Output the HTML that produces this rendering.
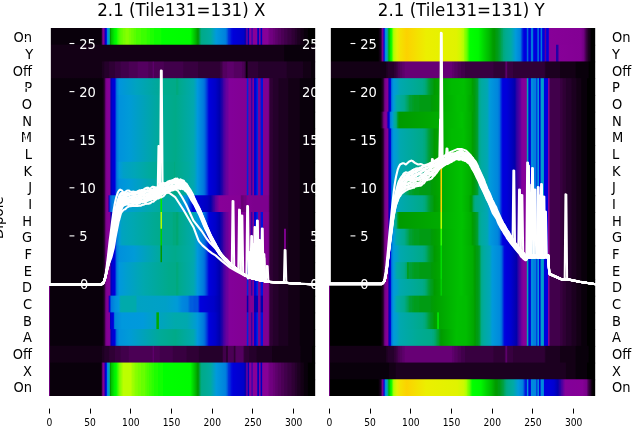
<!DOCTYPE html>
<html><head><meta charset="utf-8"><title>2.1 (Tile131=131)</title>
<style>
html,body{margin:0;padding:0;background:#fff}
body{width:640px;height:440px;overflow:hidden;font-family:"DejaVu Sans","Liberation Sans",sans-serif}
svg{display:block}
text{font-family:"DejaVu Sans","Liberation Sans",sans-serif}
.t{font-size:16.67px;fill:#000;text-anchor:middle}
.yl{font-size:13.89px;fill:#000}
.wl{font-size:13.89px;fill:#fff}
.xl{font-size:9.72px;fill:#000;text-anchor:middle}
.ln{fill:none;stroke:#fff;stroke-width:2.08;stroke-linejoin:round;stroke-linecap:square}
</style></head><body>
<svg width="640" height="440" viewBox="0 0 640 440">
<rect width="640" height="440" fill="#fff"/>
<defs><linearGradient id="g0_0" gradientUnits="userSpaceOnUse" x1="49.00" y1="0" x2="315.10" y2="0"><stop offset="0.001529" stop-color="#7a008b"/><stop offset="0.004587" stop-color="#09000b"/><stop offset="0.1942" stop-color="#09000b"/><stop offset="0.1972" stop-color="#1c0020"/><stop offset="0.2003" stop-color="#5d006b"/><stop offset="0.2034" stop-color="#820093"/><stop offset="0.2064" stop-color="#870098"/><stop offset="0.2095" stop-color="#3800a3"/><stop offset="0.2125" stop-color="#0000d1"/><stop offset="0.2156" stop-color="#0009dd"/><stop offset="0.2187" stop-color="#0085dd"/><stop offset="0.2217" stop-color="#009adb"/><stop offset="0.2278" stop-color="#00aa93"/><stop offset="0.2309" stop-color="#009c00"/><stop offset="0.2339" stop-color="#00bf00"/><stop offset="0.2462" stop-color="#00ef00"/><stop offset="0.2523" stop-color="#00fc00"/><stop offset="0.2554" stop-color="#0fff00"/><stop offset="0.2584" stop-color="#2cff00"/><stop offset="0.2676" stop-color="#58ff00"/><stop offset="0.2706" stop-color="#58ff00"/><stop offset="0.2737" stop-color="#67ff00"/><stop offset="0.2768" stop-color="#67ff00"/><stop offset="0.2798" stop-color="#75ff00"/><stop offset="0.2859" stop-color="#75ff00"/><stop offset="0.289" stop-color="#84ff00"/><stop offset="0.2982" stop-color="#84ff00"/><stop offset="0.3012" stop-color="#75ff00"/><stop offset="0.3073" stop-color="#75ff00"/><stop offset="0.3104" stop-color="#67ff00"/><stop offset="0.3165" stop-color="#67ff00"/><stop offset="0.3196" stop-color="#58ff00"/><stop offset="0.3257" stop-color="#58ff00"/><stop offset="0.3287" stop-color="#49ff00"/><stop offset="0.344" stop-color="#49ff00"/><stop offset="0.3471" stop-color="#3bff00"/><stop offset="0.3654" stop-color="#3bff00"/><stop offset="0.3685" stop-color="#2cff00"/><stop offset="0.3777" stop-color="#2cff00"/><stop offset="0.3807" stop-color="#1dff00"/><stop offset="0.393" stop-color="#1dff00"/><stop offset="0.396" stop-color="#0fff00"/><stop offset="0.4205" stop-color="#0fff00"/><stop offset="0.4235" stop-color="#00ff00"/><stop offset="0.5306" stop-color="#00fc00"/><stop offset="0.552" stop-color="#00b400"/><stop offset="0.5581" stop-color="#009c00"/><stop offset="0.5612" stop-color="#009a08"/><stop offset="0.5642" stop-color="#009e28"/><stop offset="0.5673" stop-color="#00a353"/><stop offset="0.5703" stop-color="#00a773"/><stop offset="0.5734" stop-color="#00aa88"/><stop offset="0.607" stop-color="#00aaa0"/><stop offset="0.6284" stop-color="#009adb"/><stop offset="0.6621" stop-color="#0082dd"/><stop offset="0.6651" stop-color="#007add"/><stop offset="0.6713" stop-color="#0054dd"/><stop offset="0.6743" stop-color="#0038dd"/><stop offset="0.6804" stop-color="#0025dd"/><stop offset="0.6865" stop-color="#0009dd"/><stop offset="0.6927" stop-color="#0000d9"/><stop offset="0.7263" stop-color="#0000cd"/><stop offset="0.7324" stop-color="#0000c9"/><stop offset="0.7355" stop-color="#0000b9"/><stop offset="0.7385" stop-color="#0d00a8"/><stop offset="0.7446" stop-color="#870098"/><stop offset="0.7477" stop-color="#0000bd"/><stop offset="0.7508" stop-color="#0000bd"/><stop offset="0.7538" stop-color="#870098"/><stop offset="0.7599" stop-color="#870098"/><stop offset="0.763" stop-color="#0000bd"/><stop offset="0.7661" stop-color="#870098"/><stop offset="0.7813" stop-color="#870098"/><stop offset="0.7844" stop-color="#0000bd"/><stop offset="0.7875" stop-color="#0000bd"/><stop offset="0.7905" stop-color="#870098"/><stop offset="0.7936" stop-color="#870098"/><stop offset="0.7966" stop-color="#0000bd"/><stop offset="0.7997" stop-color="#0000bd"/><stop offset="0.8028" stop-color="#870098"/><stop offset="0.8211" stop-color="#870098"/><stop offset="0.8303" stop-color="#700080"/><stop offset="0.8394" stop-color="#700080"/><stop offset="0.8425" stop-color="#670075"/><stop offset="0.8486" stop-color="#670075"/><stop offset="0.8517" stop-color="#5d006b"/><stop offset="0.8578" stop-color="#5d006b"/><stop offset="0.8609" stop-color="#540060"/><stop offset="0.87" stop-color="#540060"/><stop offset="0.8731" stop-color="#4b0055"/><stop offset="0.8823" stop-color="#4b0055"/><stop offset="0.8853" stop-color="#41004b"/><stop offset="0.8945" stop-color="#41004b"/><stop offset="0.8976" stop-color="#380040"/><stop offset="0.9098" stop-color="#380040"/><stop offset="0.9128" stop-color="#2f0035"/><stop offset="0.922" stop-color="#2f0035"/><stop offset="0.9251" stop-color="#25002b"/><stop offset="0.9312" stop-color="#25002b"/><stop offset="0.9343" stop-color="#1c0020"/><stop offset="0.9434" stop-color="#1c0020"/><stop offset="0.9465" stop-color="#130015"/><stop offset="0.9557" stop-color="#130015"/><stop offset="0.9587" stop-color="#09000b"/><stop offset="0.9709" stop-color="#09000b"/><stop offset="0.974" stop-color="#000000"/><stop offset="0.9985" stop-color="#000000"/></linearGradient>
<linearGradient id="g0_1" gradientUnits="userSpaceOnUse" x1="49.00" y1="0" x2="315.10" y2="0"><stop offset="0.001529" stop-color="#7a008b"/><stop offset="0.004587" stop-color="#130015"/><stop offset="0.8823" stop-color="#130015"/><stop offset="0.8853" stop-color="#09000b"/><stop offset="0.9985" stop-color="#09000b"/></linearGradient>
<linearGradient id="g0_2" gradientUnits="userSpaceOnUse" x1="49.00" y1="0" x2="315.10" y2="0"><stop offset="0.001529" stop-color="#7a008b"/><stop offset="0.004587" stop-color="#130015"/><stop offset="0.1972" stop-color="#130015"/><stop offset="0.2003" stop-color="#1c0020"/><stop offset="0.2064" stop-color="#1c0020"/><stop offset="0.2095" stop-color="#25002b"/><stop offset="0.2248" stop-color="#25002b"/><stop offset="0.2278" stop-color="#2f0035"/><stop offset="0.2462" stop-color="#2f0035"/><stop offset="0.2492" stop-color="#380040"/><stop offset="0.2676" stop-color="#380040"/><stop offset="0.2706" stop-color="#41004b"/><stop offset="0.2982" stop-color="#41004b"/><stop offset="0.3012" stop-color="#4b0055"/><stop offset="0.3318" stop-color="#4b0055"/><stop offset="0.3349" stop-color="#540060"/><stop offset="0.3716" stop-color="#540060"/><stop offset="0.3746" stop-color="#4b0055"/><stop offset="0.3869" stop-color="#4b0055"/><stop offset="0.393" stop-color="#5d006b"/><stop offset="0.396" stop-color="#4b0055"/><stop offset="0.4297" stop-color="#4b0055"/><stop offset="0.4327" stop-color="#41004b"/><stop offset="0.5031" stop-color="#41004b"/><stop offset="0.5061" stop-color="#380040"/><stop offset="0.5581" stop-color="#380040"/><stop offset="0.5612" stop-color="#2f0035"/><stop offset="0.6407" stop-color="#2f0035"/><stop offset="0.6437" stop-color="#380040"/><stop offset="0.6468" stop-color="#380040"/><stop offset="0.656" stop-color="#540060"/><stop offset="0.6682" stop-color="#540060"/><stop offset="0.6713" stop-color="#5d006b"/><stop offset="0.6927" stop-color="#5d006b"/><stop offset="0.6957" stop-color="#540060"/><stop offset="0.7232" stop-color="#540060"/><stop offset="0.7263" stop-color="#4b0055"/><stop offset="0.7324" stop-color="#4b0055"/><stop offset="0.7355" stop-color="#41004b"/><stop offset="0.7385" stop-color="#2f0035"/><stop offset="0.7416" stop-color="#09000b"/><stop offset="0.7446" stop-color="#09000b"/><stop offset="0.7477" stop-color="#2f0035"/><stop offset="0.7844" stop-color="#2f0035"/><stop offset="0.7875" stop-color="#25002b"/><stop offset="0.8914" stop-color="#25002b"/><stop offset="0.8945" stop-color="#1c0020"/><stop offset="0.9526" stop-color="#1c0020"/><stop offset="0.9557" stop-color="#130015"/><stop offset="0.9832" stop-color="#130015"/><stop offset="0.9862" stop-color="#09000b"/><stop offset="0.9985" stop-color="#09000b"/></linearGradient>
<linearGradient id="g0_3" gradientUnits="userSpaceOnUse" x1="49.00" y1="0" x2="315.10" y2="0"><stop offset="0.001529" stop-color="#7a008b"/><stop offset="0.004587" stop-color="#09000b"/><stop offset="0.2003" stop-color="#09000b"/><stop offset="0.2064" stop-color="#1c0020"/><stop offset="0.2095" stop-color="#380040"/><stop offset="0.2125" stop-color="#670075"/><stop offset="0.2156" stop-color="#7d008e"/><stop offset="0.2217" stop-color="#870098"/><stop offset="0.2278" stop-color="#83009a"/><stop offset="0.2309" stop-color="#4300a2"/><stop offset="0.2339" stop-color="#0000b5"/><stop offset="0.237" stop-color="#0000d1"/><stop offset="0.2462" stop-color="#0000d9"/><stop offset="0.2492" stop-color="#001cdd"/><stop offset="0.2523" stop-color="#005ddd"/><stop offset="0.2554" stop-color="#007ddd"/><stop offset="0.2645" stop-color="#0095dd"/><stop offset="0.3287" stop-color="#00a3bf"/><stop offset="0.4358" stop-color="#00aa8d"/><stop offset="0.4755" stop-color="#00aa88"/><stop offset="0.4786" stop-color="#00a97d"/><stop offset="0.4847" stop-color="#00a97d"/><stop offset="0.4878" stop-color="#00aa8b"/><stop offset="0.5428" stop-color="#00a8af"/><stop offset="0.5489" stop-color="#00a3bf"/><stop offset="0.5581" stop-color="#0098dd"/><stop offset="0.5795" stop-color="#007add"/><stop offset="0.5856" stop-color="#0067dd"/><stop offset="0.5948" stop-color="#002fdd"/><stop offset="0.6009" stop-color="#0000dd"/><stop offset="0.6254" stop-color="#0000c9"/><stop offset="0.6407" stop-color="#0000ad"/><stop offset="0.6529" stop-color="#2d00a4"/><stop offset="0.656" stop-color="#4300a2"/><stop offset="0.6682" stop-color="#6d009c"/><stop offset="0.6713" stop-color="#6d009c"/><stop offset="0.6774" stop-color="#83009a"/><stop offset="0.7416" stop-color="#820093"/><stop offset="0.7446" stop-color="#0025dd"/><stop offset="0.7477" stop-color="#0025dd"/><stop offset="0.7508" stop-color="#820093"/><stop offset="0.7569" stop-color="#820093"/><stop offset="0.7599" stop-color="#3800a3"/><stop offset="0.763" stop-color="#3800a3"/><stop offset="0.7661" stop-color="#820093"/><stop offset="0.7691" stop-color="#820093"/><stop offset="0.7722" stop-color="#0000d5"/><stop offset="0.7783" stop-color="#0000d5"/><stop offset="0.7813" stop-color="#0025dd"/><stop offset="0.7844" stop-color="#0025dd"/><stop offset="0.7875" stop-color="#820093"/><stop offset="0.7936" stop-color="#810092"/><stop offset="0.7966" stop-color="#0013dd"/><stop offset="0.8028" stop-color="#0013dd"/><stop offset="0.8058" stop-color="#810092"/><stop offset="0.8242" stop-color="#810092"/><stop offset="0.8272" stop-color="#5d006b"/><stop offset="0.8303" stop-color="#2f0035"/><stop offset="0.8394" stop-color="#2f0035"/><stop offset="0.8425" stop-color="#25002b"/><stop offset="0.8609" stop-color="#25002b"/><stop offset="0.8639" stop-color="#1c0020"/><stop offset="0.8976" stop-color="#1c0020"/><stop offset="0.9006" stop-color="#130015"/><stop offset="0.9404" stop-color="#130015"/><stop offset="0.9434" stop-color="#09000b"/><stop offset="0.9924" stop-color="#09000b"/><stop offset="0.9954" stop-color="#000000"/><stop offset="0.9985" stop-color="#000000"/></linearGradient>
<linearGradient id="g0_4" gradientUnits="userSpaceOnUse" x1="49.00" y1="0" x2="315.10" y2="0"><stop offset="0.001529" stop-color="#7a008b"/><stop offset="0.004587" stop-color="#09000b"/><stop offset="0.2003" stop-color="#09000b"/><stop offset="0.2064" stop-color="#1c0020"/><stop offset="0.2095" stop-color="#380040"/><stop offset="0.2125" stop-color="#670075"/><stop offset="0.2156" stop-color="#7d008e"/><stop offset="0.2217" stop-color="#870098"/><stop offset="0.2278" stop-color="#83009a"/><stop offset="0.2309" stop-color="#4300a2"/><stop offset="0.2339" stop-color="#0000b5"/><stop offset="0.237" stop-color="#0000d1"/><stop offset="0.2462" stop-color="#0000d9"/><stop offset="0.2492" stop-color="#001cdd"/><stop offset="0.2523" stop-color="#005ddd"/><stop offset="0.2554" stop-color="#007add"/><stop offset="0.2645" stop-color="#0092dd"/><stop offset="0.3012" stop-color="#009bd7"/><stop offset="0.4174" stop-color="#00aa98"/><stop offset="0.4755" stop-color="#00aa88"/><stop offset="0.5428" stop-color="#00a8af"/><stop offset="0.5489" stop-color="#00a3bf"/><stop offset="0.5581" stop-color="#0098dd"/><stop offset="0.5795" stop-color="#007add"/><stop offset="0.5856" stop-color="#0067dd"/><stop offset="0.5948" stop-color="#002fdd"/><stop offset="0.6009" stop-color="#0000dd"/><stop offset="0.6254" stop-color="#0000c9"/><stop offset="0.6407" stop-color="#0000ad"/><stop offset="0.6529" stop-color="#2d00a4"/><stop offset="0.656" stop-color="#4300a2"/><stop offset="0.6682" stop-color="#6d009c"/><stop offset="0.6713" stop-color="#6d009c"/><stop offset="0.6774" stop-color="#83009a"/><stop offset="0.7416" stop-color="#820093"/><stop offset="0.7446" stop-color="#0025dd"/><stop offset="0.7477" stop-color="#0025dd"/><stop offset="0.7508" stop-color="#820093"/><stop offset="0.7569" stop-color="#820093"/><stop offset="0.7599" stop-color="#3800a3"/><stop offset="0.763" stop-color="#3800a3"/><stop offset="0.7661" stop-color="#820093"/><stop offset="0.7691" stop-color="#820093"/><stop offset="0.7722" stop-color="#0000d5"/><stop offset="0.7783" stop-color="#0000d5"/><stop offset="0.7813" stop-color="#0025dd"/><stop offset="0.7844" stop-color="#0025dd"/><stop offset="0.7875" stop-color="#820093"/><stop offset="0.7936" stop-color="#810092"/><stop offset="0.7966" stop-color="#0013dd"/><stop offset="0.8028" stop-color="#0013dd"/><stop offset="0.8058" stop-color="#810092"/><stop offset="0.8242" stop-color="#810092"/><stop offset="0.8272" stop-color="#5d006b"/><stop offset="0.8303" stop-color="#2f0035"/><stop offset="0.8394" stop-color="#2f0035"/><stop offset="0.8425" stop-color="#25002b"/><stop offset="0.8609" stop-color="#25002b"/><stop offset="0.8639" stop-color="#1c0020"/><stop offset="0.8976" stop-color="#1c0020"/><stop offset="0.9006" stop-color="#130015"/><stop offset="0.9404" stop-color="#130015"/><stop offset="0.9434" stop-color="#09000b"/><stop offset="0.9924" stop-color="#09000b"/><stop offset="0.9954" stop-color="#000000"/><stop offset="0.9985" stop-color="#000000"/></linearGradient>
<linearGradient id="g0_5" gradientUnits="userSpaceOnUse" x1="49.00" y1="0" x2="315.10" y2="0"><stop offset="0.001529" stop-color="#7a008b"/><stop offset="0.004587" stop-color="#09000b"/><stop offset="0.2003" stop-color="#09000b"/><stop offset="0.2064" stop-color="#1c0020"/><stop offset="0.2095" stop-color="#380040"/><stop offset="0.2125" stop-color="#670075"/><stop offset="0.2156" stop-color="#7d008e"/><stop offset="0.2217" stop-color="#870098"/><stop offset="0.2278" stop-color="#83009a"/><stop offset="0.2309" stop-color="#4300a2"/><stop offset="0.2339" stop-color="#0000b5"/><stop offset="0.237" stop-color="#0000d1"/><stop offset="0.2462" stop-color="#0000d9"/><stop offset="0.2492" stop-color="#001cdd"/><stop offset="0.2523" stop-color="#005ddd"/><stop offset="0.2554" stop-color="#007add"/><stop offset="0.2645" stop-color="#0092dd"/><stop offset="0.3012" stop-color="#009bd7"/><stop offset="0.4174" stop-color="#00aa98"/><stop offset="0.4755" stop-color="#00aa88"/><stop offset="0.5428" stop-color="#00a8af"/><stop offset="0.5489" stop-color="#00a3bf"/><stop offset="0.5581" stop-color="#0098dd"/><stop offset="0.5795" stop-color="#007add"/><stop offset="0.5856" stop-color="#0067dd"/><stop offset="0.5948" stop-color="#002fdd"/><stop offset="0.6009" stop-color="#0000dd"/><stop offset="0.6254" stop-color="#0000c9"/><stop offset="0.6407" stop-color="#0000ad"/><stop offset="0.6529" stop-color="#2d00a4"/><stop offset="0.656" stop-color="#4300a2"/><stop offset="0.6682" stop-color="#6d009c"/><stop offset="0.6713" stop-color="#6d009c"/><stop offset="0.6774" stop-color="#83009a"/><stop offset="0.7416" stop-color="#820093"/><stop offset="0.7446" stop-color="#0025dd"/><stop offset="0.7477" stop-color="#0025dd"/><stop offset="0.7508" stop-color="#820093"/><stop offset="0.7569" stop-color="#820093"/><stop offset="0.7599" stop-color="#3800a3"/><stop offset="0.763" stop-color="#3800a3"/><stop offset="0.7661" stop-color="#820093"/><stop offset="0.7691" stop-color="#820093"/><stop offset="0.7722" stop-color="#0000d5"/><stop offset="0.7783" stop-color="#0000d5"/><stop offset="0.7813" stop-color="#0025dd"/><stop offset="0.7844" stop-color="#0025dd"/><stop offset="0.7875" stop-color="#820093"/><stop offset="0.7936" stop-color="#810092"/><stop offset="0.7966" stop-color="#0013dd"/><stop offset="0.8028" stop-color="#0013dd"/><stop offset="0.8058" stop-color="#810092"/><stop offset="0.8242" stop-color="#810092"/><stop offset="0.8272" stop-color="#5d006b"/><stop offset="0.8303" stop-color="#2f0035"/><stop offset="0.8394" stop-color="#2f0035"/><stop offset="0.8425" stop-color="#25002b"/><stop offset="0.8609" stop-color="#25002b"/><stop offset="0.8639" stop-color="#1c0020"/><stop offset="0.8976" stop-color="#1c0020"/><stop offset="0.9006" stop-color="#130015"/><stop offset="0.9404" stop-color="#130015"/><stop offset="0.9434" stop-color="#09000b"/><stop offset="0.9924" stop-color="#09000b"/><stop offset="0.9954" stop-color="#000000"/><stop offset="0.9985" stop-color="#000000"/></linearGradient>
<linearGradient id="g0_6" gradientUnits="userSpaceOnUse" x1="49.00" y1="0" x2="315.10" y2="0"><stop offset="0.001529" stop-color="#7a008b"/><stop offset="0.004587" stop-color="#09000b"/><stop offset="0.2003" stop-color="#09000b"/><stop offset="0.2064" stop-color="#1c0020"/><stop offset="0.2095" stop-color="#380040"/><stop offset="0.2125" stop-color="#670075"/><stop offset="0.2156" stop-color="#7d008e"/><stop offset="0.2217" stop-color="#870098"/><stop offset="0.2278" stop-color="#83009a"/><stop offset="0.2309" stop-color="#4300a2"/><stop offset="0.2339" stop-color="#0000b5"/><stop offset="0.237" stop-color="#0000d1"/><stop offset="0.2462" stop-color="#0000d9"/><stop offset="0.2492" stop-color="#001cdd"/><stop offset="0.2523" stop-color="#005ddd"/><stop offset="0.2554" stop-color="#007add"/><stop offset="0.2645" stop-color="#0092dd"/><stop offset="0.3012" stop-color="#009bd7"/><stop offset="0.4174" stop-color="#00aa98"/><stop offset="0.4755" stop-color="#00aa88"/><stop offset="0.5428" stop-color="#00a8af"/><stop offset="0.5489" stop-color="#00a3bf"/><stop offset="0.5581" stop-color="#0098dd"/><stop offset="0.5795" stop-color="#007add"/><stop offset="0.5856" stop-color="#0067dd"/><stop offset="0.5948" stop-color="#002fdd"/><stop offset="0.6009" stop-color="#0000dd"/><stop offset="0.6254" stop-color="#0000c9"/><stop offset="0.6407" stop-color="#0000ad"/><stop offset="0.6529" stop-color="#2d00a4"/><stop offset="0.656" stop-color="#4300a2"/><stop offset="0.6682" stop-color="#6d009c"/><stop offset="0.6713" stop-color="#6d009c"/><stop offset="0.6774" stop-color="#83009a"/><stop offset="0.7416" stop-color="#820093"/><stop offset="0.7446" stop-color="#0025dd"/><stop offset="0.7477" stop-color="#0025dd"/><stop offset="0.7508" stop-color="#820093"/><stop offset="0.7569" stop-color="#820093"/><stop offset="0.7599" stop-color="#3800a3"/><stop offset="0.763" stop-color="#3800a3"/><stop offset="0.7661" stop-color="#820093"/><stop offset="0.7691" stop-color="#820093"/><stop offset="0.7722" stop-color="#0000d5"/><stop offset="0.7783" stop-color="#0000d5"/><stop offset="0.7813" stop-color="#0025dd"/><stop offset="0.7844" stop-color="#0025dd"/><stop offset="0.7875" stop-color="#820093"/><stop offset="0.7936" stop-color="#810092"/><stop offset="0.7966" stop-color="#0013dd"/><stop offset="0.8028" stop-color="#0013dd"/><stop offset="0.8058" stop-color="#810092"/><stop offset="0.8242" stop-color="#810092"/><stop offset="0.8272" stop-color="#5d006b"/><stop offset="0.8303" stop-color="#2f0035"/><stop offset="0.8394" stop-color="#2f0035"/><stop offset="0.8425" stop-color="#25002b"/><stop offset="0.8609" stop-color="#25002b"/><stop offset="0.8639" stop-color="#1c0020"/><stop offset="0.8976" stop-color="#1c0020"/><stop offset="0.9006" stop-color="#130015"/><stop offset="0.9404" stop-color="#130015"/><stop offset="0.9434" stop-color="#09000b"/><stop offset="0.9924" stop-color="#09000b"/><stop offset="0.9954" stop-color="#000000"/><stop offset="0.9985" stop-color="#000000"/></linearGradient>
<linearGradient id="g0_7" gradientUnits="userSpaceOnUse" x1="49.00" y1="0" x2="315.10" y2="0"><stop offset="0.001529" stop-color="#7a008b"/><stop offset="0.004587" stop-color="#09000b"/><stop offset="0.2003" stop-color="#09000b"/><stop offset="0.2064" stop-color="#1c0020"/><stop offset="0.2095" stop-color="#380040"/><stop offset="0.2125" stop-color="#670075"/><stop offset="0.2156" stop-color="#7d008e"/><stop offset="0.2217" stop-color="#870098"/><stop offset="0.2278" stop-color="#83009a"/><stop offset="0.2309" stop-color="#4300a2"/><stop offset="0.2339" stop-color="#0000b5"/><stop offset="0.237" stop-color="#0000d1"/><stop offset="0.2462" stop-color="#0000d9"/><stop offset="0.2492" stop-color="#001cdd"/><stop offset="0.2523" stop-color="#005ddd"/><stop offset="0.2554" stop-color="#007add"/><stop offset="0.2645" stop-color="#0092dd"/><stop offset="0.3012" stop-color="#009bd7"/><stop offset="0.4174" stop-color="#00aa98"/><stop offset="0.4755" stop-color="#00aa88"/><stop offset="0.5428" stop-color="#00a8af"/><stop offset="0.5489" stop-color="#00a3bf"/><stop offset="0.5581" stop-color="#0098dd"/><stop offset="0.5795" stop-color="#007add"/><stop offset="0.5856" stop-color="#0067dd"/><stop offset="0.5948" stop-color="#002fdd"/><stop offset="0.6009" stop-color="#0000dd"/><stop offset="0.6254" stop-color="#0000c9"/><stop offset="0.6407" stop-color="#0000ad"/><stop offset="0.6529" stop-color="#2d00a4"/><stop offset="0.656" stop-color="#4300a2"/><stop offset="0.6682" stop-color="#6d009c"/><stop offset="0.6713" stop-color="#6d009c"/><stop offset="0.6774" stop-color="#83009a"/><stop offset="0.7416" stop-color="#820093"/><stop offset="0.7446" stop-color="#0025dd"/><stop offset="0.7477" stop-color="#0025dd"/><stop offset="0.7508" stop-color="#820093"/><stop offset="0.7569" stop-color="#820093"/><stop offset="0.7599" stop-color="#3800a3"/><stop offset="0.763" stop-color="#3800a3"/><stop offset="0.7661" stop-color="#820093"/><stop offset="0.7691" stop-color="#820093"/><stop offset="0.7722" stop-color="#0000d5"/><stop offset="0.7783" stop-color="#0000d5"/><stop offset="0.7813" stop-color="#0025dd"/><stop offset="0.7844" stop-color="#0025dd"/><stop offset="0.7875" stop-color="#820093"/><stop offset="0.7936" stop-color="#810092"/><stop offset="0.7966" stop-color="#0013dd"/><stop offset="0.8028" stop-color="#0013dd"/><stop offset="0.8058" stop-color="#810092"/><stop offset="0.8242" stop-color="#810092"/><stop offset="0.8272" stop-color="#5d006b"/><stop offset="0.8303" stop-color="#2f0035"/><stop offset="0.8394" stop-color="#2f0035"/><stop offset="0.8425" stop-color="#25002b"/><stop offset="0.8609" stop-color="#25002b"/><stop offset="0.8639" stop-color="#1c0020"/><stop offset="0.8976" stop-color="#1c0020"/><stop offset="0.9006" stop-color="#130015"/><stop offset="0.9404" stop-color="#130015"/><stop offset="0.9434" stop-color="#09000b"/><stop offset="0.9924" stop-color="#09000b"/><stop offset="0.9954" stop-color="#000000"/><stop offset="0.9985" stop-color="#000000"/></linearGradient>
<linearGradient id="g0_8" gradientUnits="userSpaceOnUse" x1="49.00" y1="0" x2="315.10" y2="0"><stop offset="0.001529" stop-color="#7a008b"/><stop offset="0.004587" stop-color="#09000b"/><stop offset="0.2003" stop-color="#09000b"/><stop offset="0.2064" stop-color="#1c0020"/><stop offset="0.2095" stop-color="#380040"/><stop offset="0.2125" stop-color="#670075"/><stop offset="0.2156" stop-color="#7d008e"/><stop offset="0.2217" stop-color="#870098"/><stop offset="0.2278" stop-color="#83009a"/><stop offset="0.2309" stop-color="#4300a2"/><stop offset="0.2339" stop-color="#0000b5"/><stop offset="0.237" stop-color="#0000d1"/><stop offset="0.2462" stop-color="#0000d9"/><stop offset="0.2492" stop-color="#001cdd"/><stop offset="0.2523" stop-color="#005ddd"/><stop offset="0.2554" stop-color="#007ddd"/><stop offset="0.2645" stop-color="#009adb"/><stop offset="0.2798" stop-color="#00a0c7"/><stop offset="0.3226" stop-color="#00a6b7"/><stop offset="0.3777" stop-color="#00aa9d"/><stop offset="0.4511" stop-color="#00aa8b"/><stop offset="0.4694" stop-color="#00aa88"/><stop offset="0.4725" stop-color="#00a97d"/><stop offset="0.4755" stop-color="#00aa88"/><stop offset="0.5245" stop-color="#00aaa0"/><stop offset="0.5459" stop-color="#00a7b3"/><stop offset="0.5581" stop-color="#0098dd"/><stop offset="0.5795" stop-color="#007add"/><stop offset="0.5856" stop-color="#0067dd"/><stop offset="0.5948" stop-color="#002fdd"/><stop offset="0.6009" stop-color="#0000dd"/><stop offset="0.6254" stop-color="#0000c9"/><stop offset="0.6407" stop-color="#0000ad"/><stop offset="0.6529" stop-color="#2d00a4"/><stop offset="0.656" stop-color="#4300a2"/><stop offset="0.6682" stop-color="#6d009c"/><stop offset="0.6713" stop-color="#6d009c"/><stop offset="0.6774" stop-color="#83009a"/><stop offset="0.7416" stop-color="#820093"/><stop offset="0.7446" stop-color="#0025dd"/><stop offset="0.7477" stop-color="#0025dd"/><stop offset="0.7508" stop-color="#820093"/><stop offset="0.7569" stop-color="#820093"/><stop offset="0.7599" stop-color="#3800a3"/><stop offset="0.763" stop-color="#3800a3"/><stop offset="0.7661" stop-color="#820093"/><stop offset="0.7691" stop-color="#820093"/><stop offset="0.7722" stop-color="#0000d5"/><stop offset="0.7783" stop-color="#0000d5"/><stop offset="0.7813" stop-color="#0025dd"/><stop offset="0.7844" stop-color="#0025dd"/><stop offset="0.7875" stop-color="#820093"/><stop offset="0.7936" stop-color="#810092"/><stop offset="0.7966" stop-color="#0013dd"/><stop offset="0.8028" stop-color="#0013dd"/><stop offset="0.8058" stop-color="#810092"/><stop offset="0.8242" stop-color="#810092"/><stop offset="0.8272" stop-color="#5d006b"/><stop offset="0.8303" stop-color="#2f0035"/><stop offset="0.8394" stop-color="#2f0035"/><stop offset="0.8425" stop-color="#25002b"/><stop offset="0.8609" stop-color="#25002b"/><stop offset="0.8639" stop-color="#1c0020"/><stop offset="0.8976" stop-color="#1c0020"/><stop offset="0.9006" stop-color="#130015"/><stop offset="0.9404" stop-color="#130015"/><stop offset="0.9434" stop-color="#09000b"/><stop offset="0.9924" stop-color="#09000b"/><stop offset="0.9954" stop-color="#000000"/><stop offset="0.9985" stop-color="#000000"/></linearGradient>
<linearGradient id="g0_9" gradientUnits="userSpaceOnUse" x1="49.00" y1="0" x2="315.10" y2="0"><stop offset="0.001529" stop-color="#7a008b"/><stop offset="0.004587" stop-color="#09000b"/><stop offset="0.2003" stop-color="#09000b"/><stop offset="0.2064" stop-color="#1c0020"/><stop offset="0.2095" stop-color="#380040"/><stop offset="0.2125" stop-color="#670075"/><stop offset="0.2156" stop-color="#7d008e"/><stop offset="0.2217" stop-color="#870098"/><stop offset="0.2278" stop-color="#83009a"/><stop offset="0.2309" stop-color="#4300a2"/><stop offset="0.2339" stop-color="#0000b5"/><stop offset="0.237" stop-color="#0000d1"/><stop offset="0.2462" stop-color="#0000d9"/><stop offset="0.2492" stop-color="#001cdd"/><stop offset="0.2523" stop-color="#005ddd"/><stop offset="0.2554" stop-color="#007add"/><stop offset="0.2645" stop-color="#0092dd"/><stop offset="0.3012" stop-color="#009bd7"/><stop offset="0.4174" stop-color="#00aa98"/><stop offset="0.4755" stop-color="#00aa88"/><stop offset="0.5428" stop-color="#00a8af"/><stop offset="0.5489" stop-color="#00a3bf"/><stop offset="0.5581" stop-color="#0098dd"/><stop offset="0.5795" stop-color="#007add"/><stop offset="0.5856" stop-color="#0067dd"/><stop offset="0.5948" stop-color="#002fdd"/><stop offset="0.6009" stop-color="#0000dd"/><stop offset="0.6254" stop-color="#0000c9"/><stop offset="0.6407" stop-color="#0000ad"/><stop offset="0.6529" stop-color="#2d00a4"/><stop offset="0.656" stop-color="#4300a2"/><stop offset="0.6682" stop-color="#6d009c"/><stop offset="0.6713" stop-color="#6d009c"/><stop offset="0.6774" stop-color="#83009a"/><stop offset="0.7416" stop-color="#820093"/><stop offset="0.7446" stop-color="#0025dd"/><stop offset="0.7477" stop-color="#0025dd"/><stop offset="0.7508" stop-color="#820093"/><stop offset="0.7569" stop-color="#820093"/><stop offset="0.7599" stop-color="#3800a3"/><stop offset="0.763" stop-color="#3800a3"/><stop offset="0.7661" stop-color="#820093"/><stop offset="0.7691" stop-color="#820093"/><stop offset="0.7722" stop-color="#0000d5"/><stop offset="0.7783" stop-color="#0000d5"/><stop offset="0.7813" stop-color="#0025dd"/><stop offset="0.7844" stop-color="#0025dd"/><stop offset="0.7875" stop-color="#820093"/><stop offset="0.7936" stop-color="#810092"/><stop offset="0.7966" stop-color="#0013dd"/><stop offset="0.8028" stop-color="#0013dd"/><stop offset="0.8058" stop-color="#810092"/><stop offset="0.8242" stop-color="#810092"/><stop offset="0.8272" stop-color="#5d006b"/><stop offset="0.8303" stop-color="#2f0035"/><stop offset="0.8394" stop-color="#2f0035"/><stop offset="0.8425" stop-color="#25002b"/><stop offset="0.8609" stop-color="#25002b"/><stop offset="0.8639" stop-color="#1c0020"/><stop offset="0.8976" stop-color="#1c0020"/><stop offset="0.9006" stop-color="#130015"/><stop offset="0.9404" stop-color="#130015"/><stop offset="0.9434" stop-color="#09000b"/><stop offset="0.9924" stop-color="#09000b"/><stop offset="0.9954" stop-color="#000000"/><stop offset="0.9985" stop-color="#000000"/></linearGradient>
<linearGradient id="g0_10" gradientUnits="userSpaceOnUse" x1="49.00" y1="0" x2="315.10" y2="0"><stop offset="0.001529" stop-color="#7a008b"/><stop offset="0.004587" stop-color="#09000b"/><stop offset="0.2003" stop-color="#09000b"/><stop offset="0.2064" stop-color="#1c0020"/><stop offset="0.2095" stop-color="#380040"/><stop offset="0.2125" stop-color="#670075"/><stop offset="0.2156" stop-color="#7d008e"/><stop offset="0.2217" stop-color="#870098"/><stop offset="0.2248" stop-color="#2300a6"/><stop offset="0.2278" stop-color="#0025dd"/><stop offset="0.2309" stop-color="#005ddd"/><stop offset="0.237" stop-color="#007ddd"/><stop offset="0.2676" stop-color="#009adb"/><stop offset="0.3349" stop-color="#00a2c3"/><stop offset="0.3991" stop-color="#00aaa5"/><stop offset="0.4174" stop-color="#00aaa0"/><stop offset="0.4205" stop-color="#00ea00"/><stop offset="0.4235" stop-color="#00ea00"/><stop offset="0.4266" stop-color="#00aaa0"/><stop offset="0.4694" stop-color="#00aaa3"/><stop offset="0.4847" stop-color="#00aaab"/><stop offset="0.5092" stop-color="#0095dd"/><stop offset="0.5214" stop-color="#007ddd"/><stop offset="0.5306" stop-color="#0038dd"/><stop offset="0.5398" stop-color="#0000dd"/><stop offset="0.5948" stop-color="#0000c1"/><stop offset="0.607" stop-color="#0000ad"/><stop offset="0.6131" stop-color="#1800a7"/><stop offset="0.6162" stop-color="#2d00a4"/><stop offset="0.6223" stop-color="#4300a2"/><stop offset="0.6254" stop-color="#58009f"/><stop offset="0.6407" stop-color="#870098"/><stop offset="0.7171" stop-color="#850096"/><stop offset="0.7202" stop-color="#7d008e"/><stop offset="0.7232" stop-color="#670075"/><stop offset="0.7294" stop-color="#670075"/><stop offset="0.7324" stop-color="#700080"/><stop offset="0.7385" stop-color="#700080"/><stop offset="0.7477" stop-color="#810092"/><stop offset="0.7691" stop-color="#7d008e"/><stop offset="0.8242" stop-color="#7d008e"/><stop offset="0.8303" stop-color="#2f0035"/><stop offset="0.8394" stop-color="#2f0035"/><stop offset="0.8425" stop-color="#25002b"/><stop offset="0.8609" stop-color="#25002b"/><stop offset="0.8639" stop-color="#1c0020"/><stop offset="0.8976" stop-color="#1c0020"/><stop offset="0.9006" stop-color="#130015"/><stop offset="0.9404" stop-color="#130015"/><stop offset="0.9434" stop-color="#09000b"/><stop offset="0.9924" stop-color="#09000b"/><stop offset="0.9954" stop-color="#000000"/><stop offset="0.9985" stop-color="#000000"/></linearGradient>
<linearGradient id="g0_11" gradientUnits="userSpaceOnUse" x1="49.00" y1="0" x2="315.10" y2="0"><stop offset="0.001529" stop-color="#7a008b"/><stop offset="0.004587" stop-color="#09000b"/><stop offset="0.2003" stop-color="#09000b"/><stop offset="0.2064" stop-color="#1c0020"/><stop offset="0.2095" stop-color="#380040"/><stop offset="0.2125" stop-color="#670075"/><stop offset="0.2156" stop-color="#7d008e"/><stop offset="0.2217" stop-color="#870098"/><stop offset="0.2278" stop-color="#83009a"/><stop offset="0.2309" stop-color="#4300a2"/><stop offset="0.2339" stop-color="#0000b5"/><stop offset="0.237" stop-color="#0000d1"/><stop offset="0.2462" stop-color="#0000d9"/><stop offset="0.2492" stop-color="#001cdd"/><stop offset="0.2523" stop-color="#005ddd"/><stop offset="0.2554" stop-color="#0080dd"/><stop offset="0.2645" stop-color="#009bd7"/><stop offset="0.2737" stop-color="#00a3bf"/><stop offset="0.3104" stop-color="#00a7b3"/><stop offset="0.396" stop-color="#00aa93"/><stop offset="0.4174" stop-color="#00aa8d"/><stop offset="0.4205" stop-color="#b0ff00"/><stop offset="0.4235" stop-color="#b0ff00"/><stop offset="0.4266" stop-color="#00aa8b"/><stop offset="0.4633" stop-color="#00aa88"/><stop offset="0.4664" stop-color="#00a97d"/><stop offset="0.4755" stop-color="#00a97d"/><stop offset="0.4786" stop-color="#00a773"/><stop offset="0.4847" stop-color="#00a773"/><stop offset="0.4878" stop-color="#00aa88"/><stop offset="0.5428" stop-color="#00a8af"/><stop offset="0.5489" stop-color="#00a3bf"/><stop offset="0.5581" stop-color="#0098dd"/><stop offset="0.5795" stop-color="#007add"/><stop offset="0.5856" stop-color="#0067dd"/><stop offset="0.5948" stop-color="#002fdd"/><stop offset="0.6009" stop-color="#0000dd"/><stop offset="0.6254" stop-color="#0000c9"/><stop offset="0.6407" stop-color="#0000ad"/><stop offset="0.6529" stop-color="#2d00a4"/><stop offset="0.656" stop-color="#4300a2"/><stop offset="0.6682" stop-color="#6d009c"/><stop offset="0.6713" stop-color="#6d009c"/><stop offset="0.6774" stop-color="#83009a"/><stop offset="0.7416" stop-color="#820093"/><stop offset="0.7446" stop-color="#0025dd"/><stop offset="0.7477" stop-color="#0025dd"/><stop offset="0.7508" stop-color="#820093"/><stop offset="0.7569" stop-color="#820093"/><stop offset="0.7599" stop-color="#3800a3"/><stop offset="0.763" stop-color="#3800a3"/><stop offset="0.7661" stop-color="#820093"/><stop offset="0.7691" stop-color="#820093"/><stop offset="0.7722" stop-color="#0000d5"/><stop offset="0.7783" stop-color="#0000d5"/><stop offset="0.7813" stop-color="#0025dd"/><stop offset="0.7844" stop-color="#0025dd"/><stop offset="0.7875" stop-color="#820093"/><stop offset="0.7936" stop-color="#810092"/><stop offset="0.7966" stop-color="#0013dd"/><stop offset="0.8028" stop-color="#0013dd"/><stop offset="0.8058" stop-color="#810092"/><stop offset="0.8242" stop-color="#810092"/><stop offset="0.8272" stop-color="#5d006b"/><stop offset="0.8303" stop-color="#2f0035"/><stop offset="0.8394" stop-color="#2f0035"/><stop offset="0.8425" stop-color="#25002b"/><stop offset="0.8609" stop-color="#25002b"/><stop offset="0.8639" stop-color="#1c0020"/><stop offset="0.8976" stop-color="#1c0020"/><stop offset="0.9006" stop-color="#130015"/><stop offset="0.9404" stop-color="#130015"/><stop offset="0.9434" stop-color="#09000b"/><stop offset="0.9924" stop-color="#09000b"/><stop offset="0.9954" stop-color="#000000"/><stop offset="0.9985" stop-color="#000000"/></linearGradient>
<linearGradient id="g0_12" gradientUnits="userSpaceOnUse" x1="49.00" y1="0" x2="315.10" y2="0"><stop offset="0.001529" stop-color="#7a008b"/><stop offset="0.004587" stop-color="#09000b"/><stop offset="0.2003" stop-color="#09000b"/><stop offset="0.2064" stop-color="#1c0020"/><stop offset="0.2095" stop-color="#380040"/><stop offset="0.2125" stop-color="#670075"/><stop offset="0.2156" stop-color="#7d008e"/><stop offset="0.2217" stop-color="#870098"/><stop offset="0.2278" stop-color="#83009a"/><stop offset="0.2309" stop-color="#4300a2"/><stop offset="0.2339" stop-color="#0000b5"/><stop offset="0.237" stop-color="#0000d1"/><stop offset="0.2462" stop-color="#0000d9"/><stop offset="0.2492" stop-color="#001cdd"/><stop offset="0.2523" stop-color="#005ddd"/><stop offset="0.2554" stop-color="#0080dd"/><stop offset="0.2645" stop-color="#009bd7"/><stop offset="0.2737" stop-color="#00a3bf"/><stop offset="0.3104" stop-color="#00a7b3"/><stop offset="0.396" stop-color="#00aa93"/><stop offset="0.4174" stop-color="#00aa8d"/><stop offset="0.4205" stop-color="#00cf00"/><stop offset="0.4235" stop-color="#00cf00"/><stop offset="0.4266" stop-color="#00aa8b"/><stop offset="0.4633" stop-color="#00aa88"/><stop offset="0.4664" stop-color="#00a97d"/><stop offset="0.4755" stop-color="#00a97d"/><stop offset="0.4786" stop-color="#00a773"/><stop offset="0.4847" stop-color="#00a773"/><stop offset="0.4878" stop-color="#00aa88"/><stop offset="0.5428" stop-color="#00a8af"/><stop offset="0.5489" stop-color="#00a3bf"/><stop offset="0.5581" stop-color="#0098dd"/><stop offset="0.5795" stop-color="#007add"/><stop offset="0.5856" stop-color="#0067dd"/><stop offset="0.5948" stop-color="#002fdd"/><stop offset="0.6009" stop-color="#0000dd"/><stop offset="0.6254" stop-color="#0000c9"/><stop offset="0.6407" stop-color="#0000ad"/><stop offset="0.6529" stop-color="#2d00a4"/><stop offset="0.656" stop-color="#4300a2"/><stop offset="0.6682" stop-color="#6d009c"/><stop offset="0.6713" stop-color="#6d009c"/><stop offset="0.6774" stop-color="#83009a"/><stop offset="0.7416" stop-color="#820093"/><stop offset="0.7446" stop-color="#0025dd"/><stop offset="0.7477" stop-color="#0025dd"/><stop offset="0.7508" stop-color="#820093"/><stop offset="0.7569" stop-color="#820093"/><stop offset="0.7599" stop-color="#3800a3"/><stop offset="0.763" stop-color="#3800a3"/><stop offset="0.7661" stop-color="#820093"/><stop offset="0.7691" stop-color="#820093"/><stop offset="0.7722" stop-color="#0000d5"/><stop offset="0.7783" stop-color="#0000d5"/><stop offset="0.7813" stop-color="#0025dd"/><stop offset="0.7844" stop-color="#0025dd"/><stop offset="0.7875" stop-color="#820093"/><stop offset="0.7936" stop-color="#810092"/><stop offset="0.7966" stop-color="#0013dd"/><stop offset="0.8028" stop-color="#0013dd"/><stop offset="0.8058" stop-color="#810092"/><stop offset="0.8242" stop-color="#810092"/><stop offset="0.8272" stop-color="#5d006b"/><stop offset="0.8303" stop-color="#2f0035"/><stop offset="0.8394" stop-color="#2f0035"/><stop offset="0.8425" stop-color="#25002b"/><stop offset="0.8609" stop-color="#25002b"/><stop offset="0.8639" stop-color="#1c0020"/><stop offset="0.8823" stop-color="#1c0020"/><stop offset="0.8853" stop-color="#850096"/><stop offset="0.8884" stop-color="#850096"/><stop offset="0.8914" stop-color="#1c0020"/><stop offset="0.8976" stop-color="#1c0020"/><stop offset="0.9006" stop-color="#130015"/><stop offset="0.9404" stop-color="#130015"/><stop offset="0.9434" stop-color="#09000b"/><stop offset="0.9924" stop-color="#09000b"/><stop offset="0.9954" stop-color="#000000"/><stop offset="0.9985" stop-color="#000000"/></linearGradient>
<linearGradient id="g0_13" gradientUnits="userSpaceOnUse" x1="49.00" y1="0" x2="315.10" y2="0"><stop offset="0.001529" stop-color="#7a008b"/><stop offset="0.004587" stop-color="#09000b"/><stop offset="0.2003" stop-color="#09000b"/><stop offset="0.2064" stop-color="#1c0020"/><stop offset="0.2095" stop-color="#380040"/><stop offset="0.2125" stop-color="#670075"/><stop offset="0.2156" stop-color="#7d008e"/><stop offset="0.2217" stop-color="#870098"/><stop offset="0.2278" stop-color="#83009a"/><stop offset="0.2309" stop-color="#4300a2"/><stop offset="0.2339" stop-color="#0000b5"/><stop offset="0.237" stop-color="#0000d1"/><stop offset="0.2462" stop-color="#0000d9"/><stop offset="0.2492" stop-color="#001cdd"/><stop offset="0.2523" stop-color="#005ddd"/><stop offset="0.2554" stop-color="#007add"/><stop offset="0.2645" stop-color="#0090dd"/><stop offset="0.3196" stop-color="#009bd7"/><stop offset="0.4174" stop-color="#00aa9d"/><stop offset="0.4205" stop-color="#009a00"/><stop offset="0.4235" stop-color="#009a00"/><stop offset="0.4266" stop-color="#00aa98"/><stop offset="0.4755" stop-color="#00aa8b"/><stop offset="0.5367" stop-color="#00aaa8"/><stop offset="0.5459" stop-color="#00a7b3"/><stop offset="0.5581" stop-color="#0098dd"/><stop offset="0.5795" stop-color="#007add"/><stop offset="0.5856" stop-color="#0067dd"/><stop offset="0.5948" stop-color="#002fdd"/><stop offset="0.6009" stop-color="#0000dd"/><stop offset="0.6254" stop-color="#0000c9"/><stop offset="0.6407" stop-color="#0000ad"/><stop offset="0.6529" stop-color="#2d00a4"/><stop offset="0.656" stop-color="#4300a2"/><stop offset="0.6682" stop-color="#6d009c"/><stop offset="0.6713" stop-color="#6d009c"/><stop offset="0.6774" stop-color="#83009a"/><stop offset="0.7416" stop-color="#820093"/><stop offset="0.7446" stop-color="#0025dd"/><stop offset="0.7477" stop-color="#0025dd"/><stop offset="0.7508" stop-color="#820093"/><stop offset="0.7569" stop-color="#820093"/><stop offset="0.7599" stop-color="#3800a3"/><stop offset="0.763" stop-color="#3800a3"/><stop offset="0.7661" stop-color="#820093"/><stop offset="0.7691" stop-color="#820093"/><stop offset="0.7722" stop-color="#0000d5"/><stop offset="0.7783" stop-color="#0000d5"/><stop offset="0.7813" stop-color="#0025dd"/><stop offset="0.7844" stop-color="#0025dd"/><stop offset="0.7875" stop-color="#820093"/><stop offset="0.7936" stop-color="#810092"/><stop offset="0.7966" stop-color="#0013dd"/><stop offset="0.8028" stop-color="#0013dd"/><stop offset="0.8058" stop-color="#810092"/><stop offset="0.8242" stop-color="#810092"/><stop offset="0.8272" stop-color="#5d006b"/><stop offset="0.8303" stop-color="#2f0035"/><stop offset="0.8394" stop-color="#2f0035"/><stop offset="0.8425" stop-color="#25002b"/><stop offset="0.8609" stop-color="#25002b"/><stop offset="0.8639" stop-color="#1c0020"/><stop offset="0.8823" stop-color="#1c0020"/><stop offset="0.8853" stop-color="#850096"/><stop offset="0.8884" stop-color="#850096"/><stop offset="0.8914" stop-color="#1c0020"/><stop offset="0.8976" stop-color="#1c0020"/><stop offset="0.9006" stop-color="#130015"/><stop offset="0.9404" stop-color="#130015"/><stop offset="0.9434" stop-color="#09000b"/><stop offset="0.9924" stop-color="#09000b"/><stop offset="0.9954" stop-color="#000000"/><stop offset="0.9985" stop-color="#000000"/></linearGradient>
<linearGradient id="g0_14" gradientUnits="userSpaceOnUse" x1="49.00" y1="0" x2="315.10" y2="0"><stop offset="0.001529" stop-color="#7a008b"/><stop offset="0.004587" stop-color="#09000b"/><stop offset="0.2003" stop-color="#09000b"/><stop offset="0.2064" stop-color="#1c0020"/><stop offset="0.2095" stop-color="#380040"/><stop offset="0.2125" stop-color="#670075"/><stop offset="0.2156" stop-color="#7d008e"/><stop offset="0.2217" stop-color="#870098"/><stop offset="0.2278" stop-color="#83009a"/><stop offset="0.2309" stop-color="#4300a2"/><stop offset="0.2339" stop-color="#0000b5"/><stop offset="0.237" stop-color="#0000d1"/><stop offset="0.2462" stop-color="#0000d9"/><stop offset="0.2492" stop-color="#001cdd"/><stop offset="0.2523" stop-color="#005ddd"/><stop offset="0.2554" stop-color="#007ddd"/><stop offset="0.2645" stop-color="#0098dd"/><stop offset="0.289" stop-color="#009ecf"/><stop offset="0.3532" stop-color="#00a8af"/><stop offset="0.4511" stop-color="#00aa8b"/><stop offset="0.4755" stop-color="#00aa88"/><stop offset="0.4786" stop-color="#00a97d"/><stop offset="0.4847" stop-color="#00a97d"/><stop offset="0.4878" stop-color="#00aa8b"/><stop offset="0.5428" stop-color="#00a8af"/><stop offset="0.5489" stop-color="#00a3bf"/><stop offset="0.5581" stop-color="#0098dd"/><stop offset="0.5795" stop-color="#007add"/><stop offset="0.5856" stop-color="#0067dd"/><stop offset="0.5948" stop-color="#002fdd"/><stop offset="0.6009" stop-color="#0000dd"/><stop offset="0.6254" stop-color="#0000c9"/><stop offset="0.6407" stop-color="#0000ad"/><stop offset="0.6529" stop-color="#2d00a4"/><stop offset="0.656" stop-color="#4300a2"/><stop offset="0.6682" stop-color="#6d009c"/><stop offset="0.6713" stop-color="#6d009c"/><stop offset="0.6774" stop-color="#83009a"/><stop offset="0.7416" stop-color="#820093"/><stop offset="0.7446" stop-color="#0025dd"/><stop offset="0.7477" stop-color="#0025dd"/><stop offset="0.7508" stop-color="#820093"/><stop offset="0.7569" stop-color="#820093"/><stop offset="0.7599" stop-color="#3800a3"/><stop offset="0.763" stop-color="#3800a3"/><stop offset="0.7661" stop-color="#820093"/><stop offset="0.7691" stop-color="#820093"/><stop offset="0.7722" stop-color="#0000d5"/><stop offset="0.7783" stop-color="#0000d5"/><stop offset="0.7813" stop-color="#0025dd"/><stop offset="0.7844" stop-color="#0025dd"/><stop offset="0.7875" stop-color="#820093"/><stop offset="0.7936" stop-color="#810092"/><stop offset="0.7966" stop-color="#0013dd"/><stop offset="0.8028" stop-color="#0013dd"/><stop offset="0.8058" stop-color="#810092"/><stop offset="0.8242" stop-color="#810092"/><stop offset="0.8272" stop-color="#5d006b"/><stop offset="0.8303" stop-color="#2f0035"/><stop offset="0.8394" stop-color="#2f0035"/><stop offset="0.8425" stop-color="#25002b"/><stop offset="0.8609" stop-color="#25002b"/><stop offset="0.8639" stop-color="#1c0020"/><stop offset="0.8976" stop-color="#1c0020"/><stop offset="0.9006" stop-color="#130015"/><stop offset="0.9404" stop-color="#130015"/><stop offset="0.9434" stop-color="#09000b"/><stop offset="0.9924" stop-color="#09000b"/><stop offset="0.9954" stop-color="#000000"/><stop offset="0.9985" stop-color="#000000"/></linearGradient>
<linearGradient id="g0_15" gradientUnits="userSpaceOnUse" x1="49.00" y1="0" x2="315.10" y2="0"><stop offset="0.001529" stop-color="#7a008b"/><stop offset="0.004587" stop-color="#09000b"/><stop offset="0.2003" stop-color="#09000b"/><stop offset="0.2064" stop-color="#1c0020"/><stop offset="0.2095" stop-color="#380040"/><stop offset="0.2125" stop-color="#670075"/><stop offset="0.2156" stop-color="#7d008e"/><stop offset="0.2217" stop-color="#870098"/><stop offset="0.2278" stop-color="#83009a"/><stop offset="0.2309" stop-color="#4300a2"/><stop offset="0.2339" stop-color="#0000b5"/><stop offset="0.237" stop-color="#0000d1"/><stop offset="0.2462" stop-color="#0000d9"/><stop offset="0.2492" stop-color="#001cdd"/><stop offset="0.2523" stop-color="#005ddd"/><stop offset="0.2554" stop-color="#007ddd"/><stop offset="0.2645" stop-color="#0098dd"/><stop offset="0.289" stop-color="#009ecf"/><stop offset="0.3532" stop-color="#00a8af"/><stop offset="0.4511" stop-color="#00aa8b"/><stop offset="0.4755" stop-color="#00aa88"/><stop offset="0.4786" stop-color="#00a97d"/><stop offset="0.4847" stop-color="#00a97d"/><stop offset="0.4878" stop-color="#00aa8b"/><stop offset="0.5428" stop-color="#00a8af"/><stop offset="0.5489" stop-color="#00a3bf"/><stop offset="0.5581" stop-color="#0098dd"/><stop offset="0.5795" stop-color="#007add"/><stop offset="0.5856" stop-color="#0067dd"/><stop offset="0.5948" stop-color="#002fdd"/><stop offset="0.6009" stop-color="#0000dd"/><stop offset="0.6254" stop-color="#0000c9"/><stop offset="0.6407" stop-color="#0000ad"/><stop offset="0.6529" stop-color="#2d00a4"/><stop offset="0.656" stop-color="#4300a2"/><stop offset="0.6682" stop-color="#6d009c"/><stop offset="0.6713" stop-color="#6d009c"/><stop offset="0.6774" stop-color="#83009a"/><stop offset="0.7416" stop-color="#820093"/><stop offset="0.7446" stop-color="#0025dd"/><stop offset="0.7477" stop-color="#0025dd"/><stop offset="0.7508" stop-color="#820093"/><stop offset="0.7569" stop-color="#820093"/><stop offset="0.7599" stop-color="#3800a3"/><stop offset="0.763" stop-color="#3800a3"/><stop offset="0.7661" stop-color="#820093"/><stop offset="0.7691" stop-color="#820093"/><stop offset="0.7722" stop-color="#0000d5"/><stop offset="0.7783" stop-color="#0000d5"/><stop offset="0.7813" stop-color="#0025dd"/><stop offset="0.7844" stop-color="#0025dd"/><stop offset="0.7875" stop-color="#820093"/><stop offset="0.7936" stop-color="#810092"/><stop offset="0.7966" stop-color="#0013dd"/><stop offset="0.8028" stop-color="#0013dd"/><stop offset="0.8058" stop-color="#810092"/><stop offset="0.8242" stop-color="#810092"/><stop offset="0.8272" stop-color="#5d006b"/><stop offset="0.8303" stop-color="#2f0035"/><stop offset="0.8394" stop-color="#2f0035"/><stop offset="0.8425" stop-color="#25002b"/><stop offset="0.8609" stop-color="#25002b"/><stop offset="0.8639" stop-color="#1c0020"/><stop offset="0.8976" stop-color="#1c0020"/><stop offset="0.9006" stop-color="#130015"/><stop offset="0.9404" stop-color="#130015"/><stop offset="0.9434" stop-color="#09000b"/><stop offset="0.9924" stop-color="#09000b"/><stop offset="0.9954" stop-color="#000000"/><stop offset="0.9985" stop-color="#000000"/></linearGradient>
<linearGradient id="g0_16" gradientUnits="userSpaceOnUse" x1="49.00" y1="0" x2="315.10" y2="0"><stop offset="0.001529" stop-color="#7a008b"/><stop offset="0.004587" stop-color="#09000b"/><stop offset="0.2003" stop-color="#09000b"/><stop offset="0.2064" stop-color="#1c0020"/><stop offset="0.2095" stop-color="#380040"/><stop offset="0.2125" stop-color="#670075"/><stop offset="0.2156" stop-color="#7d008e"/><stop offset="0.2217" stop-color="#870098"/><stop offset="0.2248" stop-color="#4300a2"/><stop offset="0.2278" stop-color="#0000d9"/><stop offset="0.2309" stop-color="#0041dd"/><stop offset="0.2339" stop-color="#0078dd"/><stop offset="0.2492" stop-color="#0090dd"/><stop offset="0.2615" stop-color="#0098dd"/><stop offset="0.2645" stop-color="#009ecf"/><stop offset="0.2676" stop-color="#00a7b3"/><stop offset="0.2737" stop-color="#00aaab"/><stop offset="0.3257" stop-color="#00aaab"/><stop offset="0.3318" stop-color="#00a2c3"/><stop offset="0.4388" stop-color="#00a0c7"/><stop offset="0.4817" stop-color="#009bd7"/><stop offset="0.5" stop-color="#0088dd"/><stop offset="0.5214" stop-color="#0080dd"/><stop offset="0.5306" stop-color="#005ddd"/><stop offset="0.5398" stop-color="#005ddd"/><stop offset="0.5459" stop-color="#0054dd"/><stop offset="0.5581" stop-color="#0054dd"/><stop offset="0.5612" stop-color="#0041dd"/><stop offset="0.5673" stop-color="#0000dd"/><stop offset="0.6193" stop-color="#0000c9"/><stop offset="0.6407" stop-color="#0000ad"/><stop offset="0.6529" stop-color="#2d00a4"/><stop offset="0.656" stop-color="#4300a2"/><stop offset="0.6682" stop-color="#6d009c"/><stop offset="0.6713" stop-color="#6d009c"/><stop offset="0.6774" stop-color="#83009a"/><stop offset="0.7416" stop-color="#820093"/><stop offset="0.7446" stop-color="#0000b1"/><stop offset="0.7477" stop-color="#0000b1"/><stop offset="0.7508" stop-color="#820093"/><stop offset="0.7691" stop-color="#820093"/><stop offset="0.7722" stop-color="#0300aa"/><stop offset="0.7783" stop-color="#0300aa"/><stop offset="0.7813" stop-color="#0000bd"/><stop offset="0.7844" stop-color="#0000bd"/><stop offset="0.7875" stop-color="#820093"/><stop offset="0.7936" stop-color="#810092"/><stop offset="0.7966" stop-color="#0000b1"/><stop offset="0.8028" stop-color="#0000b1"/><stop offset="0.8058" stop-color="#810092"/><stop offset="0.8242" stop-color="#810092"/><stop offset="0.8272" stop-color="#5d006b"/><stop offset="0.8303" stop-color="#2f0035"/><stop offset="0.8394" stop-color="#2f0035"/><stop offset="0.8425" stop-color="#25002b"/><stop offset="0.8609" stop-color="#25002b"/><stop offset="0.8639" stop-color="#1c0020"/><stop offset="0.8976" stop-color="#1c0020"/><stop offset="0.9006" stop-color="#130015"/><stop offset="0.9404" stop-color="#130015"/><stop offset="0.9434" stop-color="#09000b"/><stop offset="0.9924" stop-color="#09000b"/><stop offset="0.9954" stop-color="#000000"/><stop offset="0.9985" stop-color="#000000"/></linearGradient>
<linearGradient id="g0_17" gradientUnits="userSpaceOnUse" x1="49.00" y1="0" x2="315.10" y2="0"><stop offset="0.001529" stop-color="#7a008b"/><stop offset="0.004587" stop-color="#09000b"/><stop offset="0.2003" stop-color="#09000b"/><stop offset="0.2064" stop-color="#1c0020"/><stop offset="0.2095" stop-color="#380040"/><stop offset="0.2125" stop-color="#670075"/><stop offset="0.2156" stop-color="#7d008e"/><stop offset="0.2217" stop-color="#870098"/><stop offset="0.2278" stop-color="#83009a"/><stop offset="0.2309" stop-color="#0000c1"/><stop offset="0.2339" stop-color="#0000d5"/><stop offset="0.2401" stop-color="#0000d9"/><stop offset="0.2431" stop-color="#0013dd"/><stop offset="0.2462" stop-color="#0070dd"/><stop offset="0.2492" stop-color="#0085dd"/><stop offset="0.2737" stop-color="#0098dd"/><stop offset="0.3532" stop-color="#009adb"/><stop offset="0.4021" stop-color="#00a2c3"/><stop offset="0.4052" stop-color="#00aa00"/><stop offset="0.4113" stop-color="#00aa00"/><stop offset="0.4144" stop-color="#00a3bf"/><stop offset="0.4755" stop-color="#00aaab"/><stop offset="0.5183" stop-color="#00a8af"/><stop offset="0.5489" stop-color="#009ecf"/><stop offset="0.5581" stop-color="#0098dd"/><stop offset="0.5795" stop-color="#007add"/><stop offset="0.5856" stop-color="#0067dd"/><stop offset="0.5948" stop-color="#002fdd"/><stop offset="0.6009" stop-color="#0000dd"/><stop offset="0.6254" stop-color="#0000c9"/><stop offset="0.6407" stop-color="#0000ad"/><stop offset="0.6529" stop-color="#2d00a4"/><stop offset="0.656" stop-color="#4300a2"/><stop offset="0.6682" stop-color="#6d009c"/><stop offset="0.6713" stop-color="#6d009c"/><stop offset="0.6774" stop-color="#83009a"/><stop offset="0.7416" stop-color="#820093"/><stop offset="0.7446" stop-color="#0025dd"/><stop offset="0.7477" stop-color="#0025dd"/><stop offset="0.7508" stop-color="#820093"/><stop offset="0.7569" stop-color="#820093"/><stop offset="0.7599" stop-color="#3800a3"/><stop offset="0.763" stop-color="#3800a3"/><stop offset="0.7661" stop-color="#820093"/><stop offset="0.7691" stop-color="#820093"/><stop offset="0.7722" stop-color="#0000d5"/><stop offset="0.7783" stop-color="#0000d5"/><stop offset="0.7813" stop-color="#0025dd"/><stop offset="0.7844" stop-color="#0025dd"/><stop offset="0.7875" stop-color="#820093"/><stop offset="0.7936" stop-color="#810092"/><stop offset="0.7966" stop-color="#0013dd"/><stop offset="0.8028" stop-color="#0013dd"/><stop offset="0.8058" stop-color="#810092"/><stop offset="0.8242" stop-color="#810092"/><stop offset="0.8272" stop-color="#5d006b"/><stop offset="0.8303" stop-color="#2f0035"/><stop offset="0.8394" stop-color="#2f0035"/><stop offset="0.8425" stop-color="#25002b"/><stop offset="0.8609" stop-color="#25002b"/><stop offset="0.8639" stop-color="#1c0020"/><stop offset="0.8976" stop-color="#1c0020"/><stop offset="0.9006" stop-color="#130015"/><stop offset="0.9404" stop-color="#130015"/><stop offset="0.9434" stop-color="#09000b"/><stop offset="0.9924" stop-color="#09000b"/><stop offset="0.9954" stop-color="#000000"/><stop offset="0.9985" stop-color="#000000"/></linearGradient>
<linearGradient id="g0_18" gradientUnits="userSpaceOnUse" x1="49.00" y1="0" x2="315.10" y2="0"><stop offset="0.001529" stop-color="#7a008b"/><stop offset="0.004587" stop-color="#09000b"/><stop offset="0.2003" stop-color="#09000b"/><stop offset="0.2064" stop-color="#1c0020"/><stop offset="0.2095" stop-color="#380040"/><stop offset="0.2125" stop-color="#670075"/><stop offset="0.2156" stop-color="#7d008e"/><stop offset="0.2217" stop-color="#870098"/><stop offset="0.2278" stop-color="#83009a"/><stop offset="0.2309" stop-color="#4300a2"/><stop offset="0.2339" stop-color="#0000b5"/><stop offset="0.237" stop-color="#0000d1"/><stop offset="0.2462" stop-color="#0000d9"/><stop offset="0.2492" stop-color="#001cdd"/><stop offset="0.2523" stop-color="#005ddd"/><stop offset="0.2554" stop-color="#007add"/><stop offset="0.2645" stop-color="#0092dd"/><stop offset="0.3012" stop-color="#009bd7"/><stop offset="0.4174" stop-color="#00aa98"/><stop offset="0.4755" stop-color="#00aa88"/><stop offset="0.5428" stop-color="#00a8af"/><stop offset="0.5489" stop-color="#00a3bf"/><stop offset="0.5581" stop-color="#0098dd"/><stop offset="0.5795" stop-color="#007add"/><stop offset="0.5856" stop-color="#0067dd"/><stop offset="0.5948" stop-color="#002fdd"/><stop offset="0.6009" stop-color="#0000dd"/><stop offset="0.6254" stop-color="#0000c9"/><stop offset="0.6407" stop-color="#0000ad"/><stop offset="0.6529" stop-color="#2d00a4"/><stop offset="0.656" stop-color="#4300a2"/><stop offset="0.6682" stop-color="#6d009c"/><stop offset="0.6713" stop-color="#6d009c"/><stop offset="0.6774" stop-color="#83009a"/><stop offset="0.7416" stop-color="#820093"/><stop offset="0.7446" stop-color="#0025dd"/><stop offset="0.7477" stop-color="#0025dd"/><stop offset="0.7508" stop-color="#820093"/><stop offset="0.7569" stop-color="#820093"/><stop offset="0.7599" stop-color="#3800a3"/><stop offset="0.763" stop-color="#3800a3"/><stop offset="0.7661" stop-color="#820093"/><stop offset="0.7691" stop-color="#820093"/><stop offset="0.7722" stop-color="#0000d5"/><stop offset="0.7783" stop-color="#0000d5"/><stop offset="0.7813" stop-color="#0025dd"/><stop offset="0.7844" stop-color="#0025dd"/><stop offset="0.7875" stop-color="#820093"/><stop offset="0.7936" stop-color="#810092"/><stop offset="0.7966" stop-color="#0013dd"/><stop offset="0.8028" stop-color="#0013dd"/><stop offset="0.8058" stop-color="#810092"/><stop offset="0.8242" stop-color="#810092"/><stop offset="0.8272" stop-color="#5d006b"/><stop offset="0.8303" stop-color="#2f0035"/><stop offset="0.8394" stop-color="#2f0035"/><stop offset="0.8425" stop-color="#25002b"/><stop offset="0.8609" stop-color="#25002b"/><stop offset="0.8639" stop-color="#1c0020"/><stop offset="0.8976" stop-color="#1c0020"/><stop offset="0.9006" stop-color="#130015"/><stop offset="0.9404" stop-color="#130015"/><stop offset="0.9434" stop-color="#09000b"/><stop offset="0.9924" stop-color="#09000b"/><stop offset="0.9954" stop-color="#000000"/><stop offset="0.9985" stop-color="#000000"/></linearGradient>
<linearGradient id="g0_19" gradientUnits="userSpaceOnUse" x1="49.00" y1="0" x2="315.10" y2="0"><stop offset="0.001529" stop-color="#7a008b"/><stop offset="0.004587" stop-color="#130015"/><stop offset="0.1972" stop-color="#130015"/><stop offset="0.2003" stop-color="#1c0020"/><stop offset="0.2064" stop-color="#1c0020"/><stop offset="0.2095" stop-color="#25002b"/><stop offset="0.2248" stop-color="#25002b"/><stop offset="0.2278" stop-color="#2f0035"/><stop offset="0.2462" stop-color="#2f0035"/><stop offset="0.2492" stop-color="#380040"/><stop offset="0.2676" stop-color="#380040"/><stop offset="0.2706" stop-color="#41004b"/><stop offset="0.2982" stop-color="#41004b"/><stop offset="0.3012" stop-color="#4b0055"/><stop offset="0.3869" stop-color="#4b0055"/><stop offset="0.393" stop-color="#5d006b"/><stop offset="0.396" stop-color="#4b0055"/><stop offset="0.4144" stop-color="#4b0055"/><stop offset="0.4174" stop-color="#41004b"/><stop offset="0.4633" stop-color="#41004b"/><stop offset="0.4664" stop-color="#380040"/><stop offset="0.5153" stop-color="#380040"/><stop offset="0.5183" stop-color="#2f0035"/><stop offset="0.5612" stop-color="#2f0035"/><stop offset="0.5642" stop-color="#25002b"/><stop offset="0.6498" stop-color="#25002b"/><stop offset="0.6529" stop-color="#2f0035"/><stop offset="0.656" stop-color="#41004b"/><stop offset="0.6651" stop-color="#41004b"/><stop offset="0.6682" stop-color="#1c0020"/><stop offset="0.6713" stop-color="#2f0035"/><stop offset="0.6743" stop-color="#4b0055"/><stop offset="0.6927" stop-color="#4b0055"/><stop offset="0.6957" stop-color="#2f0035"/><stop offset="0.6988" stop-color="#2f0035"/><stop offset="0.7018" stop-color="#4b0055"/><stop offset="0.7049" stop-color="#540060"/><stop offset="0.7294" stop-color="#540060"/><stop offset="0.7324" stop-color="#380040"/><stop offset="0.7355" stop-color="#2f0035"/><stop offset="0.7508" stop-color="#2f0035"/><stop offset="0.7538" stop-color="#25002b"/><stop offset="0.7783" stop-color="#25002b"/><stop offset="0.7813" stop-color="#1c0020"/><stop offset="0.8364" stop-color="#1c0020"/><stop offset="0.8394" stop-color="#130015"/><stop offset="0.9434" stop-color="#130015"/><stop offset="0.9465" stop-color="#09000b"/><stop offset="0.9862" stop-color="#09000b"/><stop offset="0.9893" stop-color="#000000"/><stop offset="0.9985" stop-color="#000000"/></linearGradient>
<linearGradient id="g0_20" gradientUnits="userSpaceOnUse" x1="49.00" y1="0" x2="315.10" y2="0"><stop offset="0.001529" stop-color="#7a008b"/><stop offset="0.004587" stop-color="#09000b"/><stop offset="0.1942" stop-color="#09000b"/><stop offset="0.1972" stop-color="#1c0020"/><stop offset="0.2003" stop-color="#5d006b"/><stop offset="0.2034" stop-color="#820093"/><stop offset="0.2064" stop-color="#870098"/><stop offset="0.2095" stop-color="#3800a3"/><stop offset="0.2125" stop-color="#0000d1"/><stop offset="0.2156" stop-color="#0009dd"/><stop offset="0.2187" stop-color="#0085dd"/><stop offset="0.2217" stop-color="#009adb"/><stop offset="0.2278" stop-color="#00aa93"/><stop offset="0.2309" stop-color="#009c00"/><stop offset="0.2339" stop-color="#00bf00"/><stop offset="0.2462" stop-color="#00ef00"/><stop offset="0.2523" stop-color="#00fc00"/><stop offset="0.2645" stop-color="#75ff00"/><stop offset="0.2798" stop-color="#bcff00"/><stop offset="0.3073" stop-color="#bcff00"/><stop offset="0.3135" stop-color="#a1ff00"/><stop offset="0.3165" stop-color="#a1ff00"/><stop offset="0.3196" stop-color="#93ff00"/><stop offset="0.3226" stop-color="#93ff00"/><stop offset="0.3257" stop-color="#84ff00"/><stop offset="0.3318" stop-color="#84ff00"/><stop offset="0.3349" stop-color="#75ff00"/><stop offset="0.344" stop-color="#75ff00"/><stop offset="0.3471" stop-color="#67ff00"/><stop offset="0.3593" stop-color="#67ff00"/><stop offset="0.3624" stop-color="#58ff00"/><stop offset="0.3654" stop-color="#58ff00"/><stop offset="0.3685" stop-color="#49ff00"/><stop offset="0.3746" stop-color="#49ff00"/><stop offset="0.3777" stop-color="#3bff00"/><stop offset="0.3838" stop-color="#3bff00"/><stop offset="0.3869" stop-color="#2cff00"/><stop offset="0.393" stop-color="#2cff00"/><stop offset="0.396" stop-color="#1dff00"/><stop offset="0.4083" stop-color="#1dff00"/><stop offset="0.4113" stop-color="#0fff00"/><stop offset="0.4266" stop-color="#0fff00"/><stop offset="0.4297" stop-color="#00ff00"/><stop offset="0.5306" stop-color="#00fc00"/><stop offset="0.552" stop-color="#00b400"/><stop offset="0.5581" stop-color="#009c00"/><stop offset="0.5612" stop-color="#009a08"/><stop offset="0.5642" stop-color="#009e28"/><stop offset="0.5673" stop-color="#00a353"/><stop offset="0.5703" stop-color="#00a773"/><stop offset="0.5734" stop-color="#00aa88"/><stop offset="0.607" stop-color="#00aaa0"/><stop offset="0.6284" stop-color="#009adb"/><stop offset="0.6621" stop-color="#0082dd"/><stop offset="0.6651" stop-color="#007add"/><stop offset="0.6713" stop-color="#0054dd"/><stop offset="0.6743" stop-color="#0038dd"/><stop offset="0.6804" stop-color="#0025dd"/><stop offset="0.6865" stop-color="#0009dd"/><stop offset="0.6927" stop-color="#0000d9"/><stop offset="0.7263" stop-color="#0000cd"/><stop offset="0.7324" stop-color="#0000c9"/><stop offset="0.7355" stop-color="#0000b9"/><stop offset="0.7385" stop-color="#0d00a8"/><stop offset="0.7446" stop-color="#870098"/><stop offset="0.7477" stop-color="#0000bd"/><stop offset="0.7508" stop-color="#0000bd"/><stop offset="0.7538" stop-color="#870098"/><stop offset="0.7599" stop-color="#870098"/><stop offset="0.763" stop-color="#0000bd"/><stop offset="0.7661" stop-color="#870098"/><stop offset="0.7813" stop-color="#870098"/><stop offset="0.7844" stop-color="#0000bd"/><stop offset="0.7875" stop-color="#0000bd"/><stop offset="0.7905" stop-color="#870098"/><stop offset="0.7936" stop-color="#870098"/><stop offset="0.7966" stop-color="#0000bd"/><stop offset="0.7997" stop-color="#0000bd"/><stop offset="0.8028" stop-color="#870098"/><stop offset="0.8211" stop-color="#870098"/><stop offset="0.8303" stop-color="#700080"/><stop offset="0.8394" stop-color="#700080"/><stop offset="0.8425" stop-color="#670075"/><stop offset="0.8486" stop-color="#670075"/><stop offset="0.8517" stop-color="#5d006b"/><stop offset="0.8578" stop-color="#5d006b"/><stop offset="0.8609" stop-color="#540060"/><stop offset="0.87" stop-color="#540060"/><stop offset="0.8731" stop-color="#4b0055"/><stop offset="0.8823" stop-color="#4b0055"/><stop offset="0.8853" stop-color="#41004b"/><stop offset="0.8945" stop-color="#41004b"/><stop offset="0.8976" stop-color="#380040"/><stop offset="0.9098" stop-color="#380040"/><stop offset="0.9128" stop-color="#2f0035"/><stop offset="0.922" stop-color="#2f0035"/><stop offset="0.9251" stop-color="#25002b"/><stop offset="0.9312" stop-color="#25002b"/><stop offset="0.9343" stop-color="#1c0020"/><stop offset="0.9434" stop-color="#1c0020"/><stop offset="0.9465" stop-color="#130015"/><stop offset="0.9557" stop-color="#130015"/><stop offset="0.9587" stop-color="#09000b"/><stop offset="0.9709" stop-color="#09000b"/><stop offset="0.974" stop-color="#000000"/><stop offset="0.9985" stop-color="#000000"/></linearGradient>
<linearGradient id="g0_21" gradientUnits="userSpaceOnUse" x1="49.00" y1="0" x2="315.10" y2="0"><stop offset="0.001529" stop-color="#7a008b"/><stop offset="0.004587" stop-color="#09000b"/><stop offset="0.1942" stop-color="#09000b"/><stop offset="0.1972" stop-color="#1c0020"/><stop offset="0.2003" stop-color="#5d006b"/><stop offset="0.2034" stop-color="#820093"/><stop offset="0.2064" stop-color="#870098"/><stop offset="0.2095" stop-color="#3800a3"/><stop offset="0.2125" stop-color="#0000d1"/><stop offset="0.2156" stop-color="#0009dd"/><stop offset="0.2187" stop-color="#0085dd"/><stop offset="0.2217" stop-color="#009adb"/><stop offset="0.2278" stop-color="#00aa93"/><stop offset="0.2309" stop-color="#009c00"/><stop offset="0.2339" stop-color="#00bf00"/><stop offset="0.2462" stop-color="#00ef00"/><stop offset="0.2523" stop-color="#00fc00"/><stop offset="0.2645" stop-color="#75ff00"/><stop offset="0.2798" stop-color="#bcff00"/><stop offset="0.3073" stop-color="#bcff00"/><stop offset="0.3135" stop-color="#a1ff00"/><stop offset="0.3165" stop-color="#a1ff00"/><stop offset="0.3196" stop-color="#93ff00"/><stop offset="0.3226" stop-color="#93ff00"/><stop offset="0.3257" stop-color="#84ff00"/><stop offset="0.3318" stop-color="#84ff00"/><stop offset="0.3349" stop-color="#75ff00"/><stop offset="0.344" stop-color="#75ff00"/><stop offset="0.3471" stop-color="#67ff00"/><stop offset="0.3593" stop-color="#67ff00"/><stop offset="0.3624" stop-color="#58ff00"/><stop offset="0.3654" stop-color="#58ff00"/><stop offset="0.3685" stop-color="#49ff00"/><stop offset="0.3746" stop-color="#49ff00"/><stop offset="0.3777" stop-color="#3bff00"/><stop offset="0.3838" stop-color="#3bff00"/><stop offset="0.3869" stop-color="#2cff00"/><stop offset="0.393" stop-color="#2cff00"/><stop offset="0.396" stop-color="#1dff00"/><stop offset="0.4083" stop-color="#1dff00"/><stop offset="0.4113" stop-color="#0fff00"/><stop offset="0.4266" stop-color="#0fff00"/><stop offset="0.4297" stop-color="#00ff00"/><stop offset="0.5306" stop-color="#00fc00"/><stop offset="0.552" stop-color="#00b400"/><stop offset="0.5581" stop-color="#009c00"/><stop offset="0.5612" stop-color="#009a08"/><stop offset="0.5642" stop-color="#009e28"/><stop offset="0.5673" stop-color="#00a353"/><stop offset="0.5703" stop-color="#00a773"/><stop offset="0.5734" stop-color="#00aa88"/><stop offset="0.607" stop-color="#00aaa0"/><stop offset="0.6284" stop-color="#009adb"/><stop offset="0.6621" stop-color="#0082dd"/><stop offset="0.6651" stop-color="#007add"/><stop offset="0.6713" stop-color="#0054dd"/><stop offset="0.6743" stop-color="#0038dd"/><stop offset="0.6804" stop-color="#0025dd"/><stop offset="0.6865" stop-color="#0009dd"/><stop offset="0.6927" stop-color="#0000d9"/><stop offset="0.7263" stop-color="#0000cd"/><stop offset="0.7324" stop-color="#0000c9"/><stop offset="0.7355" stop-color="#0000b9"/><stop offset="0.7385" stop-color="#0d00a8"/><stop offset="0.7446" stop-color="#870098"/><stop offset="0.7477" stop-color="#0000bd"/><stop offset="0.7508" stop-color="#0000bd"/><stop offset="0.7538" stop-color="#870098"/><stop offset="0.7599" stop-color="#870098"/><stop offset="0.763" stop-color="#0000bd"/><stop offset="0.7661" stop-color="#870098"/><stop offset="0.7813" stop-color="#870098"/><stop offset="0.7844" stop-color="#0000bd"/><stop offset="0.7875" stop-color="#0000bd"/><stop offset="0.7905" stop-color="#870098"/><stop offset="0.7936" stop-color="#870098"/><stop offset="0.7966" stop-color="#0000bd"/><stop offset="0.7997" stop-color="#0000bd"/><stop offset="0.8028" stop-color="#870098"/><stop offset="0.8211" stop-color="#870098"/><stop offset="0.8303" stop-color="#700080"/><stop offset="0.8394" stop-color="#700080"/><stop offset="0.8425" stop-color="#670075"/><stop offset="0.8486" stop-color="#670075"/><stop offset="0.8517" stop-color="#5d006b"/><stop offset="0.8578" stop-color="#5d006b"/><stop offset="0.8609" stop-color="#540060"/><stop offset="0.87" stop-color="#540060"/><stop offset="0.8731" stop-color="#4b0055"/><stop offset="0.8823" stop-color="#4b0055"/><stop offset="0.8853" stop-color="#41004b"/><stop offset="0.8945" stop-color="#41004b"/><stop offset="0.8976" stop-color="#380040"/><stop offset="0.9098" stop-color="#380040"/><stop offset="0.9128" stop-color="#2f0035"/><stop offset="0.922" stop-color="#2f0035"/><stop offset="0.9251" stop-color="#25002b"/><stop offset="0.9312" stop-color="#25002b"/><stop offset="0.9343" stop-color="#1c0020"/><stop offset="0.9434" stop-color="#1c0020"/><stop offset="0.9465" stop-color="#130015"/><stop offset="0.9557" stop-color="#130015"/><stop offset="0.9587" stop-color="#09000b"/><stop offset="0.9709" stop-color="#09000b"/><stop offset="0.974" stop-color="#000000"/><stop offset="0.9985" stop-color="#000000"/></linearGradient>
<linearGradient id="g1_0" gradientUnits="userSpaceOnUse" x1="329.00" y1="0" x2="595.10" y2="0"><stop offset="0.001529" stop-color="#7a008b"/><stop offset="0.004587" stop-color="#000000"/><stop offset="0.185" stop-color="#000000"/><stop offset="0.1942" stop-color="#1c0020"/><stop offset="0.1972" stop-color="#41004b"/><stop offset="0.2003" stop-color="#7b008c"/><stop offset="0.2034" stop-color="#6d009c"/><stop offset="0.2064" stop-color="#0000d5"/><stop offset="0.2095" stop-color="#0041dd"/><stop offset="0.2125" stop-color="#0092dd"/><stop offset="0.2156" stop-color="#009fcb"/><stop offset="0.2187" stop-color="#00aaa8"/><stop offset="0.2217" stop-color="#00aa88"/><stop offset="0.2248" stop-color="#00b200"/><stop offset="0.2309" stop-color="#00ef00"/><stop offset="0.2339" stop-color="#00fc00"/><stop offset="0.2431" stop-color="#b0ff00"/><stop offset="0.2554" stop-color="#e0f300"/><stop offset="0.2676" stop-color="#f4e200"/><stop offset="0.292" stop-color="#fcd200"/><stop offset="0.3654" stop-color="#ecef00"/><stop offset="0.4786" stop-color="#e0f300"/><stop offset="0.4939" stop-color="#d0f800"/><stop offset="0.5061" stop-color="#b0ff00"/><stop offset="0.5092" stop-color="#93ff00"/><stop offset="0.5183" stop-color="#67ff00"/><stop offset="0.5275" stop-color="#0fff00"/><stop offset="0.5306" stop-color="#00ff00"/><stop offset="0.5612" stop-color="#00f700"/><stop offset="0.5826" stop-color="#00d400"/><stop offset="0.6009" stop-color="#00ba00"/><stop offset="0.6162" stop-color="#009c00"/><stop offset="0.6223" stop-color="#009a00"/><stop offset="0.6284" stop-color="#009b13"/><stop offset="0.6315" stop-color="#009b13"/><stop offset="0.6437" stop-color="#00a13d"/><stop offset="0.6468" stop-color="#00a353"/><stop offset="0.6529" stop-color="#00a668"/><stop offset="0.656" stop-color="#00a97d"/><stop offset="0.6651" stop-color="#00aa90"/><stop offset="0.6835" stop-color="#00aaa5"/><stop offset="0.7018" stop-color="#009adb"/><stop offset="0.7171" stop-color="#0085dd"/><stop offset="0.7202" stop-color="#007add"/><stop offset="0.7263" stop-color="#002fdd"/><stop offset="0.7324" stop-color="#0000dd"/><stop offset="0.7416" stop-color="#0000dd"/><stop offset="0.7446" stop-color="#0067dd"/><stop offset="0.7477" stop-color="#0067dd"/><stop offset="0.7508" stop-color="#0000dd"/><stop offset="0.7569" stop-color="#0000dd"/><stop offset="0.7599" stop-color="#007add"/><stop offset="0.7661" stop-color="#007add"/><stop offset="0.7691" stop-color="#0000dd"/><stop offset="0.7813" stop-color="#0000dd"/><stop offset="0.7844" stop-color="#0067dd"/><stop offset="0.7875" stop-color="#0067dd"/><stop offset="0.7905" stop-color="#0000dd"/><stop offset="0.7936" stop-color="#0000dd"/><stop offset="0.7966" stop-color="#0078dd"/><stop offset="0.7997" stop-color="#0078dd"/><stop offset="0.8028" stop-color="#0000dd"/><stop offset="0.8089" stop-color="#0000dd"/><stop offset="0.8119" stop-color="#58009f"/><stop offset="0.815" stop-color="#58009f"/><stop offset="0.818" stop-color="#0000dd"/><stop offset="0.8242" stop-color="#0000dd"/><stop offset="0.8272" stop-color="#870098"/><stop offset="0.9465" stop-color="#830094"/><stop offset="0.9587" stop-color="#700080"/><stop offset="0.9618" stop-color="#540060"/><stop offset="0.9648" stop-color="#4b0055"/><stop offset="0.9679" stop-color="#380040"/><stop offset="0.9709" stop-color="#2f0035"/><stop offset="0.974" stop-color="#1c0020"/><stop offset="0.9771" stop-color="#1c0020"/><stop offset="0.9862" stop-color="#000000"/><stop offset="0.9985" stop-color="#000000"/></linearGradient>
<linearGradient id="g1_1" gradientUnits="userSpaceOnUse" x1="329.00" y1="0" x2="595.10" y2="0"><stop offset="0.001529" stop-color="#7a008b"/><stop offset="0.004587" stop-color="#000000"/><stop offset="0.185" stop-color="#000000"/><stop offset="0.1942" stop-color="#1c0020"/><stop offset="0.1972" stop-color="#41004b"/><stop offset="0.2003" stop-color="#7b008c"/><stop offset="0.2034" stop-color="#6d009c"/><stop offset="0.2064" stop-color="#0000d5"/><stop offset="0.2095" stop-color="#0041dd"/><stop offset="0.2125" stop-color="#0092dd"/><stop offset="0.2156" stop-color="#009fcb"/><stop offset="0.2187" stop-color="#00aaa8"/><stop offset="0.2217" stop-color="#00aa88"/><stop offset="0.2248" stop-color="#00b200"/><stop offset="0.2309" stop-color="#00ef00"/><stop offset="0.2339" stop-color="#00fc00"/><stop offset="0.2431" stop-color="#b0ff00"/><stop offset="0.2554" stop-color="#e0f300"/><stop offset="0.2676" stop-color="#f4e200"/><stop offset="0.292" stop-color="#fcd200"/><stop offset="0.3654" stop-color="#ecef00"/><stop offset="0.4786" stop-color="#e0f300"/><stop offset="0.4939" stop-color="#d0f800"/><stop offset="0.5061" stop-color="#b0ff00"/><stop offset="0.5092" stop-color="#93ff00"/><stop offset="0.5183" stop-color="#67ff00"/><stop offset="0.5275" stop-color="#0fff00"/><stop offset="0.5306" stop-color="#00ff00"/><stop offset="0.5612" stop-color="#00f700"/><stop offset="0.5826" stop-color="#00d400"/><stop offset="0.6009" stop-color="#00ba00"/><stop offset="0.6162" stop-color="#009c00"/><stop offset="0.6223" stop-color="#009a00"/><stop offset="0.6284" stop-color="#009b13"/><stop offset="0.6315" stop-color="#009b13"/><stop offset="0.6437" stop-color="#00a13d"/><stop offset="0.6468" stop-color="#00a353"/><stop offset="0.6529" stop-color="#00a668"/><stop offset="0.656" stop-color="#00a97d"/><stop offset="0.6651" stop-color="#00aa90"/><stop offset="0.6835" stop-color="#00aaa5"/><stop offset="0.7018" stop-color="#009adb"/><stop offset="0.7171" stop-color="#0085dd"/><stop offset="0.7202" stop-color="#007add"/><stop offset="0.7263" stop-color="#002fdd"/><stop offset="0.7324" stop-color="#0000dd"/><stop offset="0.7416" stop-color="#0000dd"/><stop offset="0.7446" stop-color="#0067dd"/><stop offset="0.7477" stop-color="#0067dd"/><stop offset="0.7508" stop-color="#0000dd"/><stop offset="0.7569" stop-color="#0000dd"/><stop offset="0.7599" stop-color="#007add"/><stop offset="0.7661" stop-color="#007add"/><stop offset="0.7691" stop-color="#0000dd"/><stop offset="0.7813" stop-color="#0000dd"/><stop offset="0.7844" stop-color="#0067dd"/><stop offset="0.7875" stop-color="#0067dd"/><stop offset="0.7905" stop-color="#0000dd"/><stop offset="0.7936" stop-color="#0000dd"/><stop offset="0.7966" stop-color="#0078dd"/><stop offset="0.7997" stop-color="#0078dd"/><stop offset="0.8028" stop-color="#0000dd"/><stop offset="0.8089" stop-color="#0000dd"/><stop offset="0.8119" stop-color="#58009f"/><stop offset="0.815" stop-color="#58009f"/><stop offset="0.818" stop-color="#0000dd"/><stop offset="0.8242" stop-color="#0000dd"/><stop offset="0.8272" stop-color="#870098"/><stop offset="0.8517" stop-color="#870098"/><stop offset="0.8547" stop-color="#2300a6"/><stop offset="0.8609" stop-color="#2300a6"/><stop offset="0.8639" stop-color="#870098"/><stop offset="0.9465" stop-color="#830094"/><stop offset="0.9587" stop-color="#700080"/><stop offset="0.9618" stop-color="#540060"/><stop offset="0.9648" stop-color="#4b0055"/><stop offset="0.9679" stop-color="#380040"/><stop offset="0.9709" stop-color="#2f0035"/><stop offset="0.974" stop-color="#1c0020"/><stop offset="0.9771" stop-color="#1c0020"/><stop offset="0.9862" stop-color="#000000"/><stop offset="0.9985" stop-color="#000000"/></linearGradient>
<linearGradient id="g1_2" gradientUnits="userSpaceOnUse" x1="329.00" y1="0" x2="595.10" y2="0"><stop offset="0.001529" stop-color="#7a008b"/><stop offset="0.004587" stop-color="#130015"/><stop offset="0.2125" stop-color="#130015"/><stop offset="0.2156" stop-color="#1c0020"/><stop offset="0.2187" stop-color="#1c0020"/><stop offset="0.2217" stop-color="#25002b"/><stop offset="0.2431" stop-color="#25002b"/><stop offset="0.2462" stop-color="#2f0035"/><stop offset="0.2492" stop-color="#2f0035"/><stop offset="0.2523" stop-color="#380040"/><stop offset="0.2554" stop-color="#380040"/><stop offset="0.2615" stop-color="#4b0055"/><stop offset="0.2645" stop-color="#4b0055"/><stop offset="0.2676" stop-color="#540060"/><stop offset="0.2737" stop-color="#540060"/><stop offset="0.2768" stop-color="#5d006b"/><stop offset="0.2829" stop-color="#5d006b"/><stop offset="0.2859" stop-color="#670075"/><stop offset="0.4602" stop-color="#670075"/><stop offset="0.4633" stop-color="#5d006b"/><stop offset="0.4694" stop-color="#5d006b"/><stop offset="0.4725" stop-color="#540060"/><stop offset="0.4817" stop-color="#540060"/><stop offset="0.4847" stop-color="#4b0055"/><stop offset="0.4939" stop-color="#4b0055"/><stop offset="0.4969" stop-color="#41004b"/><stop offset="0.5092" stop-color="#41004b"/><stop offset="0.5122" stop-color="#380040"/><stop offset="0.6162" stop-color="#380040"/><stop offset="0.6193" stop-color="#2f0035"/><stop offset="0.659" stop-color="#2f0035"/><stop offset="0.6621" stop-color="#41004b"/><stop offset="0.6651" stop-color="#5d006b"/><stop offset="0.6682" stop-color="#5d006b"/><stop offset="0.6713" stop-color="#380040"/><stop offset="0.6896" stop-color="#380040"/><stop offset="0.6927" stop-color="#2f0035"/><stop offset="0.8089" stop-color="#2f0035"/><stop offset="0.815" stop-color="#1c0020"/><stop offset="0.867" stop-color="#1c0020"/><stop offset="0.87" stop-color="#130015"/><stop offset="0.9251" stop-color="#130015"/><stop offset="0.9281" stop-color="#09000b"/><stop offset="0.974" stop-color="#09000b"/><stop offset="0.9771" stop-color="#000000"/><stop offset="0.9985" stop-color="#000000"/></linearGradient>
<linearGradient id="g1_3" gradientUnits="userSpaceOnUse" x1="329.00" y1="0" x2="595.10" y2="0"><stop offset="0.001529" stop-color="#7a008b"/><stop offset="0.004587" stop-color="#000000"/><stop offset="0.1942" stop-color="#000000"/><stop offset="0.2003" stop-color="#130015"/><stop offset="0.2034" stop-color="#25002b"/><stop offset="0.2064" stop-color="#41004b"/><stop offset="0.2095" stop-color="#770088"/><stop offset="0.2187" stop-color="#870098"/><stop offset="0.2217" stop-color="#83009a"/><stop offset="0.2248" stop-color="#0d00a8"/><stop offset="0.2278" stop-color="#0000c9"/><stop offset="0.2309" stop-color="#0000d9"/><stop offset="0.2339" stop-color="#005ddd"/><stop offset="0.237" stop-color="#0080dd"/><stop offset="0.2431" stop-color="#009adb"/><stop offset="0.2554" stop-color="#009fcb"/><stop offset="0.2676" stop-color="#00a8af"/><stop offset="0.3532" stop-color="#00aa88"/><stop offset="0.3563" stop-color="#00a97d"/><stop offset="0.3593" stop-color="#00a97d"/><stop offset="0.3685" stop-color="#00a55d"/><stop offset="0.3716" stop-color="#00a248"/><stop offset="0.3838" stop-color="#009d1d"/><stop offset="0.3869" stop-color="#009d1d"/><stop offset="0.396" stop-color="#009a00"/><stop offset="0.4602" stop-color="#00ba00"/><stop offset="0.5061" stop-color="#00bf00"/><stop offset="0.5336" stop-color="#00ac00"/><stop offset="0.5398" stop-color="#009c00"/><stop offset="0.5489" stop-color="#009b13"/><stop offset="0.5581" stop-color="#009f33"/><stop offset="0.5642" stop-color="#00aa8b"/><stop offset="0.5734" stop-color="#00aaa0"/><stop offset="0.5948" stop-color="#00a7b3"/><stop offset="0.604" stop-color="#009adb"/><stop offset="0.6346" stop-color="#0085dd"/><stop offset="0.6407" stop-color="#0070dd"/><stop offset="0.6468" stop-color="#002fdd"/><stop offset="0.6529" stop-color="#0000dd"/><stop offset="0.6682" stop-color="#0000d9"/><stop offset="0.6865" stop-color="#0000c1"/><stop offset="0.6988" stop-color="#0300aa"/><stop offset="0.7049" stop-color="#2d00a4"/><stop offset="0.7202" stop-color="#63009e"/><stop offset="0.7232" stop-color="#78009b"/><stop offset="0.7263" stop-color="#83009a"/><stop offset="0.7416" stop-color="#870098"/><stop offset="0.7446" stop-color="#00a7b3"/><stop offset="0.7477" stop-color="#00a7b3"/><stop offset="0.7508" stop-color="#0000dd"/><stop offset="0.7569" stop-color="#0000dd"/><stop offset="0.7599" stop-color="#008add"/><stop offset="0.7661" stop-color="#008add"/><stop offset="0.7691" stop-color="#007ddd"/><stop offset="0.7783" stop-color="#007ddd"/><stop offset="0.7813" stop-color="#0000dd"/><stop offset="0.7844" stop-color="#0098dd"/><stop offset="0.7875" stop-color="#0098dd"/><stop offset="0.7905" stop-color="#0000dd"/><stop offset="0.7936" stop-color="#0000dd"/><stop offset="0.7966" stop-color="#009fcb"/><stop offset="0.8058" stop-color="#009fcb"/><stop offset="0.8089" stop-color="#0000dd"/><stop offset="0.8211" stop-color="#0000dd"/><stop offset="0.8242" stop-color="#870098"/><stop offset="0.8272" stop-color="#870098"/><stop offset="0.8303" stop-color="#41004b"/><stop offset="0.867" stop-color="#41004b"/><stop offset="0.87" stop-color="#380040"/><stop offset="0.8761" stop-color="#380040"/><stop offset="0.8792" stop-color="#2f0035"/><stop offset="0.8884" stop-color="#2f0035"/><stop offset="0.8914" stop-color="#25002b"/><stop offset="0.9098" stop-color="#25002b"/><stop offset="0.9128" stop-color="#1c0020"/><stop offset="0.9281" stop-color="#1c0020"/><stop offset="0.9312" stop-color="#130015"/><stop offset="0.9465" stop-color="#130015"/><stop offset="0.9495" stop-color="#09000b"/><stop offset="0.9679" stop-color="#09000b"/><stop offset="0.9709" stop-color="#000000"/><stop offset="0.9985" stop-color="#000000"/></linearGradient>
<linearGradient id="g1_4" gradientUnits="userSpaceOnUse" x1="329.00" y1="0" x2="595.10" y2="0"><stop offset="0.001529" stop-color="#7a008b"/><stop offset="0.004587" stop-color="#000000"/><stop offset="0.1942" stop-color="#000000"/><stop offset="0.2003" stop-color="#130015"/><stop offset="0.2034" stop-color="#25002b"/><stop offset="0.2064" stop-color="#41004b"/><stop offset="0.2095" stop-color="#770088"/><stop offset="0.2187" stop-color="#870098"/><stop offset="0.2217" stop-color="#83009a"/><stop offset="0.2248" stop-color="#0d00a8"/><stop offset="0.2278" stop-color="#0000c9"/><stop offset="0.2309" stop-color="#0000d9"/><stop offset="0.2339" stop-color="#005ddd"/><stop offset="0.237" stop-color="#0080dd"/><stop offset="0.2431" stop-color="#009adb"/><stop offset="0.2554" stop-color="#00aaa8"/><stop offset="0.2829" stop-color="#00aa8b"/><stop offset="0.2982" stop-color="#00a353"/><stop offset="0.3012" stop-color="#00a13d"/><stop offset="0.3043" stop-color="#009f33"/><stop offset="0.3104" stop-color="#009f33"/><stop offset="0.3135" stop-color="#009e28"/><stop offset="0.3165" stop-color="#009e28"/><stop offset="0.3196" stop-color="#009d1d"/><stop offset="0.3379" stop-color="#009d1d"/><stop offset="0.341" stop-color="#009b13"/><stop offset="0.3807" stop-color="#009b13"/><stop offset="0.3838" stop-color="#009a08"/><stop offset="0.3991" stop-color="#009f00"/><stop offset="0.4847" stop-color="#00bf00"/><stop offset="0.5122" stop-color="#00bc00"/><stop offset="0.5367" stop-color="#00a400"/><stop offset="0.5459" stop-color="#009a08"/><stop offset="0.5581" stop-color="#009f33"/><stop offset="0.5642" stop-color="#00aa8b"/><stop offset="0.5734" stop-color="#00aaa0"/><stop offset="0.5948" stop-color="#00a7b3"/><stop offset="0.604" stop-color="#009adb"/><stop offset="0.6346" stop-color="#0085dd"/><stop offset="0.6407" stop-color="#0070dd"/><stop offset="0.6468" stop-color="#002fdd"/><stop offset="0.6529" stop-color="#0000dd"/><stop offset="0.6682" stop-color="#0000d9"/><stop offset="0.6865" stop-color="#0000c1"/><stop offset="0.6988" stop-color="#0300aa"/><stop offset="0.7049" stop-color="#2d00a4"/><stop offset="0.7202" stop-color="#63009e"/><stop offset="0.7232" stop-color="#78009b"/><stop offset="0.7263" stop-color="#83009a"/><stop offset="0.7416" stop-color="#870098"/><stop offset="0.7446" stop-color="#00a7b3"/><stop offset="0.7477" stop-color="#00a7b3"/><stop offset="0.7508" stop-color="#0000dd"/><stop offset="0.7569" stop-color="#0000dd"/><stop offset="0.7599" stop-color="#008add"/><stop offset="0.7661" stop-color="#008add"/><stop offset="0.7691" stop-color="#007ddd"/><stop offset="0.7783" stop-color="#007ddd"/><stop offset="0.7813" stop-color="#0000dd"/><stop offset="0.7844" stop-color="#0098dd"/><stop offset="0.7875" stop-color="#0098dd"/><stop offset="0.7905" stop-color="#0000dd"/><stop offset="0.7936" stop-color="#0000dd"/><stop offset="0.7966" stop-color="#009fcb"/><stop offset="0.8058" stop-color="#009fcb"/><stop offset="0.8089" stop-color="#0000dd"/><stop offset="0.8211" stop-color="#0000dd"/><stop offset="0.8242" stop-color="#870098"/><stop offset="0.8272" stop-color="#870098"/><stop offset="0.8303" stop-color="#41004b"/><stop offset="0.867" stop-color="#41004b"/><stop offset="0.87" stop-color="#380040"/><stop offset="0.8761" stop-color="#380040"/><stop offset="0.8792" stop-color="#2f0035"/><stop offset="0.8884" stop-color="#2f0035"/><stop offset="0.8914" stop-color="#25002b"/><stop offset="0.9098" stop-color="#25002b"/><stop offset="0.9128" stop-color="#1c0020"/><stop offset="0.9281" stop-color="#1c0020"/><stop offset="0.9312" stop-color="#130015"/><stop offset="0.9465" stop-color="#130015"/><stop offset="0.9495" stop-color="#09000b"/><stop offset="0.9679" stop-color="#09000b"/><stop offset="0.9709" stop-color="#000000"/><stop offset="0.9985" stop-color="#000000"/></linearGradient>
<linearGradient id="g1_5" gradientUnits="userSpaceOnUse" x1="329.00" y1="0" x2="595.10" y2="0"><stop offset="0.001529" stop-color="#7a008b"/><stop offset="0.004587" stop-color="#000000"/><stop offset="0.1911" stop-color="#000000"/><stop offset="0.1942" stop-color="#09000b"/><stop offset="0.1972" stop-color="#1c0020"/><stop offset="0.2003" stop-color="#380040"/><stop offset="0.2064" stop-color="#7b008c"/><stop offset="0.2125" stop-color="#860097"/><stop offset="0.2156" stop-color="#83009a"/><stop offset="0.2187" stop-color="#58009f"/><stop offset="0.2217" stop-color="#0000bd"/><stop offset="0.2248" stop-color="#0000d1"/><stop offset="0.2278" stop-color="#0025dd"/><stop offset="0.2309" stop-color="#007add"/><stop offset="0.237" stop-color="#0095dd"/><stop offset="0.2462" stop-color="#00aaa3"/><stop offset="0.2523" stop-color="#00aa8d"/><stop offset="0.2554" stop-color="#00a668"/><stop offset="0.2584" stop-color="#009e28"/><stop offset="0.2645" stop-color="#009a00"/><stop offset="0.3746" stop-color="#00a700"/><stop offset="0.4327" stop-color="#00af00"/><stop offset="0.5" stop-color="#00c200"/><stop offset="0.5336" stop-color="#00ac00"/><stop offset="0.5398" stop-color="#009c00"/><stop offset="0.5489" stop-color="#009b13"/><stop offset="0.5581" stop-color="#009f33"/><stop offset="0.5642" stop-color="#00aa8b"/><stop offset="0.5734" stop-color="#00aaa0"/><stop offset="0.5948" stop-color="#00a7b3"/><stop offset="0.604" stop-color="#009adb"/><stop offset="0.6346" stop-color="#0085dd"/><stop offset="0.6407" stop-color="#0070dd"/><stop offset="0.6468" stop-color="#002fdd"/><stop offset="0.6529" stop-color="#0000dd"/><stop offset="0.6682" stop-color="#0000d9"/><stop offset="0.6865" stop-color="#0000c1"/><stop offset="0.6988" stop-color="#0300aa"/><stop offset="0.7049" stop-color="#2d00a4"/><stop offset="0.7202" stop-color="#63009e"/><stop offset="0.7232" stop-color="#78009b"/><stop offset="0.7263" stop-color="#83009a"/><stop offset="0.7416" stop-color="#870098"/><stop offset="0.7446" stop-color="#00a7b3"/><stop offset="0.7477" stop-color="#00a7b3"/><stop offset="0.7508" stop-color="#0000dd"/><stop offset="0.7569" stop-color="#0000dd"/><stop offset="0.7599" stop-color="#008add"/><stop offset="0.7661" stop-color="#008add"/><stop offset="0.7691" stop-color="#007ddd"/><stop offset="0.7783" stop-color="#007ddd"/><stop offset="0.7813" stop-color="#0000dd"/><stop offset="0.7844" stop-color="#0098dd"/><stop offset="0.7875" stop-color="#0098dd"/><stop offset="0.7905" stop-color="#0000dd"/><stop offset="0.7936" stop-color="#0000dd"/><stop offset="0.7966" stop-color="#009fcb"/><stop offset="0.8058" stop-color="#009fcb"/><stop offset="0.8089" stop-color="#0000dd"/><stop offset="0.8211" stop-color="#0000dd"/><stop offset="0.8242" stop-color="#870098"/><stop offset="0.8272" stop-color="#870098"/><stop offset="0.8303" stop-color="#41004b"/><stop offset="0.867" stop-color="#41004b"/><stop offset="0.87" stop-color="#380040"/><stop offset="0.8761" stop-color="#380040"/><stop offset="0.8792" stop-color="#2f0035"/><stop offset="0.8884" stop-color="#2f0035"/><stop offset="0.8914" stop-color="#25002b"/><stop offset="0.9098" stop-color="#25002b"/><stop offset="0.9128" stop-color="#1c0020"/><stop offset="0.9281" stop-color="#1c0020"/><stop offset="0.9312" stop-color="#130015"/><stop offset="0.9465" stop-color="#130015"/><stop offset="0.9495" stop-color="#09000b"/><stop offset="0.9679" stop-color="#09000b"/><stop offset="0.9709" stop-color="#000000"/><stop offset="0.9985" stop-color="#000000"/></linearGradient>
<linearGradient id="g1_6" gradientUnits="userSpaceOnUse" x1="329.00" y1="0" x2="595.10" y2="0"><stop offset="0.001529" stop-color="#7a008b"/><stop offset="0.004587" stop-color="#000000"/><stop offset="0.1942" stop-color="#000000"/><stop offset="0.2003" stop-color="#130015"/><stop offset="0.2034" stop-color="#25002b"/><stop offset="0.2064" stop-color="#41004b"/><stop offset="0.2095" stop-color="#770088"/><stop offset="0.2187" stop-color="#870098"/><stop offset="0.2217" stop-color="#83009a"/><stop offset="0.2248" stop-color="#0d00a8"/><stop offset="0.2278" stop-color="#0000c9"/><stop offset="0.2309" stop-color="#0000d9"/><stop offset="0.2339" stop-color="#005ddd"/><stop offset="0.237" stop-color="#0080dd"/><stop offset="0.2431" stop-color="#009adb"/><stop offset="0.2554" stop-color="#009fcb"/><stop offset="0.2676" stop-color="#00a8af"/><stop offset="0.3532" stop-color="#00aa88"/><stop offset="0.3563" stop-color="#00a97d"/><stop offset="0.3593" stop-color="#00a97d"/><stop offset="0.3685" stop-color="#00a55d"/><stop offset="0.3716" stop-color="#00a248"/><stop offset="0.3838" stop-color="#009d1d"/><stop offset="0.3869" stop-color="#009d1d"/><stop offset="0.396" stop-color="#009a00"/><stop offset="0.4602" stop-color="#00ba00"/><stop offset="0.5061" stop-color="#00bf00"/><stop offset="0.5336" stop-color="#00ac00"/><stop offset="0.5398" stop-color="#009c00"/><stop offset="0.5489" stop-color="#009b13"/><stop offset="0.5581" stop-color="#009f33"/><stop offset="0.5642" stop-color="#00aa8b"/><stop offset="0.5734" stop-color="#00aaa0"/><stop offset="0.5948" stop-color="#00a7b3"/><stop offset="0.604" stop-color="#009adb"/><stop offset="0.6346" stop-color="#0085dd"/><stop offset="0.6407" stop-color="#0070dd"/><stop offset="0.6468" stop-color="#002fdd"/><stop offset="0.6529" stop-color="#0000dd"/><stop offset="0.6682" stop-color="#0000d9"/><stop offset="0.6865" stop-color="#0000c1"/><stop offset="0.6988" stop-color="#0300aa"/><stop offset="0.7049" stop-color="#2d00a4"/><stop offset="0.7202" stop-color="#63009e"/><stop offset="0.7232" stop-color="#78009b"/><stop offset="0.7263" stop-color="#83009a"/><stop offset="0.7416" stop-color="#870098"/><stop offset="0.7446" stop-color="#00a7b3"/><stop offset="0.7477" stop-color="#00a7b3"/><stop offset="0.7508" stop-color="#0000dd"/><stop offset="0.7569" stop-color="#0000dd"/><stop offset="0.7599" stop-color="#008add"/><stop offset="0.7661" stop-color="#008add"/><stop offset="0.7691" stop-color="#007ddd"/><stop offset="0.7783" stop-color="#007ddd"/><stop offset="0.7813" stop-color="#0000dd"/><stop offset="0.7844" stop-color="#0098dd"/><stop offset="0.7875" stop-color="#0098dd"/><stop offset="0.7905" stop-color="#0000dd"/><stop offset="0.7936" stop-color="#0000dd"/><stop offset="0.7966" stop-color="#009fcb"/><stop offset="0.8058" stop-color="#009fcb"/><stop offset="0.8089" stop-color="#0000dd"/><stop offset="0.8211" stop-color="#0000dd"/><stop offset="0.8242" stop-color="#870098"/><stop offset="0.8272" stop-color="#870098"/><stop offset="0.8303" stop-color="#41004b"/><stop offset="0.867" stop-color="#41004b"/><stop offset="0.87" stop-color="#380040"/><stop offset="0.8761" stop-color="#380040"/><stop offset="0.8792" stop-color="#2f0035"/><stop offset="0.8884" stop-color="#2f0035"/><stop offset="0.8914" stop-color="#25002b"/><stop offset="0.9098" stop-color="#25002b"/><stop offset="0.9128" stop-color="#1c0020"/><stop offset="0.9281" stop-color="#1c0020"/><stop offset="0.9312" stop-color="#130015"/><stop offset="0.9465" stop-color="#130015"/><stop offset="0.9495" stop-color="#09000b"/><stop offset="0.9679" stop-color="#09000b"/><stop offset="0.9709" stop-color="#000000"/><stop offset="0.9985" stop-color="#000000"/></linearGradient>
<linearGradient id="g1_7" gradientUnits="userSpaceOnUse" x1="329.00" y1="0" x2="595.10" y2="0"><stop offset="0.001529" stop-color="#7a008b"/><stop offset="0.004587" stop-color="#000000"/><stop offset="0.1942" stop-color="#000000"/><stop offset="0.2003" stop-color="#130015"/><stop offset="0.2034" stop-color="#25002b"/><stop offset="0.2064" stop-color="#41004b"/><stop offset="0.2095" stop-color="#770088"/><stop offset="0.2187" stop-color="#870098"/><stop offset="0.2217" stop-color="#83009a"/><stop offset="0.2248" stop-color="#0d00a8"/><stop offset="0.2278" stop-color="#0000c9"/><stop offset="0.2309" stop-color="#0000d9"/><stop offset="0.2339" stop-color="#005ddd"/><stop offset="0.237" stop-color="#0080dd"/><stop offset="0.2431" stop-color="#009adb"/><stop offset="0.2554" stop-color="#009fcb"/><stop offset="0.2676" stop-color="#00a8af"/><stop offset="0.3532" stop-color="#00aa88"/><stop offset="0.3563" stop-color="#00a97d"/><stop offset="0.3593" stop-color="#00a97d"/><stop offset="0.3685" stop-color="#00a55d"/><stop offset="0.3716" stop-color="#00a248"/><stop offset="0.3838" stop-color="#009d1d"/><stop offset="0.3869" stop-color="#009d1d"/><stop offset="0.396" stop-color="#009a00"/><stop offset="0.4602" stop-color="#00ba00"/><stop offset="0.5061" stop-color="#00bf00"/><stop offset="0.5336" stop-color="#00ac00"/><stop offset="0.5398" stop-color="#009c00"/><stop offset="0.5489" stop-color="#009b13"/><stop offset="0.5581" stop-color="#009f33"/><stop offset="0.5642" stop-color="#00aa8b"/><stop offset="0.5734" stop-color="#00aaa0"/><stop offset="0.5948" stop-color="#00a7b3"/><stop offset="0.604" stop-color="#009adb"/><stop offset="0.6346" stop-color="#0085dd"/><stop offset="0.6407" stop-color="#0070dd"/><stop offset="0.6468" stop-color="#002fdd"/><stop offset="0.6529" stop-color="#0000dd"/><stop offset="0.6682" stop-color="#0000d9"/><stop offset="0.6865" stop-color="#0000c1"/><stop offset="0.6988" stop-color="#0300aa"/><stop offset="0.7049" stop-color="#2d00a4"/><stop offset="0.7202" stop-color="#63009e"/><stop offset="0.7232" stop-color="#78009b"/><stop offset="0.7263" stop-color="#83009a"/><stop offset="0.7416" stop-color="#870098"/><stop offset="0.7446" stop-color="#00a7b3"/><stop offset="0.7477" stop-color="#00a7b3"/><stop offset="0.7508" stop-color="#0000dd"/><stop offset="0.7569" stop-color="#0000dd"/><stop offset="0.7599" stop-color="#008add"/><stop offset="0.7661" stop-color="#008add"/><stop offset="0.7691" stop-color="#007ddd"/><stop offset="0.7783" stop-color="#007ddd"/><stop offset="0.7813" stop-color="#0000dd"/><stop offset="0.7844" stop-color="#0098dd"/><stop offset="0.7875" stop-color="#0098dd"/><stop offset="0.7905" stop-color="#0000dd"/><stop offset="0.7936" stop-color="#0000dd"/><stop offset="0.7966" stop-color="#009fcb"/><stop offset="0.8058" stop-color="#009fcb"/><stop offset="0.8089" stop-color="#0000dd"/><stop offset="0.8211" stop-color="#0000dd"/><stop offset="0.8242" stop-color="#870098"/><stop offset="0.8272" stop-color="#870098"/><stop offset="0.8303" stop-color="#41004b"/><stop offset="0.867" stop-color="#41004b"/><stop offset="0.87" stop-color="#380040"/><stop offset="0.8761" stop-color="#380040"/><stop offset="0.8792" stop-color="#2f0035"/><stop offset="0.8884" stop-color="#2f0035"/><stop offset="0.8914" stop-color="#25002b"/><stop offset="0.9098" stop-color="#25002b"/><stop offset="0.9128" stop-color="#1c0020"/><stop offset="0.9281" stop-color="#1c0020"/><stop offset="0.9312" stop-color="#130015"/><stop offset="0.9465" stop-color="#130015"/><stop offset="0.9495" stop-color="#09000b"/><stop offset="0.9679" stop-color="#09000b"/><stop offset="0.9709" stop-color="#000000"/><stop offset="0.9985" stop-color="#000000"/></linearGradient>
<linearGradient id="g1_8" gradientUnits="userSpaceOnUse" x1="329.00" y1="0" x2="595.10" y2="0"><stop offset="0.001529" stop-color="#7a008b"/><stop offset="0.004587" stop-color="#000000"/><stop offset="0.1942" stop-color="#000000"/><stop offset="0.2003" stop-color="#130015"/><stop offset="0.2034" stop-color="#25002b"/><stop offset="0.2064" stop-color="#41004b"/><stop offset="0.2095" stop-color="#770088"/><stop offset="0.2187" stop-color="#870098"/><stop offset="0.2217" stop-color="#83009a"/><stop offset="0.2248" stop-color="#0d00a8"/><stop offset="0.2278" stop-color="#0000c9"/><stop offset="0.2309" stop-color="#0000d9"/><stop offset="0.2339" stop-color="#005ddd"/><stop offset="0.237" stop-color="#0080dd"/><stop offset="0.2431" stop-color="#009adb"/><stop offset="0.2554" stop-color="#009fcb"/><stop offset="0.2676" stop-color="#00a8af"/><stop offset="0.3532" stop-color="#00aa88"/><stop offset="0.3563" stop-color="#00a97d"/><stop offset="0.3593" stop-color="#00a97d"/><stop offset="0.3685" stop-color="#00a55d"/><stop offset="0.3716" stop-color="#00a248"/><stop offset="0.3838" stop-color="#009d1d"/><stop offset="0.3869" stop-color="#009d1d"/><stop offset="0.396" stop-color="#009a00"/><stop offset="0.4174" stop-color="#00a700"/><stop offset="0.4205" stop-color="#fcd200"/><stop offset="0.4235" stop-color="#fcd200"/><stop offset="0.4266" stop-color="#00ac00"/><stop offset="0.4969" stop-color="#00c200"/><stop offset="0.5336" stop-color="#00ac00"/><stop offset="0.5398" stop-color="#009c00"/><stop offset="0.5489" stop-color="#009b13"/><stop offset="0.5581" stop-color="#009f33"/><stop offset="0.5642" stop-color="#00aa8b"/><stop offset="0.5734" stop-color="#00aaa0"/><stop offset="0.5948" stop-color="#00a7b3"/><stop offset="0.604" stop-color="#009adb"/><stop offset="0.6346" stop-color="#0085dd"/><stop offset="0.6407" stop-color="#0070dd"/><stop offset="0.6468" stop-color="#002fdd"/><stop offset="0.6529" stop-color="#0000dd"/><stop offset="0.6682" stop-color="#0000d9"/><stop offset="0.6865" stop-color="#0000c1"/><stop offset="0.6988" stop-color="#0300aa"/><stop offset="0.7049" stop-color="#2d00a4"/><stop offset="0.7202" stop-color="#63009e"/><stop offset="0.7232" stop-color="#78009b"/><stop offset="0.7263" stop-color="#83009a"/><stop offset="0.7416" stop-color="#870098"/><stop offset="0.7446" stop-color="#00a7b3"/><stop offset="0.7477" stop-color="#00a7b3"/><stop offset="0.7508" stop-color="#0000dd"/><stop offset="0.7569" stop-color="#0000dd"/><stop offset="0.7599" stop-color="#008add"/><stop offset="0.7661" stop-color="#008add"/><stop offset="0.7691" stop-color="#007ddd"/><stop offset="0.7783" stop-color="#007ddd"/><stop offset="0.7813" stop-color="#0000dd"/><stop offset="0.7844" stop-color="#0098dd"/><stop offset="0.7875" stop-color="#0098dd"/><stop offset="0.7905" stop-color="#0000dd"/><stop offset="0.7936" stop-color="#0000dd"/><stop offset="0.7966" stop-color="#009fcb"/><stop offset="0.8058" stop-color="#009fcb"/><stop offset="0.8089" stop-color="#0000dd"/><stop offset="0.8211" stop-color="#0000dd"/><stop offset="0.8242" stop-color="#870098"/><stop offset="0.8272" stop-color="#870098"/><stop offset="0.8303" stop-color="#41004b"/><stop offset="0.867" stop-color="#41004b"/><stop offset="0.87" stop-color="#380040"/><stop offset="0.8761" stop-color="#380040"/><stop offset="0.8792" stop-color="#2f0035"/><stop offset="0.8884" stop-color="#2f0035"/><stop offset="0.8914" stop-color="#25002b"/><stop offset="0.9098" stop-color="#25002b"/><stop offset="0.9128" stop-color="#1c0020"/><stop offset="0.9281" stop-color="#1c0020"/><stop offset="0.9312" stop-color="#130015"/><stop offset="0.9465" stop-color="#130015"/><stop offset="0.9495" stop-color="#09000b"/><stop offset="0.9679" stop-color="#09000b"/><stop offset="0.9709" stop-color="#000000"/><stop offset="0.9985" stop-color="#000000"/></linearGradient>
<linearGradient id="g1_9" gradientUnits="userSpaceOnUse" x1="329.00" y1="0" x2="595.10" y2="0"><stop offset="0.001529" stop-color="#7a008b"/><stop offset="0.004587" stop-color="#000000"/><stop offset="0.1942" stop-color="#000000"/><stop offset="0.2003" stop-color="#130015"/><stop offset="0.2034" stop-color="#25002b"/><stop offset="0.2064" stop-color="#41004b"/><stop offset="0.2095" stop-color="#770088"/><stop offset="0.2187" stop-color="#870098"/><stop offset="0.2217" stop-color="#83009a"/><stop offset="0.2248" stop-color="#0d00a8"/><stop offset="0.2278" stop-color="#0000c9"/><stop offset="0.2309" stop-color="#0000d9"/><stop offset="0.2339" stop-color="#005ddd"/><stop offset="0.237" stop-color="#0080dd"/><stop offset="0.2431" stop-color="#009adb"/><stop offset="0.2554" stop-color="#00aaa8"/><stop offset="0.2829" stop-color="#00aa8b"/><stop offset="0.2982" stop-color="#00a353"/><stop offset="0.3012" stop-color="#00a13d"/><stop offset="0.3043" stop-color="#009f33"/><stop offset="0.3104" stop-color="#009f33"/><stop offset="0.3135" stop-color="#009e28"/><stop offset="0.3165" stop-color="#009e28"/><stop offset="0.3196" stop-color="#009d1d"/><stop offset="0.3379" stop-color="#009d1d"/><stop offset="0.341" stop-color="#009b13"/><stop offset="0.3807" stop-color="#009b13"/><stop offset="0.3838" stop-color="#009a08"/><stop offset="0.3991" stop-color="#009f00"/><stop offset="0.4174" stop-color="#00a700"/><stop offset="0.4205" stop-color="#fdcf00"/><stop offset="0.4235" stop-color="#fdcf00"/><stop offset="0.4266" stop-color="#00ac00"/><stop offset="0.4969" stop-color="#00c200"/><stop offset="0.5336" stop-color="#00ac00"/><stop offset="0.5398" stop-color="#009c00"/><stop offset="0.5489" stop-color="#009b13"/><stop offset="0.5581" stop-color="#009f33"/><stop offset="0.5642" stop-color="#00aa8b"/><stop offset="0.5734" stop-color="#00aaa0"/><stop offset="0.5948" stop-color="#00a7b3"/><stop offset="0.604" stop-color="#009adb"/><stop offset="0.6346" stop-color="#0085dd"/><stop offset="0.6407" stop-color="#0070dd"/><stop offset="0.6468" stop-color="#002fdd"/><stop offset="0.6529" stop-color="#0000dd"/><stop offset="0.6682" stop-color="#0000d9"/><stop offset="0.6865" stop-color="#0000c1"/><stop offset="0.6988" stop-color="#0300aa"/><stop offset="0.7049" stop-color="#2d00a4"/><stop offset="0.7202" stop-color="#63009e"/><stop offset="0.7232" stop-color="#78009b"/><stop offset="0.7263" stop-color="#83009a"/><stop offset="0.7416" stop-color="#870098"/><stop offset="0.7446" stop-color="#00a7b3"/><stop offset="0.7477" stop-color="#00a7b3"/><stop offset="0.7508" stop-color="#0000dd"/><stop offset="0.7569" stop-color="#0000dd"/><stop offset="0.7599" stop-color="#008add"/><stop offset="0.7661" stop-color="#008add"/><stop offset="0.7691" stop-color="#007ddd"/><stop offset="0.7783" stop-color="#007ddd"/><stop offset="0.7813" stop-color="#0000dd"/><stop offset="0.7844" stop-color="#0098dd"/><stop offset="0.7875" stop-color="#0098dd"/><stop offset="0.7905" stop-color="#0000dd"/><stop offset="0.7936" stop-color="#0000dd"/><stop offset="0.7966" stop-color="#009fcb"/><stop offset="0.8058" stop-color="#009fcb"/><stop offset="0.8089" stop-color="#0000dd"/><stop offset="0.8211" stop-color="#0000dd"/><stop offset="0.8242" stop-color="#870098"/><stop offset="0.8272" stop-color="#870098"/><stop offset="0.8303" stop-color="#41004b"/><stop offset="0.867" stop-color="#41004b"/><stop offset="0.87" stop-color="#380040"/><stop offset="0.8761" stop-color="#380040"/><stop offset="0.8792" stop-color="#2f0035"/><stop offset="0.8884" stop-color="#2f0035"/><stop offset="0.8914" stop-color="#25002b"/><stop offset="0.9098" stop-color="#25002b"/><stop offset="0.9128" stop-color="#1c0020"/><stop offset="0.9281" stop-color="#1c0020"/><stop offset="0.9312" stop-color="#130015"/><stop offset="0.9465" stop-color="#130015"/><stop offset="0.9495" stop-color="#09000b"/><stop offset="0.9679" stop-color="#09000b"/><stop offset="0.9709" stop-color="#000000"/><stop offset="0.9985" stop-color="#000000"/></linearGradient>
<linearGradient id="g1_10" gradientUnits="userSpaceOnUse" x1="329.00" y1="0" x2="595.10" y2="0"><stop offset="0.001529" stop-color="#7a008b"/><stop offset="0.004587" stop-color="#000000"/><stop offset="0.1942" stop-color="#000000"/><stop offset="0.2003" stop-color="#130015"/><stop offset="0.2034" stop-color="#25002b"/><stop offset="0.2064" stop-color="#41004b"/><stop offset="0.2095" stop-color="#770088"/><stop offset="0.2187" stop-color="#870098"/><stop offset="0.2217" stop-color="#83009a"/><stop offset="0.2248" stop-color="#0d00a8"/><stop offset="0.2278" stop-color="#0000c9"/><stop offset="0.2309" stop-color="#0000d9"/><stop offset="0.2339" stop-color="#005ddd"/><stop offset="0.237" stop-color="#0080dd"/><stop offset="0.2431" stop-color="#009adb"/><stop offset="0.2554" stop-color="#009fcb"/><stop offset="0.2676" stop-color="#00a8af"/><stop offset="0.3532" stop-color="#00aa88"/><stop offset="0.3563" stop-color="#00a97d"/><stop offset="0.3593" stop-color="#00a97d"/><stop offset="0.3685" stop-color="#00a55d"/><stop offset="0.3716" stop-color="#00a248"/><stop offset="0.3838" stop-color="#009d1d"/><stop offset="0.3869" stop-color="#009d1d"/><stop offset="0.396" stop-color="#009a00"/><stop offset="0.4174" stop-color="#00a700"/><stop offset="0.4205" stop-color="#fcd200"/><stop offset="0.4235" stop-color="#fcd200"/><stop offset="0.4266" stop-color="#00ac00"/><stop offset="0.4969" stop-color="#00c200"/><stop offset="0.5245" stop-color="#00af00"/><stop offset="0.5336" stop-color="#009c00"/><stop offset="0.5367" stop-color="#009b13"/><stop offset="0.5398" stop-color="#009f33"/><stop offset="0.5428" stop-color="#00a55d"/><stop offset="0.5489" stop-color="#00aa88"/><stop offset="0.5948" stop-color="#00a7b3"/><stop offset="0.604" stop-color="#009adb"/><stop offset="0.6346" stop-color="#0085dd"/><stop offset="0.6407" stop-color="#0070dd"/><stop offset="0.6468" stop-color="#002fdd"/><stop offset="0.6529" stop-color="#0000dd"/><stop offset="0.6682" stop-color="#0000d9"/><stop offset="0.6865" stop-color="#0000c1"/><stop offset="0.6988" stop-color="#0300aa"/><stop offset="0.7049" stop-color="#2d00a4"/><stop offset="0.7202" stop-color="#63009e"/><stop offset="0.7232" stop-color="#78009b"/><stop offset="0.7263" stop-color="#83009a"/><stop offset="0.7416" stop-color="#870098"/><stop offset="0.7446" stop-color="#00a7b3"/><stop offset="0.7477" stop-color="#00a7b3"/><stop offset="0.7508" stop-color="#0000dd"/><stop offset="0.7569" stop-color="#0000dd"/><stop offset="0.7599" stop-color="#008add"/><stop offset="0.7661" stop-color="#008add"/><stop offset="0.7691" stop-color="#007ddd"/><stop offset="0.7783" stop-color="#007ddd"/><stop offset="0.7813" stop-color="#0000dd"/><stop offset="0.7844" stop-color="#0098dd"/><stop offset="0.7875" stop-color="#0098dd"/><stop offset="0.7905" stop-color="#0000dd"/><stop offset="0.7936" stop-color="#0000dd"/><stop offset="0.7966" stop-color="#009fcb"/><stop offset="0.8058" stop-color="#009fcb"/><stop offset="0.8089" stop-color="#0000dd"/><stop offset="0.8211" stop-color="#0000dd"/><stop offset="0.8242" stop-color="#870098"/><stop offset="0.8272" stop-color="#870098"/><stop offset="0.8303" stop-color="#41004b"/><stop offset="0.867" stop-color="#41004b"/><stop offset="0.87" stop-color="#380040"/><stop offset="0.8761" stop-color="#380040"/><stop offset="0.8792" stop-color="#2f0035"/><stop offset="0.8884" stop-color="#2f0035"/><stop offset="0.8914" stop-color="#25002b"/><stop offset="0.9098" stop-color="#25002b"/><stop offset="0.9128" stop-color="#1c0020"/><stop offset="0.9281" stop-color="#1c0020"/><stop offset="0.9312" stop-color="#130015"/><stop offset="0.9465" stop-color="#130015"/><stop offset="0.9495" stop-color="#09000b"/><stop offset="0.9679" stop-color="#09000b"/><stop offset="0.9709" stop-color="#000000"/><stop offset="0.9985" stop-color="#000000"/></linearGradient>
<linearGradient id="g1_11" gradientUnits="userSpaceOnUse" x1="329.00" y1="0" x2="595.10" y2="0"><stop offset="0.001529" stop-color="#7a008b"/><stop offset="0.004587" stop-color="#000000"/><stop offset="0.1942" stop-color="#000000"/><stop offset="0.2003" stop-color="#130015"/><stop offset="0.2034" stop-color="#25002b"/><stop offset="0.2064" stop-color="#41004b"/><stop offset="0.2095" stop-color="#770088"/><stop offset="0.2187" stop-color="#870098"/><stop offset="0.2217" stop-color="#83009a"/><stop offset="0.2248" stop-color="#0d00a8"/><stop offset="0.2278" stop-color="#0000c9"/><stop offset="0.2309" stop-color="#0000d9"/><stop offset="0.2339" stop-color="#005ddd"/><stop offset="0.237" stop-color="#0080dd"/><stop offset="0.2401" stop-color="#008ddd"/><stop offset="0.2431" stop-color="#009ecf"/><stop offset="0.2462" stop-color="#00aaa3"/><stop offset="0.2523" stop-color="#00aa8d"/><stop offset="0.2554" stop-color="#00a668"/><stop offset="0.2584" stop-color="#009e28"/><stop offset="0.2645" stop-color="#009a00"/><stop offset="0.3746" stop-color="#00a700"/><stop offset="0.4174" stop-color="#00ac00"/><stop offset="0.4205" stop-color="#bcff00"/><stop offset="0.4235" stop-color="#bcff00"/><stop offset="0.4266" stop-color="#00af00"/><stop offset="0.5" stop-color="#00c200"/><stop offset="0.5336" stop-color="#00ac00"/><stop offset="0.5398" stop-color="#009c00"/><stop offset="0.5489" stop-color="#009b13"/><stop offset="0.5581" stop-color="#009f33"/><stop offset="0.5642" stop-color="#00aa8b"/><stop offset="0.5734" stop-color="#00aaa0"/><stop offset="0.5948" stop-color="#00a7b3"/><stop offset="0.604" stop-color="#009adb"/><stop offset="0.6346" stop-color="#0085dd"/><stop offset="0.6407" stop-color="#0070dd"/><stop offset="0.6468" stop-color="#002fdd"/><stop offset="0.6529" stop-color="#0000dd"/><stop offset="0.6682" stop-color="#0000d9"/><stop offset="0.6865" stop-color="#0000c1"/><stop offset="0.6988" stop-color="#0300aa"/><stop offset="0.7049" stop-color="#2d00a4"/><stop offset="0.7202" stop-color="#63009e"/><stop offset="0.7232" stop-color="#78009b"/><stop offset="0.7263" stop-color="#83009a"/><stop offset="0.7416" stop-color="#870098"/><stop offset="0.7446" stop-color="#00a7b3"/><stop offset="0.7477" stop-color="#00a7b3"/><stop offset="0.7508" stop-color="#0000dd"/><stop offset="0.7569" stop-color="#0000dd"/><stop offset="0.7599" stop-color="#008add"/><stop offset="0.7661" stop-color="#008add"/><stop offset="0.7691" stop-color="#007ddd"/><stop offset="0.7783" stop-color="#007ddd"/><stop offset="0.7813" stop-color="#0000dd"/><stop offset="0.7844" stop-color="#0098dd"/><stop offset="0.7875" stop-color="#0098dd"/><stop offset="0.7905" stop-color="#0000dd"/><stop offset="0.7936" stop-color="#0000dd"/><stop offset="0.7966" stop-color="#009fcb"/><stop offset="0.8058" stop-color="#009fcb"/><stop offset="0.8089" stop-color="#0000dd"/><stop offset="0.8211" stop-color="#0000dd"/><stop offset="0.8242" stop-color="#870098"/><stop offset="0.8272" stop-color="#870098"/><stop offset="0.8303" stop-color="#41004b"/><stop offset="0.867" stop-color="#41004b"/><stop offset="0.87" stop-color="#380040"/><stop offset="0.8761" stop-color="#380040"/><stop offset="0.8792" stop-color="#2f0035"/><stop offset="0.8884" stop-color="#2f0035"/><stop offset="0.8914" stop-color="#25002b"/><stop offset="0.9098" stop-color="#25002b"/><stop offset="0.9128" stop-color="#1c0020"/><stop offset="0.9281" stop-color="#1c0020"/><stop offset="0.9312" stop-color="#130015"/><stop offset="0.9465" stop-color="#130015"/><stop offset="0.9495" stop-color="#09000b"/><stop offset="0.9679" stop-color="#09000b"/><stop offset="0.9709" stop-color="#000000"/><stop offset="0.9985" stop-color="#000000"/></linearGradient>
<linearGradient id="g1_12" gradientUnits="userSpaceOnUse" x1="329.00" y1="0" x2="595.10" y2="0"><stop offset="0.001529" stop-color="#7a008b"/><stop offset="0.004587" stop-color="#000000"/><stop offset="0.1942" stop-color="#000000"/><stop offset="0.2003" stop-color="#130015"/><stop offset="0.2034" stop-color="#25002b"/><stop offset="0.2064" stop-color="#41004b"/><stop offset="0.2095" stop-color="#770088"/><stop offset="0.2187" stop-color="#870098"/><stop offset="0.2217" stop-color="#83009a"/><stop offset="0.2248" stop-color="#0d00a8"/><stop offset="0.2278" stop-color="#0000c9"/><stop offset="0.2309" stop-color="#0000d9"/><stop offset="0.2339" stop-color="#005ddd"/><stop offset="0.237" stop-color="#0080dd"/><stop offset="0.2431" stop-color="#009adb"/><stop offset="0.2554" stop-color="#00aaa8"/><stop offset="0.2829" stop-color="#00aa8b"/><stop offset="0.2982" stop-color="#00a353"/><stop offset="0.3012" stop-color="#00a13d"/><stop offset="0.3043" stop-color="#009f33"/><stop offset="0.3104" stop-color="#009f33"/><stop offset="0.3135" stop-color="#009e28"/><stop offset="0.3165" stop-color="#009e28"/><stop offset="0.3196" stop-color="#009d1d"/><stop offset="0.3379" stop-color="#009d1d"/><stop offset="0.341" stop-color="#009b13"/><stop offset="0.3807" stop-color="#009b13"/><stop offset="0.3838" stop-color="#009a08"/><stop offset="0.3991" stop-color="#009f00"/><stop offset="0.4174" stop-color="#00a700"/><stop offset="0.4205" stop-color="#2cff00"/><stop offset="0.4235" stop-color="#2cff00"/><stop offset="0.4266" stop-color="#00ac00"/><stop offset="0.4969" stop-color="#00c200"/><stop offset="0.5336" stop-color="#00ac00"/><stop offset="0.5398" stop-color="#009c00"/><stop offset="0.5489" stop-color="#009b13"/><stop offset="0.5581" stop-color="#009f33"/><stop offset="0.5642" stop-color="#00aa8b"/><stop offset="0.5734" stop-color="#00aaa0"/><stop offset="0.5948" stop-color="#00a7b3"/><stop offset="0.604" stop-color="#009adb"/><stop offset="0.6346" stop-color="#0085dd"/><stop offset="0.6407" stop-color="#0070dd"/><stop offset="0.6468" stop-color="#002fdd"/><stop offset="0.6529" stop-color="#0000dd"/><stop offset="0.6682" stop-color="#0000d9"/><stop offset="0.6865" stop-color="#0000c1"/><stop offset="0.6988" stop-color="#0300aa"/><stop offset="0.7049" stop-color="#2d00a4"/><stop offset="0.7202" stop-color="#63009e"/><stop offset="0.7232" stop-color="#78009b"/><stop offset="0.7263" stop-color="#83009a"/><stop offset="0.7416" stop-color="#870098"/><stop offset="0.7446" stop-color="#00a7b3"/><stop offset="0.7477" stop-color="#00a7b3"/><stop offset="0.7508" stop-color="#0000dd"/><stop offset="0.7569" stop-color="#0000dd"/><stop offset="0.7599" stop-color="#008add"/><stop offset="0.7661" stop-color="#008add"/><stop offset="0.7691" stop-color="#007ddd"/><stop offset="0.7783" stop-color="#007ddd"/><stop offset="0.7813" stop-color="#0000dd"/><stop offset="0.7844" stop-color="#0098dd"/><stop offset="0.7875" stop-color="#0098dd"/><stop offset="0.7905" stop-color="#0000dd"/><stop offset="0.7936" stop-color="#0000dd"/><stop offset="0.7966" stop-color="#009fcb"/><stop offset="0.8058" stop-color="#009fcb"/><stop offset="0.8089" stop-color="#0000dd"/><stop offset="0.8211" stop-color="#0000dd"/><stop offset="0.8242" stop-color="#870098"/><stop offset="0.8272" stop-color="#870098"/><stop offset="0.8303" stop-color="#41004b"/><stop offset="0.867" stop-color="#41004b"/><stop offset="0.87" stop-color="#380040"/><stop offset="0.8761" stop-color="#380040"/><stop offset="0.8792" stop-color="#2f0035"/><stop offset="0.8884" stop-color="#2f0035"/><stop offset="0.8914" stop-color="#25002b"/><stop offset="0.9098" stop-color="#25002b"/><stop offset="0.9128" stop-color="#1c0020"/><stop offset="0.9281" stop-color="#1c0020"/><stop offset="0.9312" stop-color="#130015"/><stop offset="0.9465" stop-color="#130015"/><stop offset="0.9495" stop-color="#09000b"/><stop offset="0.9679" stop-color="#09000b"/><stop offset="0.9709" stop-color="#000000"/><stop offset="0.9985" stop-color="#000000"/></linearGradient>
<linearGradient id="g1_13" gradientUnits="userSpaceOnUse" x1="329.00" y1="0" x2="595.10" y2="0"><stop offset="0.001529" stop-color="#7a008b"/><stop offset="0.004587" stop-color="#000000"/><stop offset="0.1942" stop-color="#000000"/><stop offset="0.2003" stop-color="#130015"/><stop offset="0.2034" stop-color="#25002b"/><stop offset="0.2064" stop-color="#41004b"/><stop offset="0.2095" stop-color="#770088"/><stop offset="0.2187" stop-color="#870098"/><stop offset="0.2217" stop-color="#83009a"/><stop offset="0.2248" stop-color="#0d00a8"/><stop offset="0.2278" stop-color="#0000c9"/><stop offset="0.2309" stop-color="#0000d9"/><stop offset="0.2339" stop-color="#005ddd"/><stop offset="0.237" stop-color="#0080dd"/><stop offset="0.2431" stop-color="#009adb"/><stop offset="0.2554" stop-color="#009fcb"/><stop offset="0.2676" stop-color="#00a8af"/><stop offset="0.3532" stop-color="#00aa88"/><stop offset="0.3563" stop-color="#00a97d"/><stop offset="0.3593" stop-color="#00a97d"/><stop offset="0.3685" stop-color="#00a55d"/><stop offset="0.3716" stop-color="#00a248"/><stop offset="0.3838" stop-color="#009d1d"/><stop offset="0.3869" stop-color="#009d1d"/><stop offset="0.396" stop-color="#009a00"/><stop offset="0.4174" stop-color="#00a700"/><stop offset="0.4205" stop-color="#00dc00"/><stop offset="0.4235" stop-color="#00dc00"/><stop offset="0.4266" stop-color="#00ac00"/><stop offset="0.4969" stop-color="#00c200"/><stop offset="0.5398" stop-color="#00ac00"/><stop offset="0.5489" stop-color="#009a00"/><stop offset="0.555" stop-color="#009b13"/><stop offset="0.5581" stop-color="#009b13"/><stop offset="0.5642" stop-color="#009e28"/><stop offset="0.5673" stop-color="#00a13d"/><stop offset="0.5703" stop-color="#00a773"/><stop offset="0.5734" stop-color="#00aa8d"/><stop offset="0.5826" stop-color="#00aaa0"/><stop offset="0.604" stop-color="#00a6b7"/><stop offset="0.6131" stop-color="#009adb"/><stop offset="0.6407" stop-color="#008add"/><stop offset="0.6468" stop-color="#007add"/><stop offset="0.6498" stop-color="#0067dd"/><stop offset="0.656" stop-color="#0025dd"/><stop offset="0.659" stop-color="#0009dd"/><stop offset="0.6651" stop-color="#0000dd"/><stop offset="0.6835" stop-color="#0000d1"/><stop offset="0.7049" stop-color="#0300aa"/><stop offset="0.7141" stop-color="#4300a2"/><stop offset="0.7202" stop-color="#58009f"/><stop offset="0.7232" stop-color="#6d009c"/><stop offset="0.7294" stop-color="#83009a"/><stop offset="0.7416" stop-color="#870098"/><stop offset="0.7446" stop-color="#00a7b3"/><stop offset="0.7477" stop-color="#00a7b3"/><stop offset="0.7508" stop-color="#0000dd"/><stop offset="0.7569" stop-color="#0000dd"/><stop offset="0.7599" stop-color="#008add"/><stop offset="0.7661" stop-color="#008add"/><stop offset="0.7691" stop-color="#007ddd"/><stop offset="0.7783" stop-color="#007ddd"/><stop offset="0.7813" stop-color="#0000dd"/><stop offset="0.7844" stop-color="#0098dd"/><stop offset="0.7875" stop-color="#0098dd"/><stop offset="0.7905" stop-color="#0000dd"/><stop offset="0.7936" stop-color="#0000dd"/><stop offset="0.7966" stop-color="#009fcb"/><stop offset="0.8058" stop-color="#009fcb"/><stop offset="0.8089" stop-color="#0000dd"/><stop offset="0.8211" stop-color="#0000dd"/><stop offset="0.8242" stop-color="#870098"/><stop offset="0.8272" stop-color="#870098"/><stop offset="0.8303" stop-color="#41004b"/><stop offset="0.867" stop-color="#41004b"/><stop offset="0.87" stop-color="#380040"/><stop offset="0.8761" stop-color="#380040"/><stop offset="0.8792" stop-color="#2f0035"/><stop offset="0.8884" stop-color="#2f0035"/><stop offset="0.8914" stop-color="#25002b"/><stop offset="0.9098" stop-color="#25002b"/><stop offset="0.9128" stop-color="#1c0020"/><stop offset="0.9281" stop-color="#1c0020"/><stop offset="0.9312" stop-color="#130015"/><stop offset="0.9465" stop-color="#130015"/><stop offset="0.9495" stop-color="#09000b"/><stop offset="0.9679" stop-color="#09000b"/><stop offset="0.9709" stop-color="#000000"/><stop offset="0.9985" stop-color="#000000"/></linearGradient>
<linearGradient id="g1_14" gradientUnits="userSpaceOnUse" x1="329.00" y1="0" x2="595.10" y2="0"><stop offset="0.001529" stop-color="#7a008b"/><stop offset="0.004587" stop-color="#000000"/><stop offset="0.1942" stop-color="#000000"/><stop offset="0.2003" stop-color="#130015"/><stop offset="0.2034" stop-color="#25002b"/><stop offset="0.2064" stop-color="#41004b"/><stop offset="0.2095" stop-color="#770088"/><stop offset="0.2187" stop-color="#870098"/><stop offset="0.2217" stop-color="#83009a"/><stop offset="0.2248" stop-color="#0d00a8"/><stop offset="0.2278" stop-color="#0000c9"/><stop offset="0.2309" stop-color="#0000d9"/><stop offset="0.2339" stop-color="#005ddd"/><stop offset="0.237" stop-color="#0080dd"/><stop offset="0.2431" stop-color="#009adb"/><stop offset="0.2554" stop-color="#00aaa8"/><stop offset="0.2829" stop-color="#00aa8b"/><stop offset="0.292" stop-color="#00a668"/><stop offset="0.2951" stop-color="#009d1d"/><stop offset="0.2982" stop-color="#009d1d"/><stop offset="0.3012" stop-color="#00a13d"/><stop offset="0.3043" stop-color="#009f33"/><stop offset="0.3104" stop-color="#009f33"/><stop offset="0.3135" stop-color="#009e28"/><stop offset="0.3165" stop-color="#009e28"/><stop offset="0.3196" stop-color="#009d1d"/><stop offset="0.3379" stop-color="#009d1d"/><stop offset="0.341" stop-color="#009b13"/><stop offset="0.3807" stop-color="#009b13"/><stop offset="0.3838" stop-color="#009a08"/><stop offset="0.3991" stop-color="#009f00"/><stop offset="0.4174" stop-color="#00a700"/><stop offset="0.4205" stop-color="#00dc00"/><stop offset="0.4235" stop-color="#00dc00"/><stop offset="0.4266" stop-color="#00ac00"/><stop offset="0.4969" stop-color="#00c200"/><stop offset="0.5398" stop-color="#00ac00"/><stop offset="0.5489" stop-color="#009a00"/><stop offset="0.555" stop-color="#009b13"/><stop offset="0.5581" stop-color="#009b13"/><stop offset="0.5642" stop-color="#009e28"/><stop offset="0.5673" stop-color="#00a13d"/><stop offset="0.5703" stop-color="#00a773"/><stop offset="0.5734" stop-color="#00aa8d"/><stop offset="0.5826" stop-color="#00aaa0"/><stop offset="0.604" stop-color="#00a6b7"/><stop offset="0.6131" stop-color="#009adb"/><stop offset="0.6407" stop-color="#008add"/><stop offset="0.6468" stop-color="#007add"/><stop offset="0.6498" stop-color="#0067dd"/><stop offset="0.656" stop-color="#0025dd"/><stop offset="0.659" stop-color="#0009dd"/><stop offset="0.6651" stop-color="#0000dd"/><stop offset="0.6835" stop-color="#0000d1"/><stop offset="0.7049" stop-color="#0300aa"/><stop offset="0.7141" stop-color="#4300a2"/><stop offset="0.7202" stop-color="#58009f"/><stop offset="0.7232" stop-color="#6d009c"/><stop offset="0.7294" stop-color="#83009a"/><stop offset="0.7416" stop-color="#870098"/><stop offset="0.7446" stop-color="#00a7b3"/><stop offset="0.7477" stop-color="#00a7b3"/><stop offset="0.7508" stop-color="#0000dd"/><stop offset="0.7569" stop-color="#0000dd"/><stop offset="0.7599" stop-color="#008add"/><stop offset="0.7661" stop-color="#008add"/><stop offset="0.7691" stop-color="#007ddd"/><stop offset="0.7783" stop-color="#007ddd"/><stop offset="0.7813" stop-color="#0000dd"/><stop offset="0.7844" stop-color="#0098dd"/><stop offset="0.7875" stop-color="#0098dd"/><stop offset="0.7905" stop-color="#0000dd"/><stop offset="0.7936" stop-color="#0000dd"/><stop offset="0.7966" stop-color="#009fcb"/><stop offset="0.8058" stop-color="#009fcb"/><stop offset="0.8089" stop-color="#0000dd"/><stop offset="0.8211" stop-color="#0000dd"/><stop offset="0.8242" stop-color="#870098"/><stop offset="0.8272" stop-color="#870098"/><stop offset="0.8303" stop-color="#41004b"/><stop offset="0.867" stop-color="#41004b"/><stop offset="0.87" stop-color="#380040"/><stop offset="0.8761" stop-color="#380040"/><stop offset="0.8792" stop-color="#2f0035"/><stop offset="0.8884" stop-color="#2f0035"/><stop offset="0.8914" stop-color="#25002b"/><stop offset="0.9098" stop-color="#25002b"/><stop offset="0.9128" stop-color="#1c0020"/><stop offset="0.9281" stop-color="#1c0020"/><stop offset="0.9312" stop-color="#130015"/><stop offset="0.9465" stop-color="#130015"/><stop offset="0.9495" stop-color="#09000b"/><stop offset="0.9679" stop-color="#09000b"/><stop offset="0.9709" stop-color="#000000"/><stop offset="0.9985" stop-color="#000000"/></linearGradient>
<linearGradient id="g1_15" gradientUnits="userSpaceOnUse" x1="329.00" y1="0" x2="595.10" y2="0"><stop offset="0.001529" stop-color="#7a008b"/><stop offset="0.004587" stop-color="#000000"/><stop offset="0.1942" stop-color="#000000"/><stop offset="0.2003" stop-color="#130015"/><stop offset="0.2034" stop-color="#25002b"/><stop offset="0.2064" stop-color="#41004b"/><stop offset="0.2095" stop-color="#770088"/><stop offset="0.2187" stop-color="#870098"/><stop offset="0.2217" stop-color="#83009a"/><stop offset="0.2248" stop-color="#0d00a8"/><stop offset="0.2278" stop-color="#0000c9"/><stop offset="0.2309" stop-color="#0000d9"/><stop offset="0.2339" stop-color="#005ddd"/><stop offset="0.237" stop-color="#0080dd"/><stop offset="0.2431" stop-color="#009adb"/><stop offset="0.2554" stop-color="#009fcb"/><stop offset="0.2676" stop-color="#00a8af"/><stop offset="0.3532" stop-color="#00aa88"/><stop offset="0.3563" stop-color="#00a97d"/><stop offset="0.3593" stop-color="#00a97d"/><stop offset="0.3685" stop-color="#00a55d"/><stop offset="0.3716" stop-color="#00a248"/><stop offset="0.3838" stop-color="#009d1d"/><stop offset="0.3869" stop-color="#009d1d"/><stop offset="0.396" stop-color="#009a00"/><stop offset="0.4174" stop-color="#00a700"/><stop offset="0.4205" stop-color="#00cf00"/><stop offset="0.4235" stop-color="#00cf00"/><stop offset="0.4266" stop-color="#00ac00"/><stop offset="0.4969" stop-color="#00c200"/><stop offset="0.5398" stop-color="#00ac00"/><stop offset="0.5489" stop-color="#009a00"/><stop offset="0.555" stop-color="#009b13"/><stop offset="0.5581" stop-color="#009b13"/><stop offset="0.5642" stop-color="#009e28"/><stop offset="0.5673" stop-color="#00a13d"/><stop offset="0.5703" stop-color="#00a773"/><stop offset="0.5734" stop-color="#00aa8d"/><stop offset="0.5826" stop-color="#00aaa0"/><stop offset="0.604" stop-color="#00a6b7"/><stop offset="0.6131" stop-color="#009adb"/><stop offset="0.6407" stop-color="#008add"/><stop offset="0.6468" stop-color="#007add"/><stop offset="0.6498" stop-color="#0067dd"/><stop offset="0.656" stop-color="#0025dd"/><stop offset="0.659" stop-color="#0009dd"/><stop offset="0.6651" stop-color="#0000dd"/><stop offset="0.6835" stop-color="#0000d1"/><stop offset="0.7049" stop-color="#0300aa"/><stop offset="0.7141" stop-color="#4300a2"/><stop offset="0.7202" stop-color="#58009f"/><stop offset="0.7232" stop-color="#6d009c"/><stop offset="0.7294" stop-color="#83009a"/><stop offset="0.7416" stop-color="#870098"/><stop offset="0.7446" stop-color="#00a7b3"/><stop offset="0.7477" stop-color="#00a7b3"/><stop offset="0.7508" stop-color="#0000dd"/><stop offset="0.7569" stop-color="#0000dd"/><stop offset="0.7599" stop-color="#008add"/><stop offset="0.7661" stop-color="#008add"/><stop offset="0.7691" stop-color="#007ddd"/><stop offset="0.7783" stop-color="#007ddd"/><stop offset="0.7813" stop-color="#0000dd"/><stop offset="0.7844" stop-color="#0098dd"/><stop offset="0.7875" stop-color="#0098dd"/><stop offset="0.7905" stop-color="#0000dd"/><stop offset="0.7936" stop-color="#0000dd"/><stop offset="0.7966" stop-color="#009fcb"/><stop offset="0.8058" stop-color="#009fcb"/><stop offset="0.8089" stop-color="#0000dd"/><stop offset="0.8211" stop-color="#0000dd"/><stop offset="0.8242" stop-color="#870098"/><stop offset="0.8272" stop-color="#870098"/><stop offset="0.8303" stop-color="#41004b"/><stop offset="0.867" stop-color="#41004b"/><stop offset="0.87" stop-color="#380040"/><stop offset="0.8761" stop-color="#380040"/><stop offset="0.8792" stop-color="#2f0035"/><stop offset="0.8884" stop-color="#2f0035"/><stop offset="0.8914" stop-color="#25002b"/><stop offset="0.9098" stop-color="#25002b"/><stop offset="0.9128" stop-color="#1c0020"/><stop offset="0.9281" stop-color="#1c0020"/><stop offset="0.9312" stop-color="#130015"/><stop offset="0.9465" stop-color="#130015"/><stop offset="0.9495" stop-color="#09000b"/><stop offset="0.9679" stop-color="#09000b"/><stop offset="0.9709" stop-color="#000000"/><stop offset="0.9985" stop-color="#000000"/></linearGradient>
<linearGradient id="g1_16" gradientUnits="userSpaceOnUse" x1="329.00" y1="0" x2="595.10" y2="0"><stop offset="0.001529" stop-color="#7a008b"/><stop offset="0.004587" stop-color="#000000"/><stop offset="0.1942" stop-color="#000000"/><stop offset="0.2003" stop-color="#130015"/><stop offset="0.2034" stop-color="#25002b"/><stop offset="0.2064" stop-color="#41004b"/><stop offset="0.2095" stop-color="#770088"/><stop offset="0.2187" stop-color="#870098"/><stop offset="0.2217" stop-color="#83009a"/><stop offset="0.2248" stop-color="#0d00a8"/><stop offset="0.2278" stop-color="#0000c9"/><stop offset="0.2309" stop-color="#0000d9"/><stop offset="0.2339" stop-color="#005ddd"/><stop offset="0.237" stop-color="#0080dd"/><stop offset="0.2431" stop-color="#009adb"/><stop offset="0.2554" stop-color="#00aaa8"/><stop offset="0.2829" stop-color="#00aa8b"/><stop offset="0.2982" stop-color="#00a353"/><stop offset="0.3012" stop-color="#00a13d"/><stop offset="0.3043" stop-color="#009f33"/><stop offset="0.3104" stop-color="#009f33"/><stop offset="0.3135" stop-color="#009e28"/><stop offset="0.3165" stop-color="#009e28"/><stop offset="0.3196" stop-color="#009d1d"/><stop offset="0.3379" stop-color="#009d1d"/><stop offset="0.341" stop-color="#009b13"/><stop offset="0.3807" stop-color="#009b13"/><stop offset="0.3838" stop-color="#009a08"/><stop offset="0.3991" stop-color="#009f00"/><stop offset="0.4847" stop-color="#00bf00"/><stop offset="0.5153" stop-color="#00bc00"/><stop offset="0.5428" stop-color="#00a700"/><stop offset="0.5489" stop-color="#009a00"/><stop offset="0.555" stop-color="#009b13"/><stop offset="0.5581" stop-color="#009b13"/><stop offset="0.5642" stop-color="#009e28"/><stop offset="0.5673" stop-color="#00a13d"/><stop offset="0.5703" stop-color="#00a773"/><stop offset="0.5734" stop-color="#00aa8d"/><stop offset="0.5826" stop-color="#00aaa0"/><stop offset="0.604" stop-color="#00a6b7"/><stop offset="0.6131" stop-color="#009adb"/><stop offset="0.6407" stop-color="#008add"/><stop offset="0.6468" stop-color="#007add"/><stop offset="0.6498" stop-color="#0067dd"/><stop offset="0.656" stop-color="#0025dd"/><stop offset="0.659" stop-color="#0009dd"/><stop offset="0.6651" stop-color="#0000dd"/><stop offset="0.6835" stop-color="#0000d1"/><stop offset="0.7049" stop-color="#0300aa"/><stop offset="0.7141" stop-color="#4300a2"/><stop offset="0.7202" stop-color="#58009f"/><stop offset="0.7232" stop-color="#6d009c"/><stop offset="0.7294" stop-color="#83009a"/><stop offset="0.7416" stop-color="#870098"/><stop offset="0.7446" stop-color="#00a7b3"/><stop offset="0.7477" stop-color="#00a7b3"/><stop offset="0.7508" stop-color="#0000dd"/><stop offset="0.7569" stop-color="#0000dd"/><stop offset="0.7599" stop-color="#008add"/><stop offset="0.7661" stop-color="#008add"/><stop offset="0.7691" stop-color="#007ddd"/><stop offset="0.7783" stop-color="#007ddd"/><stop offset="0.7813" stop-color="#0000dd"/><stop offset="0.7844" stop-color="#0098dd"/><stop offset="0.7875" stop-color="#0098dd"/><stop offset="0.7905" stop-color="#0000dd"/><stop offset="0.7936" stop-color="#0000dd"/><stop offset="0.7966" stop-color="#009fcb"/><stop offset="0.8058" stop-color="#009fcb"/><stop offset="0.8089" stop-color="#0000dd"/><stop offset="0.8211" stop-color="#0000dd"/><stop offset="0.8242" stop-color="#870098"/><stop offset="0.8272" stop-color="#870098"/><stop offset="0.8303" stop-color="#41004b"/><stop offset="0.867" stop-color="#41004b"/><stop offset="0.87" stop-color="#380040"/><stop offset="0.8761" stop-color="#380040"/><stop offset="0.8792" stop-color="#2f0035"/><stop offset="0.8884" stop-color="#2f0035"/><stop offset="0.8914" stop-color="#25002b"/><stop offset="0.9098" stop-color="#25002b"/><stop offset="0.9128" stop-color="#1c0020"/><stop offset="0.9281" stop-color="#1c0020"/><stop offset="0.9312" stop-color="#130015"/><stop offset="0.9465" stop-color="#130015"/><stop offset="0.9495" stop-color="#09000b"/><stop offset="0.9679" stop-color="#09000b"/><stop offset="0.9709" stop-color="#000000"/><stop offset="0.9985" stop-color="#000000"/></linearGradient>
<linearGradient id="g1_17" gradientUnits="userSpaceOnUse" x1="329.00" y1="0" x2="595.10" y2="0"><stop offset="0.001529" stop-color="#7a008b"/><stop offset="0.004587" stop-color="#000000"/><stop offset="0.1942" stop-color="#000000"/><stop offset="0.2003" stop-color="#130015"/><stop offset="0.2034" stop-color="#25002b"/><stop offset="0.2064" stop-color="#41004b"/><stop offset="0.2095" stop-color="#770088"/><stop offset="0.2187" stop-color="#870098"/><stop offset="0.2217" stop-color="#83009a"/><stop offset="0.2248" stop-color="#0d00a8"/><stop offset="0.2278" stop-color="#0000c9"/><stop offset="0.2309" stop-color="#0000d9"/><stop offset="0.2339" stop-color="#005ddd"/><stop offset="0.237" stop-color="#0080dd"/><stop offset="0.2431" stop-color="#009adb"/><stop offset="0.2554" stop-color="#009fcb"/><stop offset="0.2676" stop-color="#00a8af"/><stop offset="0.3532" stop-color="#00aa88"/><stop offset="0.3563" stop-color="#00a97d"/><stop offset="0.3593" stop-color="#00a97d"/><stop offset="0.3685" stop-color="#00a55d"/><stop offset="0.3716" stop-color="#00a248"/><stop offset="0.3838" stop-color="#009d1d"/><stop offset="0.3869" stop-color="#009d1d"/><stop offset="0.396" stop-color="#009a00"/><stop offset="0.4052" stop-color="#009f00"/><stop offset="0.4083" stop-color="#00e400"/><stop offset="0.4113" stop-color="#00e400"/><stop offset="0.4144" stop-color="#00a400"/><stop offset="0.4817" stop-color="#00bf00"/><stop offset="0.5153" stop-color="#00bc00"/><stop offset="0.5428" stop-color="#00a700"/><stop offset="0.5489" stop-color="#009a00"/><stop offset="0.555" stop-color="#009b13"/><stop offset="0.5581" stop-color="#009b13"/><stop offset="0.5642" stop-color="#009e28"/><stop offset="0.5673" stop-color="#00a13d"/><stop offset="0.5703" stop-color="#00a773"/><stop offset="0.5734" stop-color="#00aa8d"/><stop offset="0.5826" stop-color="#00aaa0"/><stop offset="0.604" stop-color="#00a6b7"/><stop offset="0.6131" stop-color="#009adb"/><stop offset="0.6407" stop-color="#008add"/><stop offset="0.6468" stop-color="#007add"/><stop offset="0.6498" stop-color="#0067dd"/><stop offset="0.656" stop-color="#0025dd"/><stop offset="0.659" stop-color="#0009dd"/><stop offset="0.6651" stop-color="#0000dd"/><stop offset="0.6835" stop-color="#0000d1"/><stop offset="0.7049" stop-color="#0300aa"/><stop offset="0.7141" stop-color="#4300a2"/><stop offset="0.7202" stop-color="#58009f"/><stop offset="0.7232" stop-color="#6d009c"/><stop offset="0.7294" stop-color="#83009a"/><stop offset="0.7416" stop-color="#870098"/><stop offset="0.7446" stop-color="#00a7b3"/><stop offset="0.7477" stop-color="#00a7b3"/><stop offset="0.7508" stop-color="#0000dd"/><stop offset="0.7569" stop-color="#0000dd"/><stop offset="0.7599" stop-color="#008add"/><stop offset="0.7661" stop-color="#008add"/><stop offset="0.7691" stop-color="#007ddd"/><stop offset="0.7783" stop-color="#007ddd"/><stop offset="0.7813" stop-color="#0000dd"/><stop offset="0.7844" stop-color="#0098dd"/><stop offset="0.7875" stop-color="#0098dd"/><stop offset="0.7905" stop-color="#0000dd"/><stop offset="0.7936" stop-color="#0000dd"/><stop offset="0.7966" stop-color="#009fcb"/><stop offset="0.8058" stop-color="#009fcb"/><stop offset="0.8089" stop-color="#0000dd"/><stop offset="0.8211" stop-color="#0000dd"/><stop offset="0.8242" stop-color="#870098"/><stop offset="0.8272" stop-color="#870098"/><stop offset="0.8303" stop-color="#41004b"/><stop offset="0.867" stop-color="#41004b"/><stop offset="0.87" stop-color="#380040"/><stop offset="0.8761" stop-color="#380040"/><stop offset="0.8792" stop-color="#2f0035"/><stop offset="0.8884" stop-color="#2f0035"/><stop offset="0.8914" stop-color="#25002b"/><stop offset="0.9098" stop-color="#25002b"/><stop offset="0.9128" stop-color="#1c0020"/><stop offset="0.9281" stop-color="#1c0020"/><stop offset="0.9312" stop-color="#130015"/><stop offset="0.9465" stop-color="#130015"/><stop offset="0.9495" stop-color="#09000b"/><stop offset="0.9679" stop-color="#09000b"/><stop offset="0.9709" stop-color="#000000"/><stop offset="0.9985" stop-color="#000000"/></linearGradient>
<linearGradient id="g1_18" gradientUnits="userSpaceOnUse" x1="329.00" y1="0" x2="595.10" y2="0"><stop offset="0.001529" stop-color="#7a008b"/><stop offset="0.004587" stop-color="#000000"/><stop offset="0.1942" stop-color="#000000"/><stop offset="0.2003" stop-color="#130015"/><stop offset="0.2034" stop-color="#25002b"/><stop offset="0.2064" stop-color="#41004b"/><stop offset="0.2095" stop-color="#770088"/><stop offset="0.2187" stop-color="#870098"/><stop offset="0.2217" stop-color="#83009a"/><stop offset="0.2248" stop-color="#0d00a8"/><stop offset="0.2278" stop-color="#0000c9"/><stop offset="0.2309" stop-color="#0000d9"/><stop offset="0.2339" stop-color="#005ddd"/><stop offset="0.237" stop-color="#0080dd"/><stop offset="0.2431" stop-color="#009adb"/><stop offset="0.2554" stop-color="#009fcb"/><stop offset="0.2676" stop-color="#00a8af"/><stop offset="0.3318" stop-color="#00aa95"/><stop offset="0.3869" stop-color="#00aa88"/><stop offset="0.3899" stop-color="#00a97d"/><stop offset="0.393" stop-color="#00a97d"/><stop offset="0.4021" stop-color="#00a55d"/><stop offset="0.4052" stop-color="#00a248"/><stop offset="0.4113" stop-color="#009f33"/><stop offset="0.4144" stop-color="#009d1d"/><stop offset="0.4205" stop-color="#009a00"/><stop offset="0.4786" stop-color="#00bf00"/><stop offset="0.5153" stop-color="#00bc00"/><stop offset="0.5428" stop-color="#00a700"/><stop offset="0.5489" stop-color="#009a00"/><stop offset="0.555" stop-color="#009b13"/><stop offset="0.5581" stop-color="#009b13"/><stop offset="0.5642" stop-color="#009e28"/><stop offset="0.5673" stop-color="#00a13d"/><stop offset="0.5703" stop-color="#00a773"/><stop offset="0.5734" stop-color="#00aa8d"/><stop offset="0.5826" stop-color="#00aaa0"/><stop offset="0.604" stop-color="#00a6b7"/><stop offset="0.6131" stop-color="#009adb"/><stop offset="0.6407" stop-color="#008add"/><stop offset="0.6468" stop-color="#007add"/><stop offset="0.6498" stop-color="#0067dd"/><stop offset="0.656" stop-color="#0025dd"/><stop offset="0.659" stop-color="#0009dd"/><stop offset="0.6651" stop-color="#0000dd"/><stop offset="0.6835" stop-color="#0000d1"/><stop offset="0.7049" stop-color="#0300aa"/><stop offset="0.7141" stop-color="#4300a2"/><stop offset="0.7202" stop-color="#58009f"/><stop offset="0.7232" stop-color="#6d009c"/><stop offset="0.7294" stop-color="#83009a"/><stop offset="0.7416" stop-color="#870098"/><stop offset="0.7446" stop-color="#00a7b3"/><stop offset="0.7477" stop-color="#00a7b3"/><stop offset="0.7508" stop-color="#0000dd"/><stop offset="0.7569" stop-color="#0000dd"/><stop offset="0.7599" stop-color="#008add"/><stop offset="0.7661" stop-color="#008add"/><stop offset="0.7691" stop-color="#007ddd"/><stop offset="0.7783" stop-color="#007ddd"/><stop offset="0.7813" stop-color="#0000dd"/><stop offset="0.7844" stop-color="#0098dd"/><stop offset="0.7875" stop-color="#0098dd"/><stop offset="0.7905" stop-color="#0000dd"/><stop offset="0.7936" stop-color="#0000dd"/><stop offset="0.7966" stop-color="#009fcb"/><stop offset="0.8058" stop-color="#009fcb"/><stop offset="0.8089" stop-color="#0000dd"/><stop offset="0.8211" stop-color="#0000dd"/><stop offset="0.8242" stop-color="#870098"/><stop offset="0.8272" stop-color="#870098"/><stop offset="0.8303" stop-color="#41004b"/><stop offset="0.867" stop-color="#41004b"/><stop offset="0.87" stop-color="#380040"/><stop offset="0.8761" stop-color="#380040"/><stop offset="0.8792" stop-color="#2f0035"/><stop offset="0.8884" stop-color="#2f0035"/><stop offset="0.8914" stop-color="#25002b"/><stop offset="0.9098" stop-color="#25002b"/><stop offset="0.9128" stop-color="#1c0020"/><stop offset="0.9281" stop-color="#1c0020"/><stop offset="0.9312" stop-color="#130015"/><stop offset="0.9465" stop-color="#130015"/><stop offset="0.9495" stop-color="#09000b"/><stop offset="0.9679" stop-color="#09000b"/><stop offset="0.9709" stop-color="#000000"/><stop offset="0.9985" stop-color="#000000"/></linearGradient>
<linearGradient id="g1_19" gradientUnits="userSpaceOnUse" x1="329.00" y1="0" x2="595.10" y2="0"><stop offset="0.001529" stop-color="#7a008b"/><stop offset="0.004587" stop-color="#130015"/><stop offset="0.2125" stop-color="#130015"/><stop offset="0.2156" stop-color="#1c0020"/><stop offset="0.2187" stop-color="#1c0020"/><stop offset="0.2217" stop-color="#25002b"/><stop offset="0.2431" stop-color="#25002b"/><stop offset="0.2462" stop-color="#2f0035"/><stop offset="0.2492" stop-color="#2f0035"/><stop offset="0.2523" stop-color="#380040"/><stop offset="0.2554" stop-color="#380040"/><stop offset="0.2615" stop-color="#4b0055"/><stop offset="0.2645" stop-color="#4b0055"/><stop offset="0.2676" stop-color="#540060"/><stop offset="0.2737" stop-color="#540060"/><stop offset="0.2768" stop-color="#5d006b"/><stop offset="0.2829" stop-color="#5d006b"/><stop offset="0.2859" stop-color="#670075"/><stop offset="0.4602" stop-color="#670075"/><stop offset="0.4633" stop-color="#5d006b"/><stop offset="0.4694" stop-color="#5d006b"/><stop offset="0.4725" stop-color="#540060"/><stop offset="0.4817" stop-color="#540060"/><stop offset="0.4847" stop-color="#4b0055"/><stop offset="0.4939" stop-color="#4b0055"/><stop offset="0.4969" stop-color="#41004b"/><stop offset="0.5092" stop-color="#41004b"/><stop offset="0.5122" stop-color="#380040"/><stop offset="0.6162" stop-color="#380040"/><stop offset="0.6193" stop-color="#2f0035"/><stop offset="0.659" stop-color="#2f0035"/><stop offset="0.6621" stop-color="#41004b"/><stop offset="0.6651" stop-color="#5d006b"/><stop offset="0.6682" stop-color="#5d006b"/><stop offset="0.6713" stop-color="#380040"/><stop offset="0.6896" stop-color="#380040"/><stop offset="0.6927" stop-color="#2f0035"/><stop offset="0.8089" stop-color="#2f0035"/><stop offset="0.815" stop-color="#1c0020"/><stop offset="0.867" stop-color="#1c0020"/><stop offset="0.87" stop-color="#130015"/><stop offset="0.9251" stop-color="#130015"/><stop offset="0.9281" stop-color="#09000b"/><stop offset="0.974" stop-color="#09000b"/><stop offset="0.9771" stop-color="#000000"/><stop offset="0.9985" stop-color="#000000"/></linearGradient>
<linearGradient id="g1_20" gradientUnits="userSpaceOnUse" x1="329.00" y1="0" x2="595.10" y2="0"><stop offset="0.001529" stop-color="#7a008b"/><stop offset="0.004587" stop-color="#09000b"/><stop offset="0.2248" stop-color="#09000b"/><stop offset="0.2278" stop-color="#130015"/><stop offset="0.2492" stop-color="#130015"/><stop offset="0.2523" stop-color="#1c0020"/><stop offset="0.8884" stop-color="#1c0020"/><stop offset="0.8914" stop-color="#130015"/><stop offset="0.9251" stop-color="#130015"/><stop offset="0.9281" stop-color="#09000b"/><stop offset="0.9679" stop-color="#09000b"/><stop offset="0.9709" stop-color="#000000"/><stop offset="0.9985" stop-color="#000000"/></linearGradient>
<linearGradient id="g1_21" gradientUnits="userSpaceOnUse" x1="329.00" y1="0" x2="595.10" y2="0"><stop offset="0.001529" stop-color="#7a008b"/><stop offset="0.004587" stop-color="#000000"/><stop offset="0.185" stop-color="#000000"/><stop offset="0.1942" stop-color="#1c0020"/><stop offset="0.1972" stop-color="#41004b"/><stop offset="0.2003" stop-color="#7b008c"/><stop offset="0.2034" stop-color="#6d009c"/><stop offset="0.2064" stop-color="#0000d5"/><stop offset="0.2095" stop-color="#0041dd"/><stop offset="0.2125" stop-color="#0092dd"/><stop offset="0.2156" stop-color="#009fcb"/><stop offset="0.2187" stop-color="#00aaa8"/><stop offset="0.2217" stop-color="#00aa88"/><stop offset="0.2248" stop-color="#00b200"/><stop offset="0.2309" stop-color="#00ef00"/><stop offset="0.2339" stop-color="#00fc00"/><stop offset="0.2431" stop-color="#b0ff00"/><stop offset="0.2554" stop-color="#e0f300"/><stop offset="0.2676" stop-color="#f4e200"/><stop offset="0.292" stop-color="#fcd200"/><stop offset="0.3654" stop-color="#ecef00"/><stop offset="0.4817" stop-color="#e0f300"/><stop offset="0.5061" stop-color="#ccf900"/><stop offset="0.5153" stop-color="#b0ff00"/><stop offset="0.5183" stop-color="#a1ff00"/><stop offset="0.5214" stop-color="#84ff00"/><stop offset="0.5275" stop-color="#67ff00"/><stop offset="0.5367" stop-color="#0fff00"/><stop offset="0.5398" stop-color="#00ff00"/><stop offset="0.5703" stop-color="#00f700"/><stop offset="0.5917" stop-color="#00d400"/><stop offset="0.6101" stop-color="#00ba00"/><stop offset="0.6254" stop-color="#009c00"/><stop offset="0.6315" stop-color="#009a00"/><stop offset="0.6376" stop-color="#009b13"/><stop offset="0.6407" stop-color="#009b13"/><stop offset="0.656" stop-color="#00a248"/><stop offset="0.659" stop-color="#00a55d"/><stop offset="0.6621" stop-color="#00a668"/><stop offset="0.6651" stop-color="#00a97d"/><stop offset="0.6743" stop-color="#00aa90"/><stop offset="0.6927" stop-color="#00aaa5"/><stop offset="0.711" stop-color="#009adb"/><stop offset="0.7263" stop-color="#0085dd"/><stop offset="0.7294" stop-color="#007add"/><stop offset="0.7355" stop-color="#002fdd"/><stop offset="0.7416" stop-color="#0000dd"/><stop offset="0.7446" stop-color="#0092dd"/><stop offset="0.7477" stop-color="#0092dd"/><stop offset="0.7508" stop-color="#0000dd"/><stop offset="0.7569" stop-color="#0000dd"/><stop offset="0.7599" stop-color="#008add"/><stop offset="0.7783" stop-color="#0085dd"/><stop offset="0.7813" stop-color="#0000dd"/><stop offset="0.7844" stop-color="#008add"/><stop offset="0.7875" stop-color="#008add"/><stop offset="0.7905" stop-color="#0000dd"/><stop offset="0.7936" stop-color="#0000dd"/><stop offset="0.7966" stop-color="#008add"/><stop offset="0.8058" stop-color="#008add"/><stop offset="0.8089" stop-color="#0000dd"/><stop offset="0.8333" stop-color="#0000d9"/><stop offset="0.8456" stop-color="#0000d1"/><stop offset="0.8609" stop-color="#0300aa"/><stop offset="0.8639" stop-color="#1800a7"/><stop offset="0.87" stop-color="#2d00a4"/><stop offset="0.8731" stop-color="#4300a2"/><stop offset="0.8792" stop-color="#58009f"/><stop offset="0.8823" stop-color="#6d009c"/><stop offset="0.8884" stop-color="#83009a"/><stop offset="0.9526" stop-color="#850096"/><stop offset="0.9679" stop-color="#770088"/><stop offset="0.974" stop-color="#4b0055"/><stop offset="0.9771" stop-color="#380040"/><stop offset="0.9832" stop-color="#25002b"/><stop offset="0.9862" stop-color="#130015"/><stop offset="0.9924" stop-color="#000000"/><stop offset="0.9985" stop-color="#000000"/></linearGradient>
<clipPath id="c0"><rect x="0" y="28" width="640" height="368"/></clipPath></defs>
<g>
<rect x="49.00" y="28.00" width="266.10" height="368.00" fill="#0a000c"/>
<rect x="49.00" y="28.00" width="266.10" height="17.73" fill="url(#g0_0)"/>
<rect x="49.00" y="44.73" width="266.10" height="17.73" fill="url(#g0_1)"/>
<rect x="49.00" y="61.45" width="266.10" height="17.73" fill="url(#g0_2)"/>
<rect x="49.00" y="78.18" width="266.10" height="17.73" fill="url(#g0_3)"/>
<rect x="49.00" y="94.91" width="266.10" height="17.73" fill="url(#g0_4)"/>
<rect x="49.00" y="111.64" width="266.10" height="17.73" fill="url(#g0_5)"/>
<rect x="49.00" y="128.36" width="266.10" height="17.73" fill="url(#g0_6)"/>
<rect x="49.00" y="145.09" width="266.10" height="17.73" fill="url(#g0_7)"/>
<rect x="49.00" y="161.82" width="266.10" height="17.73" fill="url(#g0_8)"/>
<rect x="49.00" y="178.55" width="266.10" height="17.73" fill="url(#g0_9)"/>
<rect x="49.00" y="195.27" width="266.10" height="17.73" fill="url(#g0_10)"/>
<rect x="49.00" y="212.00" width="266.10" height="17.73" fill="url(#g0_11)"/>
<rect x="49.00" y="228.73" width="266.10" height="17.73" fill="url(#g0_12)"/>
<rect x="49.00" y="245.45" width="266.10" height="17.73" fill="url(#g0_13)"/>
<rect x="49.00" y="262.18" width="266.10" height="17.73" fill="url(#g0_14)"/>
<rect x="49.00" y="278.91" width="266.10" height="17.73" fill="url(#g0_15)"/>
<rect x="49.00" y="295.64" width="266.10" height="17.73" fill="url(#g0_16)"/>
<rect x="49.00" y="312.36" width="266.10" height="17.73" fill="url(#g0_17)"/>
<rect x="49.00" y="329.09" width="266.10" height="17.73" fill="url(#g0_18)"/>
<rect x="49.00" y="345.82" width="266.10" height="17.73" fill="url(#g0_19)"/>
<rect x="49.00" y="362.55" width="266.10" height="17.73" fill="url(#g0_20)"/>
<rect x="49.00" y="379.27" width="266.10" height="16.73" fill="url(#g0_21)"/>
</g>
<g>
<rect x="329.00" y="28.00" width="266.10" height="368.00" fill="#000"/>
<rect x="329.00" y="28.00" width="266.10" height="17.73" fill="url(#g1_0)"/>
<rect x="329.00" y="44.73" width="266.10" height="17.73" fill="url(#g1_1)"/>
<rect x="329.00" y="61.45" width="266.10" height="17.73" fill="url(#g1_2)"/>
<rect x="329.00" y="78.18" width="266.10" height="17.73" fill="url(#g1_3)"/>
<rect x="329.00" y="94.91" width="266.10" height="17.73" fill="url(#g1_4)"/>
<rect x="329.00" y="111.64" width="266.10" height="17.73" fill="url(#g1_5)"/>
<rect x="329.00" y="128.36" width="266.10" height="17.73" fill="url(#g1_6)"/>
<rect x="329.00" y="145.09" width="266.10" height="17.73" fill="url(#g1_7)"/>
<rect x="329.00" y="161.82" width="266.10" height="17.73" fill="url(#g1_8)"/>
<rect x="329.00" y="178.55" width="266.10" height="17.73" fill="url(#g1_9)"/>
<rect x="329.00" y="195.27" width="266.10" height="17.73" fill="url(#g1_10)"/>
<rect x="329.00" y="212.00" width="266.10" height="17.73" fill="url(#g1_11)"/>
<rect x="329.00" y="228.73" width="266.10" height="17.73" fill="url(#g1_12)"/>
<rect x="329.00" y="245.45" width="266.10" height="17.73" fill="url(#g1_13)"/>
<rect x="329.00" y="262.18" width="266.10" height="17.73" fill="url(#g1_14)"/>
<rect x="329.00" y="278.91" width="266.10" height="17.73" fill="url(#g1_15)"/>
<rect x="329.00" y="295.64" width="266.10" height="17.73" fill="url(#g1_16)"/>
<rect x="329.00" y="312.36" width="266.10" height="17.73" fill="url(#g1_17)"/>
<rect x="329.00" y="329.09" width="266.10" height="17.73" fill="url(#g1_18)"/>
<rect x="329.00" y="345.82" width="266.10" height="17.73" fill="url(#g1_19)"/>
<rect x="329.00" y="362.55" width="266.10" height="17.73" fill="url(#g1_20)"/>
<rect x="329.00" y="379.27" width="266.10" height="16.73" fill="url(#g1_21)"/>
</g>
<g clip-path="url(#c0)"><polyline class="ln" points="49.4,284.0 100.7,284.0 103.1,283.1 103.9,281.7 105.6,277.2 106.4,273.2 107.2,270.3 108.0,266.9 108.8,264.1 111.3,257.7 112.9,251.6 113.7,248.2 114.5,243.8 115.3,238.5 116.2,233.9 117.8,225.7 118.6,221.8 119.4,219.1 120.2,215.9 121.0,213.2 121.9,211.8 123.5,209.9 125.1,209.2 125.9,208.6 126.7,207.6 129.2,206.3 130.8,206.3 132.4,205.7 133.3,206.0 135.7,205.8 137.3,206.0 139.8,205.6 140.6,205.7 143.0,204.5 143.8,204.7 144.7,204.0 147.9,203.8 148.7,203.8 149.5,203.2 150.4,203.1 152.0,201.7 153.6,201.6 154.4,200.6 156.0,199.5 156.9,198.6 157.7,198.2 158.5,198.4 160.1,197.3 160.9,197.5 162.6,196.5 163.4,196.2 165.8,193.4 168.3,192.1 169.1,191.2 169.9,191.3 170.7,190.7 173.1,190.3 174.0,189.5 174.8,189.7 175.6,189.0 177.2,188.1 178.0,188.6 178.8,188.5 180.5,189.1 181.3,188.7 182.1,188.6 182.9,189.2 183.7,189.3 184.5,189.8 185.4,191.1 187.0,192.1 187.8,193.7 188.6,194.9 191.1,199.6 193.5,203.5 194.3,204.6 195.9,207.7 198.4,213.1 199.2,214.5 201.6,220.0 204.1,226.1 205.7,229.5 207.3,232.5 210.6,239.3 212.2,242.5 217.1,250.4 218.7,253.1 219.5,254.3 223.6,258.9 225.2,260.7 228.5,263.8 240.7,272.9 245.6,275.8 251.3,278.1 256.2,279.4 257.0,220.5 257.8,220.8 258.6,280.1 269.2,281.9 301.0,283.8 314.8,284.3"/>
<polyline class="ln" points="49.4,284.1 100.7,284.1 103.1,283.1 103.9,281.7 105.6,277.0 106.4,272.9 108.8,263.4 110.5,257.8 112.9,248.4 113.7,244.4 115.3,233.5 117.0,224.7 117.8,220.9 118.6,218.1 119.4,215.8 121.0,210.2 122.7,206.4 123.5,205.4 126.7,204.3 128.4,204.9 129.2,204.7 130.0,204.7 130.8,205.1 131.6,204.7 132.4,203.9 134.1,203.9 134.9,203.5 135.7,203.5 136.5,204.2 139.0,203.6 140.6,202.6 141.4,201.8 142.2,201.6 143.0,201.9 144.7,201.7 146.3,201.9 147.1,200.9 148.7,200.5 150.4,199.6 151.2,199.8 152.0,199.2 152.8,198.9 154.4,199.1 156.0,199.2 156.9,197.9 158.5,196.8 160.9,195.3 161.7,194.2 162.6,194.0 163.4,193.2 164.2,192.8 165.8,193.2 167.4,192.3 169.9,189.8 171.5,189.3 172.3,189.5 174.0,188.4 174.8,187.4 178.0,186.8 178.8,187.6 179.7,187.6 180.5,186.8 181.3,187.6 182.9,187.4 183.7,188.3 185.4,189.2 186.2,190.5 187.0,191.0 191.9,199.1 197.6,210.5 200.0,214.9 201.6,218.7 204.1,225.2 205.7,228.9 207.3,232.1 209.0,235.9 213.8,244.6 215.5,247.5 217.9,251.4 223.6,258.9 226.9,261.8 229.3,264.6 231.8,266.0 240.7,272.8 245.6,275.7 247.2,276.4 248.0,278.5 248.9,277.1 250.5,277.8 251.3,236.0 252.1,236.3 252.9,278.5 261.9,280.7 269.2,281.9 301.0,283.8 314.8,284.3"/>
<polyline class="ln" points="49.4,284.1 100.7,284.1 103.1,283.1 103.9,281.7 105.6,276.9 106.4,272.7 108.8,263.4 110.5,256.9 111.3,254.0 112.1,250.5 113.7,243.0 115.3,232.6 117.0,223.4 117.8,219.0 118.6,215.7 119.4,212.7 121.0,208.4 121.9,206.7 122.7,205.7 123.5,205.3 124.3,204.2 125.9,204.2 126.7,203.4 128.4,203.1 129.2,202.5 130.8,202.6 131.6,202.5 132.4,203.0 134.1,203.1 135.7,203.4 136.5,203.1 137.3,203.1 140.6,201.8 142.2,202.3 143.0,201.7 144.7,201.5 146.3,199.9 150.4,199.6 151.2,198.6 154.4,197.0 155.2,197.5 156.9,196.4 157.7,195.6 158.5,195.3 160.1,194.0 161.7,193.5 162.6,192.8 165.0,192.3 165.8,191.6 167.4,191.3 168.3,190.5 169.9,189.7 171.5,188.0 172.3,187.9 173.1,187.4 174.0,188.0 174.8,187.3 176.4,187.1 177.2,186.0 178.0,185.7 178.8,186.4 180.5,186.6 181.3,187.5 182.1,187.7 182.9,187.4 183.7,187.7 184.5,189.1 185.4,190.0 186.2,190.4 187.0,191.5 187.8,192.9 188.6,193.3 191.1,197.0 193.5,201.4 195.1,204.9 197.6,209.7 199.2,212.2 200.8,215.8 202.5,220.1 204.9,226.4 207.3,231.6 210.6,238.6 213.0,243.2 213.8,244.9 217.1,249.6 217.9,250.7 219.5,253.7 222.0,257.0 224.4,259.3 227.7,262.7 240.7,272.7 245.6,275.7 246.4,276.0 247.2,206.0 248.0,206.3 248.9,277.1 251.3,278.0 252.1,279.0 252.9,278.5 261.9,280.7 262.7,280.9 263.5,254.0 264.3,254.3 265.1,281.3 270.8,282.0 301.0,283.8 314.8,284.3"/>
<polyline class="ln" points="49.4,284.2 100.7,284.2 103.1,283.1 103.9,281.7 105.6,276.8 106.4,272.5 108.0,265.8 110.5,255.2 112.9,243.7 113.7,239.3 114.5,234.4 115.3,229.1 116.2,225.6 117.0,221.4 117.8,218.4 118.6,214.9 120.2,209.4 121.0,207.5 121.9,205.1 123.5,203.5 124.3,202.8 125.9,202.3 126.7,201.6 127.6,201.7 129.2,201.2 130.0,201.3 130.8,201.8 133.3,202.2 134.9,201.6 137.3,201.6 138.1,202.0 139.0,201.7 140.6,201.8 141.4,200.8 143.0,200.9 144.7,200.1 145.5,200.0 146.3,199.2 147.1,199.1 148.7,197.9 149.5,198.1 150.4,197.9 151.2,198.0 152.0,197.5 152.8,197.8 153.6,197.3 155.2,195.4 156.0,195.4 156.9,194.8 159.3,194.0 160.1,193.4 160.9,191.8 161.7,191.4 163.4,191.2 164.2,190.7 165.0,191.0 167.4,188.8 168.3,188.6 169.1,189.0 169.9,188.2 171.5,188.5 172.3,188.2 173.1,187.5 174.0,187.7 176.4,186.1 178.0,185.8 178.8,186.4 181.3,186.7 182.1,187.2 182.9,187.1 186.2,189.1 187.8,190.9 189.4,194.2 191.1,197.0 191.9,198.7 193.5,201.4 195.9,206.0 198.4,209.9 200.0,213.4 202.5,219.9 208.2,233.1 209.8,236.6 212.2,240.9 214.7,245.6 217.1,249.6 219.5,253.6 222.0,257.0 225.2,260.6 229.3,263.5 231.8,265.7 238.3,270.8 239.1,209.6 239.9,209.9 240.7,272.6 245.6,275.6 251.3,277.9 255.4,279.1 256.2,238.0 257.0,279.5 263.5,281.0 269.2,281.9 301.0,283.8 314.8,284.3"/>
<polyline class="ln" points="49.4,284.2 100.7,284.2 103.1,283.1 103.9,281.6 105.6,276.7 106.4,272.3 107.2,268.8 108.0,266.0 110.5,254.4 112.1,246.0 113.7,236.7 114.5,231.1 115.3,226.3 117.0,218.1 118.6,211.8 119.4,208.8 120.2,206.7 121.9,203.2 122.7,202.2 125.1,200.9 128.4,200.6 129.2,200.2 130.8,200.2 132.4,199.7 134.9,199.8 135.7,200.2 139.0,200.0 139.8,199.5 141.4,199.9 142.2,200.5 143.0,200.5 143.8,200.2 144.7,199.2 145.5,198.8 146.3,197.4 147.1,196.5 147.9,196.8 148.7,197.6 149.5,196.5 151.2,196.9 152.8,194.9 153.6,194.9 154.4,194.0 155.2,193.6 156.0,194.0 156.9,193.4 158.5,193.0 160.1,191.8 160.9,70.5 161.7,70.8 162.6,191.0 163.4,190.8 165.0,189.5 165.8,189.4 166.6,188.7 167.4,188.7 168.3,187.7 169.1,187.6 171.5,185.5 172.3,186.3 173.1,186.2 174.0,185.8 174.8,185.8 176.4,184.4 177.2,183.9 178.8,183.9 179.7,184.6 180.5,183.7 183.7,184.2 184.5,185.9 185.4,186.3 186.2,187.0 187.0,188.9 190.2,195.0 191.1,195.8 192.7,199.0 193.5,200.4 195.1,204.2 195.9,206.0 197.6,209.1 200.0,213.0 201.6,217.0 204.1,223.8 205.7,227.4 208.2,232.2 209.0,234.3 209.8,236.0 210.6,237.3 212.2,240.7 213.0,241.8 214.7,245.2 216.3,247.7 218.7,251.8 219.5,253.4 221.2,255.4 222.8,257.3 224.4,258.9 226.1,260.7 227.7,262.3 228.5,263.2 230.1,264.2 240.7,272.5 245.6,275.6 251.3,277.9 252.9,278.4 253.7,244.0 254.6,244.3 255.4,279.1 261.1,280.5 261.9,279.0 262.7,280.8 269.2,281.9 301.0,283.8 314.8,284.3"/>
<polyline class="ln" points="49.4,284.3 100.7,284.3 103.1,283.1 103.9,281.6 105.6,276.6 106.4,272.1 108.0,264.8 108.8,260.5 109.6,256.6 110.5,252.1 111.3,247.8 113.7,234.0 114.5,228.7 116.2,219.5 117.0,215.8 117.8,213.1 118.6,210.1 119.4,207.7 120.2,206.4 121.9,202.5 124.3,200.2 125.1,199.7 126.7,199.4 127.6,199.0 128.4,198.8 130.8,199.8 131.6,200.3 133.3,200.2 134.9,199.5 135.7,199.3 139.8,196.9 140.6,196.9 142.2,197.6 144.7,197.8 145.5,197.7 147.1,197.0 147.9,195.9 148.7,195.8 150.4,194.8 151.2,195.0 152.0,195.8 152.8,195.5 153.6,195.9 155.2,195.3 156.0,194.2 156.9,194.2 157.7,193.3 158.5,192.7 159.3,191.7 160.1,191.0 160.9,190.0 162.6,189.2 164.2,189.1 166.6,187.1 168.3,186.7 169.9,186.5 170.7,186.9 171.5,186.4 173.1,186.3 174.8,185.8 176.4,184.5 178.0,183.8 179.7,184.7 181.3,185.2 182.1,186.0 182.9,186.0 184.5,186.7 185.4,187.3 186.2,187.5 187.0,188.2 188.6,192.0 189.4,192.9 190.2,194.4 191.9,196.7 192.7,198.0 193.5,200.0 194.3,201.4 196.8,206.4 198.4,209.3 200.0,212.7 202.5,219.2 207.3,230.5 209.0,233.7 209.8,235.6 212.2,240.3 213.0,242.2 216.3,247.8 217.1,248.8 219.5,252.8 220.4,253.7 221.2,254.9 222.8,256.4 224.4,258.8 226.1,260.2 226.9,261.3 228.5,262.4 231.8,265.4 232.6,201.0 233.4,201.3 234.2,267.4 240.7,272.5 245.6,275.6 251.3,277.9 258.6,279.9 259.4,240.0 260.3,240.3 261.1,280.5 269.2,281.9 283.9,282.9 284.7,250.0 285.5,250.3 286.3,283.0 305.8,284.0 314.8,284.3"/>
<polyline class="ln" points="49.4,284.3 100.7,284.3 103.1,283.2 103.9,281.6 105.6,276.5 106.4,272.0 108.0,264.7 108.8,260.2 109.6,256.1 111.3,246.9 112.9,237.5 114.5,227.5 116.2,219.1 117.0,215.3 117.8,212.5 118.6,209.3 119.4,206.5 121.0,202.2 122.7,200.1 124.3,198.5 125.9,198.2 128.4,199.4 130.0,199.7 132.4,198.3 134.1,197.9 134.9,198.4 135.7,198.1 136.5,198.1 139.0,196.4 140.6,196.6 141.4,197.2 142.2,197.3 145.5,195.6 146.3,195.5 147.1,194.8 147.9,195.0 152.8,193.0 153.6,193.0 154.4,192.4 156.0,192.2 156.9,192.3 157.7,192.0 158.5,146.0 159.3,146.3 160.1,191.1 160.9,191.0 162.6,188.4 163.4,187.9 164.2,188.1 165.0,187.1 165.8,186.8 167.4,187.4 168.3,186.4 169.1,186.7 169.9,186.7 173.1,183.2 174.8,183.1 175.6,183.2 176.4,183.8 178.8,184.4 181.3,184.0 182.1,184.4 182.9,185.0 183.7,186.0 184.5,186.2 186.2,187.5 187.0,187.8 187.8,188.9 188.6,190.8 189.4,192.2 191.1,194.4 195.9,204.4 198.4,208.5 200.0,211.8 202.5,218.7 204.9,224.7 208.2,231.5 209.8,235.2 213.8,242.7 216.3,247.6 217.1,249.0 219.5,252.2 220.4,253.5 222.8,256.4 223.6,257.7 226.9,261.0 230.1,263.7 231.8,265.3 240.7,272.4 245.6,275.5 248.9,277.0 249.7,252.0 250.5,252.3 251.3,277.9 261.9,280.6 265.9,281.4 266.8,266.0 267.6,266.3 268.4,281.8 300.1,283.8 314.8,284.3"/>
<polyline class="ln" points="49.4,284.4 100.7,284.4 103.1,283.2 103.9,281.6 105.6,276.4 106.4,271.8 107.2,267.9 108.0,264.6 109.6,254.8 112.1,238.4 115.3,218.2 116.2,214.0 117.8,207.8 118.6,205.0 121.0,199.9 122.7,198.4 124.3,197.5 125.9,197.1 127.6,197.6 129.2,197.4 131.6,196.3 135.7,195.8 139.8,195.3 140.6,195.0 141.4,195.1 142.2,194.9 144.7,195.2 145.5,195.1 146.3,195.3 148.7,194.8 149.5,193.9 150.4,193.5 151.2,192.7 152.0,192.6 152.8,191.9 153.6,192.1 155.2,191.8 156.0,190.9 156.9,191.2 157.7,191.2 159.3,189.7 160.9,189.3 161.7,188.3 162.6,187.8 163.4,188.2 164.2,188.0 165.0,187.2 166.6,187.3 168.3,185.4 169.1,184.8 170.7,183.2 171.5,183.1 172.3,183.8 175.6,183.2 176.4,181.6 177.2,182.1 178.8,182.3 179.7,182.1 180.5,182.5 181.3,182.1 182.9,183.0 185.4,185.4 187.0,187.6 188.6,190.3 189.4,192.1 191.1,194.6 192.7,197.7 195.1,201.9 199.2,209.6 200.8,213.6 203.3,220.1 206.5,227.9 211.4,238.0 217.9,249.5 222.0,255.5 224.4,258.6 227.7,261.3 231.8,265.1 240.7,272.3 241.5,215.5 242.3,215.8 243.2,274.0 245.6,275.5 251.3,277.8 259.4,280.1 260.3,246.0 261.1,246.3 261.9,280.6 269.2,281.9 300.1,283.8 314.8,284.3"/>
<polyline class="ln" points="49.4,284.5 100.7,284.5 103.1,283.2 103.9,281.6 105.6,276.3 106.4,271.6 108.0,263.5 108.8,257.8 112.1,236.7 112.9,231.2 114.5,221.6 116.2,213.0 117.0,209.4 118.6,203.3 119.4,201.7 120.2,199.7 121.0,198.6 121.9,198.0 122.7,197.8 123.5,197.0 125.9,196.2 126.7,195.3 127.6,194.8 128.4,195.0 130.8,197.1 131.6,197.6 132.4,197.6 134.1,196.6 135.7,196.4 137.3,195.4 138.1,195.2 139.8,194.2 143.0,194.2 143.8,194.5 145.5,194.6 146.3,193.8 148.7,193.0 149.5,192.5 151.2,192.2 152.0,191.7 153.6,191.9 154.4,191.7 155.2,191.3 156.0,191.1 156.9,190.4 157.7,189.1 159.3,187.9 160.1,186.9 160.9,186.7 161.7,186.0 162.6,185.8 163.4,186.0 165.0,185.1 166.6,185.0 167.4,184.1 169.9,183.0 170.7,182.3 172.3,182.4 173.1,182.0 174.8,182.4 177.2,181.4 178.8,181.0 179.7,181.4 180.5,181.3 181.3,182.0 182.1,182.2 184.5,184.0 185.4,184.5 186.2,185.7 187.0,186.3 188.6,189.0 189.4,190.6 191.1,193.2 192.7,196.7 195.1,201.1 200.0,211.0 201.6,215.2 204.1,221.8 206.5,227.5 209.8,234.5 213.0,240.7 215.5,245.5 219.5,252.0 223.6,256.7 224.4,257.8 228.5,261.7 230.1,263.7 240.7,272.3 245.6,275.5 251.3,277.8 253.7,278.6 254.6,227.0 255.4,227.3 256.2,279.2 264.3,281.1 270.0,281.9 300.1,283.8 314.8,284.3"/>
<polyline class="ln" points="49.4,284.5 100.7,284.5 103.1,283.2 103.9,281.5 105.6,276.1 107.2,267.0 108.0,262.1 109.6,251.2 111.3,239.5 112.1,233.4 112.9,227.7 114.5,217.8 115.3,213.3 117.8,204.4 118.6,201.9 119.4,200.7 120.2,198.6 121.0,197.0 121.9,196.2 122.7,196.0 124.3,194.9 125.9,194.7 127.6,193.7 130.0,193.9 131.6,194.4 134.1,194.6 138.1,192.9 139.0,192.4 139.8,192.2 143.0,193.2 143.8,192.9 144.7,192.9 145.5,191.8 146.3,191.4 147.9,191.4 148.7,191.0 150.4,191.1 152.0,190.5 153.6,190.8 154.4,191.2 156.0,190.1 156.9,189.3 158.5,188.2 159.3,188.7 161.7,187.9 162.6,186.9 163.4,185.6 165.0,185.1 165.8,184.3 166.6,184.9 167.4,184.9 169.1,183.3 169.9,183.3 170.7,182.2 171.5,182.1 172.3,182.3 174.8,181.5 176.4,179.8 177.2,180.5 179.7,181.2 180.5,182.0 181.3,181.6 182.1,181.8 182.9,182.5 183.7,183.9 185.4,184.9 186.2,186.0 187.0,186.3 187.8,187.4 188.6,188.8 189.4,190.5 190.2,191.7 195.9,202.4 197.6,206.1 199.2,209.1 201.6,214.6 203.3,218.8 210.6,235.4 213.8,241.6 215.5,244.4 218.7,250.8 220.4,253.2 226.1,259.9 230.9,264.2 240.7,272.2 245.6,275.4 251.3,277.8 261.1,280.4 261.9,228.5 262.7,228.8 263.5,280.9 269.2,281.8 300.1,283.8 314.8,284.3"/>
<polyline class="ln" points="49.4,284.6 100.7,284.6 103.1,283.2 103.9,281.5 105.6,276.0 107.2,266.6 108.8,256.3 110.5,244.4 111.3,237.8 112.9,225.5 113.7,220.2 114.5,215.3 115.3,211.1 117.0,204.4 117.8,201.6 120.2,196.0 121.0,195.0 122.7,193.9 123.5,193.5 125.9,193.5 126.7,193.1 128.4,193.1 129.2,193.5 130.0,193.4 130.8,193.7 132.4,193.3 133.3,192.8 134.9,192.2 135.7,192.6 138.1,192.4 139.0,192.6 140.6,192.1 141.4,192.1 143.8,190.7 146.3,190.4 147.1,190.1 148.7,190.3 150.4,189.7 151.2,190.3 153.6,188.8 154.4,189.4 155.2,188.5 156.0,188.5 160.1,184.7 162.6,182.9 163.4,182.9 166.6,183.9 167.4,184.0 168.3,182.8 169.9,182.8 170.7,182.1 171.5,180.9 172.3,181.1 174.0,179.6 174.8,179.8 175.6,180.5 176.4,179.9 177.2,180.2 178.0,180.9 178.8,180.4 179.7,181.0 181.3,180.3 183.7,181.2 184.5,182.8 185.4,184.1 187.0,185.6 189.4,189.9 191.9,193.9 194.3,198.7 195.9,202.7 198.4,207.3 200.0,209.9 200.8,211.6 204.9,222.5 211.4,236.7 213.8,241.3 214.7,242.6 216.3,245.7 217.9,248.6 218.7,250.3 221.2,254.1 228.5,262.3 230.1,263.8 231.8,264.7 240.7,272.1 245.6,275.4 251.3,277.8 252.1,278.0 252.9,246.0 253.7,246.3 254.6,278.7 259.4,280.1 260.3,248.0 261.1,248.3 261.9,280.6 269.2,281.8 300.1,283.8 314.8,284.3"/>
<polyline class="ln" points="49.4,284.6 100.7,284.6 102.3,283.8 103.1,283.2 103.9,281.5 105.6,275.9 107.2,266.2 108.0,260.9 109.6,248.1 111.3,236.2 112.1,230.0 112.9,224.7 113.7,219.8 114.5,214.4 115.3,210.0 116.2,206.4 117.0,203.4 117.8,199.8 118.6,197.8 119.4,195.2 121.0,193.0 123.5,192.9 124.3,192.2 125.1,192.1 126.7,190.7 127.6,190.5 129.2,190.6 130.0,191.6 131.6,192.1 133.3,191.5 134.9,192.0 136.5,191.7 137.3,191.9 138.1,190.9 139.8,190.3 140.6,190.6 141.4,190.0 143.0,189.9 143.8,189.5 144.7,188.7 146.3,187.9 147.1,188.0 147.9,187.6 149.5,188.6 150.4,188.6 152.0,187.1 152.8,186.7 155.2,187.2 156.0,187.9 156.9,187.8 158.5,186.1 159.3,185.5 160.1,185.2 160.9,184.6 161.7,184.6 162.6,184.1 163.4,184.7 165.8,183.0 166.6,182.6 168.3,181.3 169.1,181.4 169.9,180.7 170.7,180.9 172.3,180.2 174.0,179.8 174.8,179.0 175.6,178.6 176.4,179.3 177.2,178.5 178.0,179.4 178.8,179.9 179.7,180.2 180.5,179.3 181.3,180.1 182.9,180.4 183.7,180.8 184.5,182.3 186.2,183.5 187.0,184.4 187.8,186.1 190.2,189.6 192.7,194.0 195.1,199.8 195.9,201.3 196.8,203.2 199.2,207.8 200.8,211.5 201.6,213.7 205.7,223.2 206.5,225.3 209.0,231.1 209.8,233.2 212.2,237.9 213.0,239.1 217.1,247.1 217.9,248.2 220.4,252.6 222.0,255.1 225.2,258.2 226.9,259.5 228.5,261.6 230.1,263.2 232.6,265.2 240.7,272.0 245.6,275.3 251.3,277.7 257.0,279.4 257.8,242.0 258.6,242.3 259.4,280.0 262.7,280.7 263.5,258.0 264.3,258.3 265.1,281.2 270.0,281.9 300.1,283.8 314.8,284.3"/>
<polyline class="ln" points="49.4,284.7 100.7,284.7 103.1,283.4 103.9,281.9 105.6,276.9 107.2,268.3 108.0,263.1 112.1,235.0 112.9,230.0 114.5,221.2 115.3,217.5 117.0,211.9 117.8,209.5 119.4,206.4 120.2,205.1 122.7,203.2 125.1,202.6 131.6,202.4 135.7,202.3 146.3,200.1 155.2,197.5 165.0,192.3 167.4,192.3 169.9,193.4 174.8,196.9 175.6,197.8 183.7,210.2 193.5,227.2 197.6,238.1 198.4,240.2 199.2,241.6 202.5,245.4 208.2,250.3 212.2,253.3 215.5,255.4 222.0,261.1 230.1,267.6 236.6,271.3 242.3,274.4 244.8,275.9 248.0,276.6 250.5,277.9 261.1,280.7 269.2,282.0 301.0,283.8 314.8,284.3"/>
<polyline class="ln" points="49.4,284.7 100.7,284.7 102.3,284.0 103.1,283.4 103.9,281.8 105.6,276.7 107.2,267.8 108.0,262.5 112.1,233.5 112.9,228.3 114.5,219.3 115.3,215.4 117.0,209.6 117.8,207.2 119.4,204.0 120.2,202.6 122.7,200.6 124.3,200.2 129.2,199.9 135.7,199.7 146.3,197.5 155.2,194.8 165.0,189.5 169.9,187.2 172.3,187.3 174.0,188.1 177.2,190.3 178.0,191.0 182.1,197.2 186.2,204.7 193.5,220.7 201.6,231.0 206.5,238.5 210.6,243.6 215.5,248.6 220.4,254.9 225.2,260.2 230.9,265.2 237.5,269.9 244.0,274.2 247.2,275.4 250.5,277.7 261.1,280.5 269.2,281.9 301.0,283.8 314.8,284.3"/>
<polyline class="ln" points="49.4,284.8 101.5,284.8 102.3,284.4 103.9,282.2 105.6,274.1 106.4,268.9 108.0,255.8 109.6,241.2 110.5,234.3 112.1,221.4 113.7,210.0 114.5,205.3 115.3,201.3 116.2,197.5 117.8,192.6 118.6,191.2 119.4,190.2 120.2,189.6 121.9,190.4 125.9,196.9 127.6,195.1 128.4,194.4 132.4,193.5 140.6,192.9 151.2,190.6 159.3,187.7 160.1,185.9 170.7,181.3 177.2,179.7 182.9,181.6 187.0,185.5 191.1,192.6 196.8,204.5 200.0,211.0 204.9,223.5 209.8,234.5 215.5,245.5 220.4,253.3 225.2,259.2 231.8,265.0 240.7,272.2 245.6,275.4 251.3,277.8 261.9,280.6 269.2,281.8 300.1,283.8 314.8,284.3"/>
<line x1="49.8" x2="49.8" y1="28" y2="284.4" stroke="#fff" stroke-width="2.08"/>
<polyline class="ln" points="329.4,283.5 381.5,283.5 382.3,283.3 383.9,282.0 384.8,280.5 386.4,273.0 387.2,267.0 388.0,260.7 389.6,247.4 392.1,228.3 392.9,221.4 393.7,216.2 395.3,207.8 396.2,203.9 398.6,198.0 399.4,196.7 400.2,195.9 401.9,193.3 405.9,190.4 406.7,190.2 408.4,189.2 410.0,188.5 410.8,188.6 413.3,187.7 414.1,187.7 414.9,186.3 415.7,186.5 416.5,186.2 417.3,186.1 418.1,185.8 419.0,185.9 419.8,185.4 420.6,185.7 421.4,185.4 423.0,183.6 423.8,183.3 425.5,180.8 426.3,180.1 427.1,180.2 427.9,179.6 429.5,179.4 431.2,178.8 432.0,178.1 432.8,176.9 434.4,175.5 436.0,173.4 436.9,172.5 438.5,169.8 440.1,167.7 441.7,166.2 443.4,164.8 444.2,164.5 445.0,164.6 447.4,164.1 450.7,162.1 451.5,162.0 453.1,160.6 454.0,160.5 455.6,159.1 457.2,159.0 458.8,159.7 459.7,159.6 460.5,159.2 461.3,159.4 462.1,159.1 462.9,159.7 464.5,160.4 466.2,161.3 467.0,162.1 469.4,163.9 470.2,165.5 471.1,166.7 471.9,168.6 472.7,169.7 474.3,172.4 476.8,177.8 478.4,180.8 480.0,184.7 482.5,189.8 483.3,191.3 484.9,194.8 486.5,198.7 488.2,201.7 490.6,207.4 491.4,209.7 493.0,213.5 496.3,218.4 497.1,220.1 497.9,222.3 498.7,224.1 499.5,225.3 500.4,227.2 502.0,230.0 502.8,230.9 504.4,234.0 506.1,236.4 506.9,238.0 510.9,243.1 511.8,244.3 518.3,252.5 519.1,253.2 520.7,256.0 521.5,257.0 522.3,257.6 523.2,258.6 525.6,260.3 526.4,259.7 527.2,255.5 528.0,255.1 528.9,256.4 529.7,257.2 530.5,256.3 531.3,256.5 532.1,255.0 533.7,257.8 535.4,257.2 536.2,255.3 537.0,257.7 537.8,187.0 538.6,187.3 539.4,256.9 540.3,255.1 541.1,255.4 541.9,255.9 542.7,255.5 543.5,257.3 544.3,257.5 545.1,256.0 545.9,256.0 546.8,255.3 547.6,255.3 548.4,257.1 549.2,273.4 550.0,274.5 561.4,279.4 562.2,279.6 566.3,279.2 579.3,281.8 594.8,284.1"/>
<polyline class="ln" points="329.4,283.6 381.5,283.6 382.3,283.3 383.9,282.0 384.8,280.4 386.4,272.8 387.2,266.7 391.3,232.7 393.7,215.6 395.3,208.0 396.2,204.6 397.8,200.3 398.6,197.8 401.0,192.4 401.9,190.9 402.7,190.7 403.5,189.4 404.3,189.6 405.1,189.0 405.9,188.0 406.7,187.5 407.6,187.9 409.2,186.9 411.6,186.2 413.3,186.0 414.1,186.4 414.9,186.3 415.7,185.2 416.5,185.0 419.0,183.8 419.8,184.1 421.4,183.5 422.2,182.4 424.7,180.0 427.1,178.5 428.7,177.3 429.5,176.2 431.2,175.3 432.0,175.3 432.8,174.4 434.4,173.8 435.2,173.1 436.0,172.1 436.9,171.5 439.3,168.9 440.9,167.4 441.7,167.5 442.6,166.5 443.4,166.1 444.2,165.2 445.0,165.0 445.8,163.6 446.6,163.5 447.4,162.7 449.1,161.7 449.9,161.0 450.7,160.7 452.3,160.5 453.1,159.8 454.0,160.0 454.8,159.1 456.4,158.3 458.8,158.6 459.7,159.0 460.5,159.0 462.1,159.4 462.9,160.3 463.7,160.0 464.5,160.8 466.2,160.7 467.0,160.9 467.8,161.6 468.6,161.8 469.4,162.6 470.2,163.8 472.7,168.5 473.5,169.9 475.1,173.2 476.8,175.9 479.2,180.7 480.0,182.8 480.8,185.3 481.6,187.4 484.9,194.4 488.2,201.5 489.8,204.8 493.0,211.6 496.3,216.9 497.9,220.4 500.4,225.1 501.2,226.4 502.8,230.1 504.4,232.8 505.2,233.9 506.1,234.5 506.9,235.6 510.1,242.2 510.9,243.4 513.4,246.1 515.0,248.3 519.9,253.5 520.7,254.6 522.3,256.0 524.0,257.8 525.6,259.2 526.4,258.8 527.2,256.8 528.0,255.2 528.9,184.5 529.7,184.8 530.5,257.5 531.3,257.2 532.1,168.0 532.9,168.3 533.7,257.8 534.6,258.0 535.4,256.0 536.2,255.7 537.0,257.4 537.8,255.2 538.6,256.1 539.4,255.2 540.3,256.0 541.1,255.2 541.9,255.9 542.7,257.4 543.5,257.7 544.3,257.4 545.1,256.7 545.9,256.8 547.6,255.5 548.4,256.3 549.2,273.4 550.0,274.5 561.4,279.4 562.2,279.6 566.3,279.2 579.3,281.8 594.8,284.1"/>
<polyline class="ln" points="329.4,283.6 381.5,283.6 382.3,283.4 383.9,282.0 384.8,280.3 386.4,272.6 387.2,266.4 388.0,259.1 390.5,238.3 391.3,231.8 392.9,219.8 393.7,214.5 395.3,205.8 396.2,202.4 397.0,200.3 397.8,197.8 398.6,195.8 400.2,192.6 401.9,190.4 404.3,188.3 405.1,187.1 405.9,186.6 406.7,187.0 408.4,185.9 409.2,186.3 410.0,185.8 410.8,184.8 412.4,185.4 413.3,184.4 414.9,183.9 415.7,182.9 416.5,182.6 417.3,183.1 418.1,182.5 419.8,182.4 421.4,180.4 422.2,180.2 424.7,178.1 426.3,177.6 427.1,176.8 428.7,176.6 430.4,174.8 432.0,173.3 432.8,172.4 435.2,170.8 436.9,170.5 437.7,169.7 438.5,169.3 440.1,167.4 440.9,165.8 442.6,164.5 443.4,163.6 445.0,162.8 445.8,163.0 447.4,162.4 448.3,161.3 449.1,161.3 449.9,160.2 450.7,159.7 452.3,159.5 455.6,157.6 456.4,156.6 458.0,156.0 459.7,157.1 460.5,158.5 461.3,158.6 462.1,158.3 462.9,158.4 463.7,159.0 464.5,158.6 465.4,159.1 466.2,160.1 467.8,160.2 468.6,160.8 469.4,161.6 470.2,162.9 471.9,166.2 474.3,169.4 475.1,171.7 475.9,172.9 476.8,175.3 478.4,179.0 479.2,179.9 480.0,181.9 481.6,184.9 482.5,186.1 484.1,190.8 487.3,198.3 489.0,201.6 490.6,205.5 493.0,210.6 493.8,211.9 494.7,213.7 497.1,217.8 498.7,221.1 500.4,224.9 502.0,227.0 502.8,228.5 504.4,230.8 506.1,234.3 507.7,237.0 508.5,238.0 509.3,239.7 511.8,242.6 512.6,244.1 513.4,244.6 516.6,248.4 518.3,250.7 519.1,252.2 519.9,253.4 521.5,254.7 522.3,256.1 523.2,256.9 524.8,258.8 525.6,259.5 526.4,259.4 527.2,162.5 528.0,162.8 528.9,255.1 529.7,257.3 530.5,255.9 531.3,257.1 532.1,257.2 532.9,257.8 533.7,256.2 534.6,256.1 535.4,257.4 537.0,257.0 537.8,257.4 538.6,256.9 539.4,257.9 540.3,256.0 541.1,257.2 541.9,257.8 542.7,256.0 543.5,256.8 544.3,256.1 545.1,256.4 545.9,255.2 546.8,255.1 547.6,257.3 548.4,256.4 549.2,273.3 550.0,274.4 561.4,279.3 562.2,279.6 566.3,279.2 579.3,281.8 594.8,284.1"/>
<polyline class="ln" points="329.4,283.7 381.5,283.7 382.3,283.4 383.9,282.0 384.8,280.3 386.4,272.4 387.2,266.1 388.8,252.7 389.6,245.5 390.5,238.0 391.3,231.0 392.1,224.8 392.9,218.1 393.7,212.3 396.2,200.4 397.8,195.8 399.4,191.9 401.9,188.4 402.7,187.7 403.5,186.6 404.3,186.0 405.1,186.0 405.9,184.7 406.7,184.4 407.6,184.5 409.2,183.5 410.0,183.8 413.3,183.0 414.1,181.8 415.7,180.8 416.5,180.0 417.3,179.6 418.1,179.9 419.8,179.7 420.6,179.3 422.2,178.0 424.7,176.4 425.5,176.3 427.1,174.6 427.9,174.2 428.7,174.2 429.5,173.8 430.4,173.7 431.2,172.9 432.0,172.7 433.6,171.4 435.2,170.8 436.9,169.3 438.5,168.0 439.3,166.9 440.1,166.2 441.7,166.4 442.6,165.3 443.4,165.7 444.2,164.9 445.8,162.6 446.6,162.4 447.4,161.0 449.1,159.9 449.9,160.0 450.7,159.4 451.5,159.5 454.0,157.7 456.4,156.6 457.2,157.4 458.0,157.3 459.7,158.2 460.5,158.2 461.3,158.0 462.1,158.2 463.7,157.6 464.5,158.2 466.2,158.2 467.0,159.1 468.6,159.6 470.2,162.1 471.9,165.1 472.7,166.3 474.3,169.1 476.8,174.0 478.4,176.7 480.0,180.6 480.8,182.3 483.3,188.6 484.1,190.1 484.9,192.3 487.3,196.6 488.2,198.6 489.8,201.4 492.2,206.4 494.7,212.3 497.9,219.3 498.7,221.2 502.0,227.3 506.9,234.1 508.5,237.4 511.8,242.1 512.6,243.1 514.2,246.1 517.5,249.5 518.3,250.2 519.1,189.5 519.9,189.8 520.7,253.4 523.2,256.8 525.6,258.9 526.4,259.1 527.2,256.9 528.0,257.2 528.9,256.3 529.7,204.5 530.5,204.8 531.3,257.4 532.1,257.5 532.9,257.2 533.7,257.6 534.6,256.9 535.4,257.1 536.2,255.6 537.0,257.3 537.8,256.0 538.6,256.3 539.4,256.0 540.3,256.7 541.1,257.0 541.9,256.7 542.7,256.0 543.5,255.7 544.3,257.5 545.1,255.9 545.9,256.3 546.8,255.3 547.6,255.9 548.4,255.3 549.2,273.2 550.0,274.4 561.4,279.3 562.2,279.5 566.3,279.1 579.3,281.8 594.8,284.1"/>
<polyline class="ln" points="329.4,283.8 381.5,283.8 382.3,283.5 383.9,282.0 384.8,280.2 386.4,272.2 388.0,259.5 389.6,245.5 390.5,238.1 391.3,231.1 392.1,224.9 392.9,218.1 393.7,211.7 394.5,207.5 395.3,203.8 396.2,199.7 397.0,197.2 397.8,195.2 398.6,192.3 401.9,186.1 402.7,185.8 403.5,184.4 405.9,183.7 406.7,183.3 407.6,183.5 410.8,181.9 411.6,181.0 413.3,181.1 414.9,180.2 415.7,180.6 417.3,179.2 419.0,179.4 421.4,178.0 422.2,177.0 424.7,175.1 426.3,174.7 427.1,173.7 427.9,173.6 429.5,172.5 431.2,172.5 433.6,171.2 435.2,169.4 436.0,168.1 438.5,166.9 439.3,166.2 440.1,165.9 440.9,32.8 441.7,33.1 442.6,163.4 444.2,162.3 445.8,161.9 448.3,159.8 449.1,159.3 449.9,159.0 450.7,158.3 451.5,158.6 454.0,157.4 454.8,157.3 455.6,156.0 457.2,155.9 458.8,155.6 460.5,155.8 461.3,155.4 462.9,155.6 465.4,157.1 466.2,157.3 467.8,159.8 469.4,161.4 471.1,163.5 471.9,164.0 476.8,172.0 479.2,176.7 480.8,180.7 482.5,184.0 484.9,190.6 486.5,195.0 488.2,198.4 489.8,201.5 492.2,207.1 496.3,214.9 497.9,219.1 500.4,224.3 501.2,225.6 502.8,227.8 503.6,229.1 505.2,232.5 506.9,234.7 508.5,236.5 509.3,237.2 510.1,238.5 511.8,242.5 513.4,245.2 514.2,246.4 515.0,246.9 517.5,249.7 519.1,251.6 519.9,252.2 523.2,256.2 524.0,257.6 525.6,259.4 526.4,260.0 527.2,256.0 528.0,257.1 528.9,257.9 530.5,255.8 531.3,257.0 532.1,256.9 532.9,257.5 533.7,256.6 534.6,257.7 535.4,256.2 536.2,255.9 537.0,256.6 537.8,257.8 539.4,256.5 540.3,256.5 541.1,256.9 541.9,256.3 542.7,256.7 543.5,196.5 544.3,196.8 545.1,257.5 545.9,255.4 546.8,256.7 547.6,256.1 548.4,257.7 549.2,273.2 550.0,274.3 561.4,279.3 562.2,279.5 566.3,279.1 579.3,281.7 594.8,284.1"/>
<polyline class="ln" points="329.4,283.8 381.5,283.8 382.3,283.5 383.9,282.0 384.8,280.2 386.4,272.0 388.0,258.9 389.6,244.0 390.5,237.0 391.3,229.6 393.7,211.1 394.5,206.4 396.2,198.2 397.0,196.1 397.8,192.9 399.4,188.9 400.2,187.8 401.0,185.6 401.9,185.4 402.7,184.6 405.1,182.9 406.7,181.2 408.4,180.2 409.2,180.4 410.8,180.0 411.6,180.4 412.4,179.7 413.3,179.5 414.1,178.9 414.9,178.8 415.7,178.3 416.5,178.6 417.3,177.9 418.1,177.6 419.0,177.8 420.6,176.3 422.2,176.3 423.0,175.6 424.7,175.3 425.5,174.8 426.3,173.3 429.5,170.7 432.0,170.1 433.6,169.1 435.2,168.1 437.7,166.0 439.3,165.1 440.9,165.0 442.6,164.0 445.0,160.9 445.8,160.2 447.4,159.2 448.3,159.3 449.1,158.7 450.7,158.7 451.5,159.1 452.3,158.4 453.1,157.9 454.0,156.6 454.8,155.9 455.6,154.9 456.4,155.1 457.2,154.6 458.0,155.5 459.7,154.5 462.1,155.4 463.7,157.7 465.4,157.2 467.8,157.6 469.4,158.8 471.1,160.9 472.7,164.1 474.3,166.5 475.1,168.5 476.8,171.1 477.6,173.1 480.0,178.1 481.6,182.0 482.5,183.2 483.3,184.8 484.1,187.1 485.7,190.8 486.5,193.2 487.3,194.7 488.2,195.8 489.0,197.6 489.8,198.9 493.0,207.1 493.8,209.6 494.7,210.8 496.3,214.5 497.9,217.1 500.4,221.6 501.2,222.7 502.8,226.2 503.6,228.2 504.4,229.4 505.2,231.0 506.9,233.6 507.7,234.6 510.1,239.0 510.9,239.4 512.6,242.4 513.4,170.5 514.2,170.8 515.0,245.6 515.8,246.2 517.5,248.6 518.3,248.9 519.9,251.1 520.7,251.3 521.5,251.9 522.3,253.5 524.0,255.2 525.6,257.5 526.4,257.9 527.2,255.9 528.0,257.8 528.9,255.7 529.7,256.3 530.5,257.9 531.3,256.8 532.1,257.8 533.7,255.7 534.6,257.1 535.4,256.6 536.2,256.5 537.0,255.4 537.8,255.4 538.6,257.8 540.3,257.9 541.1,256.1 541.9,255.1 542.7,256.7 543.5,257.2 544.3,256.9 545.1,211.5 545.9,211.8 546.8,257.1 547.6,255.2 548.4,257.5 549.2,273.1 550.0,274.2 561.4,279.3 562.2,279.5 564.7,279.2 565.5,194.3 566.3,194.6 567.1,279.2 579.3,281.7 594.8,284.1"/>
<polyline class="ln" points="329.4,283.9 381.5,283.9 382.3,283.6 383.9,282.0 384.8,280.1 386.4,271.9 387.2,265.2 388.0,258.9 388.8,251.2 389.6,243.0 390.5,235.2 392.1,222.2 392.9,215.6 393.7,210.2 394.5,206.1 395.3,201.5 396.2,197.2 397.0,194.8 398.6,189.2 399.4,187.0 401.0,184.9 401.9,183.5 402.7,183.0 403.5,182.8 405.1,180.8 405.9,180.0 406.7,180.0 408.4,179.0 409.2,179.5 410.0,179.4 411.6,178.5 412.4,178.5 414.9,176.6 415.7,176.6 416.5,175.7 418.1,174.7 419.8,174.3 421.4,175.0 423.0,174.1 423.8,173.8 424.7,173.2 425.5,172.0 426.3,171.9 427.1,171.1 428.7,170.4 429.5,170.2 430.4,169.4 431.2,169.1 432.0,159.0 432.8,159.3 433.6,166.4 434.4,166.7 436.0,165.5 436.9,165.3 437.7,164.9 438.5,163.5 440.1,162.9 440.9,162.3 443.4,161.7 444.2,161.2 445.0,161.3 445.8,161.0 446.6,159.9 448.3,159.2 449.9,157.2 451.5,157.5 453.1,156.9 454.8,157.1 455.6,156.1 457.2,155.9 458.8,155.0 459.7,155.8 461.3,155.6 462.1,155.8 463.7,155.4 464.5,155.8 465.4,155.3 466.2,155.6 467.0,157.0 468.6,158.8 469.4,160.3 471.9,162.9 473.5,164.6 475.1,166.8 476.8,170.3 478.4,173.6 480.8,178.5 483.3,183.9 485.7,191.0 486.5,192.7 487.3,195.0 489.8,199.5 490.6,201.6 492.2,204.6 493.8,208.7 495.5,211.6 496.3,213.6 497.9,216.5 500.4,221.8 502.0,224.7 505.2,230.3 507.7,234.8 510.9,239.3 512.6,241.2 515.0,244.8 517.5,247.3 522.3,253.0 524.8,257.0 525.6,258.1 526.4,258.6 527.2,258.0 528.0,165.5 528.9,165.8 529.7,257.9 530.5,257.3 531.3,256.4 532.1,256.4 532.9,257.7 533.7,256.1 534.6,255.2 535.4,256.8 536.2,255.9 537.0,257.0 537.8,257.8 538.6,256.1 540.3,255.2 541.1,257.5 541.9,255.2 542.7,257.9 543.5,257.1 544.3,257.7 545.1,257.4 545.9,255.6 546.8,255.5 547.6,257.9 548.4,255.9 549.2,273.1 550.0,274.2 561.4,279.2 562.2,279.4 566.3,279.0 579.3,281.7 594.8,284.1"/>
<polyline class="ln" points="329.4,284.0 381.5,284.0 382.3,283.6 383.9,282.0 384.8,280.1 386.4,271.7 387.2,265.0 388.0,258.7 388.8,251.2 389.6,243.2 391.3,227.7 392.9,215.0 393.7,209.0 394.5,204.4 395.3,200.2 396.2,196.6 397.8,190.5 398.6,188.1 400.2,184.6 401.0,183.2 401.9,182.0 404.3,179.4 405.1,178.8 405.9,178.6 406.7,179.0 408.4,178.5 410.0,177.6 410.8,176.9 412.4,177.0 413.3,176.8 414.1,175.7 414.9,175.2 416.5,173.5 418.1,173.9 419.0,173.2 419.8,173.4 420.6,173.0 421.4,172.0 422.2,171.4 424.7,170.1 425.5,170.7 426.3,171.0 427.1,170.8 427.9,170.2 428.7,170.0 430.4,168.1 431.2,168.1 432.0,167.3 434.4,166.1 435.2,165.4 437.7,164.7 438.5,164.7 440.1,164.3 440.9,163.8 442.6,161.7 445.0,159.3 445.8,159.1 446.6,148.5 447.4,148.8 448.3,158.1 449.1,158.4 451.5,157.6 452.3,157.8 454.0,156.5 454.8,156.2 455.6,155.1 456.4,154.3 458.0,153.7 458.8,153.2 459.7,153.7 461.3,153.7 463.7,154.8 466.2,155.5 467.8,156.6 469.4,158.4 470.2,159.0 473.5,163.5 475.9,167.8 477.6,171.4 480.0,175.1 480.8,176.5 481.6,178.5 482.5,180.8 485.7,188.1 487.3,192.0 489.8,197.8 490.6,199.5 493.0,205.8 495.5,211.0 497.1,213.6 497.9,215.2 499.5,217.5 501.2,221.1 502.8,224.8 505.2,229.0 506.1,230.2 507.7,233.5 510.1,237.7 515.0,244.5 516.6,246.1 518.3,248.4 519.1,249.3 520.7,251.6 521.5,195.0 522.3,195.3 523.2,253.8 525.6,255.9 526.4,257.0 527.2,257.4 528.0,255.5 528.9,255.9 529.7,257.0 530.5,255.7 531.3,257.3 532.1,257.6 532.9,256.0 533.7,255.9 534.6,255.1 535.4,256.3 536.2,255.2 537.0,256.7 537.8,257.1 538.6,256.7 539.4,195.5 540.3,195.8 541.1,257.7 541.9,256.6 542.7,257.6 543.5,256.1 544.3,255.4 545.1,255.7 545.9,257.4 546.8,255.7 547.6,257.3 548.4,257.7 549.2,273.0 550.0,274.1 561.4,279.2 562.2,279.4 566.3,279.0 579.3,281.7 594.8,284.1"/>
<polyline class="ln" points="329.4,284.0 381.5,284.0 382.3,283.7 383.9,282.0 384.8,280.0 386.4,271.5 387.2,264.7 389.6,242.7 391.3,226.8 392.1,220.3 392.9,213.3 393.7,206.7 394.5,202.0 396.2,193.6 397.8,189.6 399.4,185.2 401.0,182.3 401.9,180.3 403.5,179.4 404.3,178.6 405.9,177.3 406.7,177.0 409.2,176.9 410.0,177.3 410.8,177.2 411.6,176.1 413.3,175.9 414.1,175.0 414.9,175.1 415.7,174.9 416.5,174.0 418.1,173.5 419.0,172.7 419.8,172.9 420.6,172.0 421.4,171.4 422.2,171.5 423.0,170.9 423.8,169.9 424.7,170.3 425.5,169.6 426.3,168.5 427.9,167.8 431.2,167.2 432.0,167.1 432.8,166.4 433.6,165.3 434.4,165.1 436.0,163.6 436.9,163.3 437.7,163.8 438.5,163.5 439.3,162.6 440.1,119.5 440.9,119.8 441.7,160.5 442.6,160.0 443.4,160.2 447.4,158.0 449.9,156.6 450.7,155.7 451.5,155.8 452.3,155.4 453.1,155.5 454.0,154.6 454.8,154.3 455.6,153.7 456.4,153.5 457.2,152.6 458.8,154.1 459.7,153.6 461.3,154.4 462.1,153.8 462.9,153.9 463.7,154.6 464.5,154.4 467.8,156.5 468.6,157.4 470.2,158.7 472.7,161.7 473.5,162.4 474.3,163.5 475.1,164.1 475.9,165.2 478.4,170.1 480.0,173.9 480.8,175.4 482.5,180.2 484.1,184.1 484.9,186.3 486.5,189.1 488.2,193.7 489.0,195.0 489.8,197.1 490.6,199.7 491.4,200.7 492.2,202.2 493.0,204.7 493.8,206.8 494.7,208.1 495.5,210.4 496.3,212.1 497.9,214.8 501.2,221.7 502.8,224.4 503.6,226.3 505.2,228.8 507.7,232.0 510.1,237.2 512.6,240.7 513.4,241.7 515.0,245.0 516.6,246.5 517.5,247.5 518.3,248.1 520.7,251.7 522.3,253.9 523.2,254.4 524.0,255.4 525.6,258.5 526.4,259.3 527.2,256.6 528.0,255.4 528.9,256.9 529.7,256.1 530.5,257.7 531.3,255.7 532.1,255.7 532.9,256.4 533.7,256.5 534.6,189.5 535.4,189.8 536.2,257.0 537.0,256.4 537.8,255.2 538.6,256.2 540.3,256.3 541.1,255.1 541.9,255.8 542.7,257.9 543.5,257.6 544.3,257.8 545.1,257.3 545.9,256.3 546.8,257.8 547.6,255.9 548.4,256.8 549.2,273.0 550.0,274.1 561.4,279.2 562.2,279.4 566.3,279.0 579.3,281.7 594.8,284.1"/>
<polyline class="ln" points="329.4,284.1 381.5,284.1 382.3,283.8 383.9,282.0 384.8,280.0 386.4,271.4 387.2,264.5 388.8,249.7 389.6,241.9 390.5,233.8 391.3,226.1 392.1,219.0 393.7,206.4 395.3,197.3 396.2,193.8 397.0,191.0 398.6,186.5 400.2,183.6 401.9,179.8 403.5,178.4 404.3,176.9 406.7,175.8 407.6,175.2 409.2,175.1 410.0,174.6 411.6,174.7 414.9,172.2 415.7,171.7 416.5,171.9 417.3,171.0 419.0,170.5 420.6,169.5 422.2,169.8 423.0,169.1 423.8,169.0 426.3,167.3 427.1,167.6 429.5,166.6 432.0,166.0 434.4,165.1 436.0,163.4 437.7,162.7 439.3,161.1 440.1,161.6 440.9,161.3 441.7,160.5 443.4,161.0 445.8,158.7 446.6,157.5 447.4,155.9 449.1,155.1 449.9,155.5 451.5,155.3 452.3,154.8 453.1,154.6 454.0,153.7 455.6,153.4 456.4,152.9 458.0,152.8 458.8,152.3 460.5,152.4 461.3,152.0 462.9,153.1 465.4,153.2 467.0,154.3 467.8,155.1 469.4,157.7 471.1,159.5 472.7,161.8 474.3,162.8 475.1,163.6 476.8,166.3 479.2,171.4 480.8,174.5 483.3,180.5 484.1,182.9 485.7,187.2 486.5,189.0 487.3,191.4 489.0,194.3 490.6,197.1 492.2,201.1 493.8,206.5 494.7,208.6 496.3,211.7 497.9,213.9 499.5,217.4 502.0,221.9 504.4,224.8 506.9,229.8 508.5,233.7 510.9,238.2 513.4,241.4 514.2,242.3 515.0,243.7 516.6,245.3 518.3,247.7 519.1,248.2 520.7,250.9 522.3,252.8 523.2,254.2 524.8,255.9 525.6,257.1 526.4,257.6 527.2,256.8 528.9,255.8 529.7,256.0 530.5,256.9 531.3,255.9 533.7,256.0 534.6,257.5 535.4,256.6 536.2,255.1 537.0,257.2 537.8,256.5 538.6,257.3 539.4,256.5 540.3,255.9 541.1,184.0 541.9,184.3 542.7,255.8 543.5,256.5 544.3,257.6 545.1,255.3 547.6,257.0 548.4,255.3 549.2,272.9 550.0,274.0 561.4,279.2 562.2,279.4 566.3,279.0 579.3,281.7 594.8,284.1"/>
<polyline class="ln" points="329.4,284.2 381.5,284.2 382.3,283.8 383.9,282.0 384.8,279.9 386.4,271.2 387.2,264.2 388.0,256.3 389.6,241.2 390.5,232.7 391.3,225.5 392.9,211.7 393.7,205.3 394.5,201.8 395.3,197.1 396.2,193.0 397.0,190.6 398.6,183.8 399.4,181.2 400.2,179.4 401.9,177.0 402.7,176.2 403.5,175.9 404.3,175.2 405.1,174.1 406.7,174.5 407.6,174.2 408.4,174.8 409.2,174.8 410.0,173.5 410.8,173.1 411.6,173.1 413.3,171.5 414.1,171.7 414.9,171.3 416.5,169.9 417.3,170.2 421.4,168.0 423.8,165.9 424.7,165.9 426.3,164.7 427.1,165.2 427.9,165.4 429.5,165.0 430.4,165.2 432.8,163.1 434.4,162.7 436.0,161.3 437.7,160.9 438.5,160.0 440.1,159.8 441.7,159.3 442.6,159.4 443.4,159.0 445.0,159.3 446.6,157.2 447.4,156.6 448.3,156.3 449.1,154.8 451.5,154.1 452.3,153.3 454.8,153.5 458.0,153.0 459.7,152.3 460.5,152.4 462.1,151.6 464.5,153.6 466.2,154.5 467.0,155.5 470.2,156.4 471.1,156.9 472.7,158.9 475.9,164.5 476.8,166.1 478.4,170.0 480.0,173.3 481.6,175.5 483.3,179.1 485.7,186.0 487.3,190.2 491.4,198.6 493.8,204.1 494.7,206.2 496.3,209.6 497.9,213.7 500.4,218.6 502.0,221.5 502.8,223.1 504.4,225.5 508.5,232.7 509.3,234.0 511.8,237.1 514.2,241.0 515.0,242.9 515.8,244.4 518.3,247.8 519.1,248.2 521.5,251.3 524.0,253.3 525.6,255.6 526.4,258.7 527.2,257.3 528.0,256.7 530.5,255.9 531.3,257.7 532.1,258.0 532.9,255.5 533.7,255.6 534.6,257.0 536.2,257.5 537.0,255.9 538.6,255.2 539.4,256.1 540.3,256.7 541.1,257.6 541.9,255.1 542.7,255.3 543.5,257.0 544.3,257.0 545.1,255.4 546.8,255.1 547.6,256.9 548.4,255.8 549.2,272.8 550.0,274.0 561.4,279.1 562.2,279.4 566.3,278.9 579.3,281.7 594.8,284.1"/>
<polyline class="ln" points="329.4,284.2 381.5,284.2 382.3,283.9 383.9,282.0 384.8,279.9 386.4,271.0 387.2,264.0 388.0,256.5 390.5,232.6 392.1,217.6 393.7,204.2 394.5,199.6 395.3,194.4 396.2,190.4 397.8,184.5 398.6,181.9 401.0,177.4 402.7,175.3 403.5,173.8 404.3,173.1 405.9,172.3 408.4,172.9 409.2,172.2 411.6,171.0 412.4,170.1 413.3,170.2 414.1,169.2 414.9,169.1 415.7,168.6 416.5,168.7 417.3,168.2 418.1,168.6 419.8,167.7 421.4,167.1 422.2,166.5 423.0,166.1 423.8,166.6 426.3,165.6 427.1,165.2 427.9,164.2 430.4,163.1 432.0,162.7 432.8,162.2 433.6,162.2 435.2,161.4 436.0,161.4 436.9,160.6 440.1,158.6 440.9,158.8 441.7,158.2 442.6,158.0 445.0,156.1 445.8,155.7 446.6,155.7 448.3,155.2 450.7,153.5 451.5,154.1 452.3,153.8 454.0,154.3 455.6,152.7 456.4,152.7 457.2,151.9 461.3,150.6 462.1,151.0 462.9,151.9 464.5,152.7 465.4,152.6 467.0,154.0 468.6,154.8 469.4,155.7 470.2,155.9 471.9,157.3 472.7,157.8 473.5,159.1 475.1,160.9 475.9,162.1 477.6,165.4 478.4,167.6 484.1,180.2 484.9,182.6 486.5,186.3 487.3,188.6 488.2,190.4 489.0,191.9 490.6,195.7 492.2,200.1 493.0,201.3 494.7,204.7 496.3,207.6 497.1,210.0 501.2,219.0 502.0,220.4 502.8,222.4 504.4,225.8 506.1,228.6 508.5,231.6 509.3,233.1 511.8,238.3 512.6,239.8 513.4,240.7 514.2,241.9 516.6,244.3 517.5,245.6 519.1,247.7 519.9,249.0 524.8,254.3 525.6,255.7 526.4,258.3 527.2,255.7 528.0,257.0 528.9,255.4 529.7,256.6 530.5,255.3 531.3,255.2 532.1,257.0 532.9,257.4 533.7,256.4 534.6,256.2 535.4,257.1 536.2,255.2 537.0,255.8 537.8,257.7 538.6,257.8 539.4,255.1 540.3,255.0 541.1,257.3 541.9,256.4 542.7,257.3 544.3,256.3 545.1,257.1 545.9,256.8 546.8,255.0 548.4,257.6 549.2,272.8 550.0,273.9 561.4,279.1 562.2,279.3 566.3,278.9 579.3,281.7 594.8,284.1"/>
<polyline class="ln" points="329.4,284.3 381.5,284.3 382.3,283.9 383.9,281.7 385.6,272.0 386.4,265.6 388.0,249.3 389.6,231.4 390.5,222.9 392.1,206.7 393.7,192.0 394.5,186.0 395.3,180.7 396.2,175.9 397.8,169.3 398.6,167.3 399.4,165.7 400.2,164.4 402.7,163.2 403.5,163.2 405.9,164.5 409.2,161.4 411.6,160.6 412.4,160.9 414.9,162.9 418.1,164.5 420.6,164.1 422.2,164.6 423.8,165.4 427.9,164.5 432.8,162.0 439.3,157.9 440.1,158.5 450.7,151.9 457.2,149.1 462.1,149.1 466.2,150.8 470.2,154.7 475.1,161.9 480.0,172.2 485.7,186.4 495.5,208.9 500.4,219.1 505.2,228.2 510.9,237.6 515.8,244.6 524.8,255.9 526.4,257.4 527.2,257.3 528.9,256.9 529.7,257.4 530.5,255.9 531.3,256.2 532.9,257.5 533.7,256.0 534.6,255.5 536.2,256.3 537.0,255.3 537.8,256.9 538.6,257.7 539.4,256.0 540.3,257.9 541.1,256.3 541.9,256.6 542.7,257.9 544.3,256.5 545.1,257.3 545.9,256.4 546.8,257.2 547.6,255.7 548.4,255.2 549.2,272.6 550.0,273.8 561.4,279.0 562.2,279.2 566.3,278.8 579.3,281.6 594.8,284.1"/>
<line x1="329.8" x2="329.8" y1="28" y2="284.4" stroke="#fff" stroke-width="2.08"/>
</g>
<text class="t" transform="translate(181.30,16.20) scale(1.000,1.080)" text-anchor="middle">2.1 (Tile131=131) X</text>
<text class="t" transform="translate(461.30,16.20) scale(1.000,1.080)" text-anchor="middle">2.1 (Tile131=131) Y</text>
<text class="yl" transform="translate(2.6,217.7) rotate(-90) scale(0.96,1)" text-anchor="middle">Dipole</text>
<text class="yl" transform="translate(32.00,41.76) scale(0.940,1.000)" text-anchor="end">On</text>
<text class="yl" transform="translate(612.00,41.76) scale(0.940,1.000)">On</text>
<text class="yl" transform="translate(33.20,59.09) scale(0.940,1.000)" text-anchor="end">Y</text>
<text class="yl" transform="translate(612.00,59.09) scale(0.940,1.000)">Y</text>
<text class="yl" transform="translate(32.00,75.82) scale(0.940,1.000)" text-anchor="end">Off</text>
<text class="yl" transform="translate(612.00,75.82) scale(0.940,1.000)">Off</text>
<text class="yl" transform="translate(32.00,91.55) scale(0.940,1.000)" text-anchor="end">P</text>
<text class="yl" transform="translate(612.00,91.55) scale(0.940,1.000)">P</text>
<text class="yl" transform="translate(32.00,109.27) scale(0.940,1.000)" text-anchor="end">O</text>
<text class="yl" transform="translate(612.00,109.27) scale(0.940,1.000)">O</text>
<text class="yl" transform="translate(32.00,126.00) scale(0.940,1.000)" text-anchor="end">N</text>
<text class="yl" transform="translate(612.00,126.00) scale(0.940,1.000)">N</text>
<text class="yl" transform="translate(32.00,141.73) scale(0.940,1.000)" text-anchor="end">M</text>
<text class="yl" transform="translate(612.00,141.73) scale(0.940,1.000)">M</text>
<text class="yl" transform="translate(32.00,159.45) scale(0.940,1.000)" text-anchor="end">L</text>
<text class="yl" transform="translate(612.00,159.45) scale(0.940,1.000)">L</text>
<text class="yl" transform="translate(32.00,176.18) scale(0.940,1.000)" text-anchor="end">K</text>
<text class="yl" transform="translate(612.00,176.18) scale(0.940,1.000)">K</text>
<text class="yl" transform="translate(32.00,191.91) scale(0.940,1.000)" text-anchor="end">J</text>
<text class="yl" transform="translate(612.00,191.91) scale(0.940,1.000)">J</text>
<text class="yl" transform="translate(32.00,209.04) scale(0.940,1.000)" text-anchor="end">I</text>
<text class="yl" transform="translate(612.00,209.04) scale(0.940,1.000)">I</text>
<text class="yl" transform="translate(32.00,226.36) scale(0.940,1.000)" text-anchor="end">H</text>
<text class="yl" transform="translate(612.00,226.36) scale(0.940,1.000)">H</text>
<text class="yl" transform="translate(32.00,242.49) scale(0.940,1.000)" text-anchor="end">G</text>
<text class="yl" transform="translate(612.00,242.49) scale(0.940,1.000)">G</text>
<text class="yl" transform="translate(32.00,258.82) scale(0.940,1.000)" text-anchor="end">F</text>
<text class="yl" transform="translate(612.00,258.82) scale(0.940,1.000)">F</text>
<text class="yl" transform="translate(32.00,275.55) scale(0.940,1.000)" text-anchor="end">E</text>
<text class="yl" transform="translate(612.00,275.55) scale(0.940,1.000)">E</text>
<text class="yl" transform="translate(32.00,292.27) scale(0.940,1.000)" text-anchor="end">D</text>
<text class="yl" transform="translate(612.00,292.27) scale(0.940,1.000)">D</text>
<text class="yl" transform="translate(32.00,309.20) scale(0.940,1.000)" text-anchor="end">C</text>
<text class="yl" transform="translate(612.00,309.20) scale(0.940,1.000)">C</text>
<text class="yl" transform="translate(32.00,325.73) scale(0.940,1.000)" text-anchor="end">B</text>
<text class="yl" transform="translate(612.00,325.73) scale(0.940,1.000)">B</text>
<text class="yl" transform="translate(32.00,342.45) scale(0.940,1.000)" text-anchor="end">A</text>
<text class="yl" transform="translate(612.00,342.45) scale(0.940,1.000)">A</text>
<text class="yl" transform="translate(32.00,359.08) scale(0.940,1.000)" text-anchor="end">Off</text>
<text class="yl" transform="translate(612.00,359.08) scale(0.940,1.000)">Off</text>
<text class="yl" transform="translate(32.00,375.91) scale(0.940,1.000)" text-anchor="end">X</text>
<text class="yl" transform="translate(612.00,375.91) scale(0.940,1.000)">X</text>
<text class="yl" transform="translate(32.00,391.84) scale(0.940,1.000)" text-anchor="end">On</text>
<text class="yl" transform="translate(612.00,391.84) scale(0.940,1.000)">On</text>
<text class="wl" transform="translate(38.50,289.20) scale(0.940,1.000)" text-anchor="end">0</text>
<line x1="69.50" x2="74.40" y1="284.00" y2="284.00" stroke="#fff" stroke-width="1.11"/>
<text class="wl" transform="translate(80.00,289.20) scale(0.940,1.000)">0</text>
<text class="wl" transform="translate(38.50,241.10) scale(0.940,1.000)" text-anchor="end">5</text>
<line x1="69.50" x2="74.40" y1="235.90" y2="235.90" stroke="#fff" stroke-width="1.11"/>
<text class="wl" transform="translate(79.30,241.10) scale(0.940,1.000)">5</text>
<text class="wl" transform="translate(38.50,193.00) scale(0.940,1.000)" text-anchor="end">10</text>
<line x1="69.50" x2="74.40" y1="187.80" y2="187.80" stroke="#fff" stroke-width="1.11"/>
<text class="wl" transform="translate(79.30,193.00) scale(0.940,1.000)">10</text>
<text class="wl" transform="translate(38.50,144.90) scale(0.940,1.000)" text-anchor="end">15</text>
<line x1="69.50" x2="74.40" y1="139.70" y2="139.70" stroke="#fff" stroke-width="1.11"/>
<text class="wl" transform="translate(79.30,144.90) scale(0.940,1.000)">15</text>
<text class="wl" transform="translate(38.50,96.80) scale(0.940,1.000)" text-anchor="end">20</text>
<line x1="69.50" x2="74.40" y1="91.60" y2="91.60" stroke="#fff" stroke-width="1.11"/>
<text class="wl" transform="translate(79.30,96.80) scale(0.940,1.000)">20</text>
<text class="wl" transform="translate(38.50,48.70) scale(0.940,1.000)" text-anchor="end">25</text>
<line x1="69.50" x2="74.40" y1="43.50" y2="43.50" stroke="#fff" stroke-width="1.11"/>
<text class="wl" transform="translate(79.30,48.70) scale(0.940,1.000)">25</text>
<line x1="49.5" x2="49.5" y1="408.6" y2="413.6" stroke="#000" stroke-width="1"/>
<text class="xl" transform="translate(49.41,425.90) scale(0.945,1.000)" text-anchor="middle">0</text>
<line x1="90.5" x2="90.5" y1="408.6" y2="413.6" stroke="#000" stroke-width="1"/>
<text class="xl" transform="translate(90.11,425.90) scale(0.945,1.000)" text-anchor="middle">50</text>
<line x1="130.5" x2="130.5" y1="408.6" y2="413.6" stroke="#000" stroke-width="1"/>
<text class="xl" transform="translate(130.81,425.90) scale(0.945,1.000)" text-anchor="middle">100</text>
<line x1="171.5" x2="171.5" y1="408.6" y2="413.6" stroke="#000" stroke-width="1"/>
<text class="xl" transform="translate(171.52,425.90) scale(0.945,1.000)" text-anchor="middle">150</text>
<line x1="212.5" x2="212.5" y1="408.6" y2="413.6" stroke="#000" stroke-width="1"/>
<text class="xl" transform="translate(212.22,425.90) scale(0.945,1.000)" text-anchor="middle">200</text>
<line x1="252.5" x2="252.5" y1="408.6" y2="413.6" stroke="#000" stroke-width="1"/>
<text class="xl" transform="translate(252.92,425.90) scale(0.945,1.000)" text-anchor="middle">250</text>
<line x1="293.5" x2="293.5" y1="408.6" y2="413.6" stroke="#000" stroke-width="1"/>
<text class="xl" transform="translate(293.63,425.90) scale(0.945,1.000)" text-anchor="middle">300</text>
<text class="wl" transform="translate(318.50,289.20) scale(0.940,1.000)" text-anchor="end">0</text>
<line x1="350.50" x2="355.40" y1="284.00" y2="284.00" stroke="#fff" stroke-width="1.11"/>
<text class="wl" transform="translate(360.30,289.20) scale(0.940,1.000)">0</text>
<text class="wl" transform="translate(318.50,241.10) scale(0.940,1.000)" text-anchor="end">5</text>
<line x1="350.50" x2="355.40" y1="235.90" y2="235.90" stroke="#fff" stroke-width="1.11"/>
<text class="wl" transform="translate(360.30,241.10) scale(0.940,1.000)">5</text>
<text class="wl" transform="translate(318.50,193.00) scale(0.940,1.000)" text-anchor="end">10</text>
<line x1="350.50" x2="355.40" y1="187.80" y2="187.80" stroke="#fff" stroke-width="1.11"/>
<text class="wl" transform="translate(360.30,193.00) scale(0.940,1.000)">10</text>
<text class="wl" transform="translate(318.50,144.90) scale(0.940,1.000)" text-anchor="end">15</text>
<line x1="350.50" x2="355.40" y1="139.70" y2="139.70" stroke="#fff" stroke-width="1.11"/>
<text class="wl" transform="translate(360.30,144.90) scale(0.940,1.000)">15</text>
<text class="wl" transform="translate(318.50,96.80) scale(0.940,1.000)" text-anchor="end">20</text>
<line x1="350.50" x2="355.40" y1="91.60" y2="91.60" stroke="#fff" stroke-width="1.11"/>
<text class="wl" transform="translate(360.30,96.80) scale(0.940,1.000)">20</text>
<text class="wl" transform="translate(318.50,48.70) scale(0.940,1.000)" text-anchor="end">25</text>
<line x1="350.50" x2="355.40" y1="43.50" y2="43.50" stroke="#fff" stroke-width="1.11"/>
<text class="wl" transform="translate(360.30,48.70) scale(0.940,1.000)">25</text>
<line x1="329.5" x2="329.5" y1="408.6" y2="413.6" stroke="#000" stroke-width="1"/>
<text class="xl" transform="translate(329.41,425.90) scale(0.945,1.000)" text-anchor="middle">0</text>
<line x1="370.5" x2="370.5" y1="408.6" y2="413.6" stroke="#000" stroke-width="1"/>
<text class="xl" transform="translate(370.11,425.90) scale(0.945,1.000)" text-anchor="middle">50</text>
<line x1="410.5" x2="410.5" y1="408.6" y2="413.6" stroke="#000" stroke-width="1"/>
<text class="xl" transform="translate(410.81,425.90) scale(0.945,1.000)" text-anchor="middle">100</text>
<line x1="451.5" x2="451.5" y1="408.6" y2="413.6" stroke="#000" stroke-width="1"/>
<text class="xl" transform="translate(451.52,425.90) scale(0.945,1.000)" text-anchor="middle">150</text>
<line x1="492.5" x2="492.5" y1="408.6" y2="413.6" stroke="#000" stroke-width="1"/>
<text class="xl" transform="translate(492.22,425.90) scale(0.945,1.000)" text-anchor="middle">200</text>
<line x1="532.5" x2="532.5" y1="408.6" y2="413.6" stroke="#000" stroke-width="1"/>
<text class="xl" transform="translate(532.92,425.90) scale(0.945,1.000)" text-anchor="middle">250</text>
<line x1="573.5" x2="573.5" y1="408.6" y2="413.6" stroke="#000" stroke-width="1"/>
<text class="xl" transform="translate(573.63,425.90) scale(0.945,1.000)" text-anchor="middle">300</text>
</svg>
</body></html>
